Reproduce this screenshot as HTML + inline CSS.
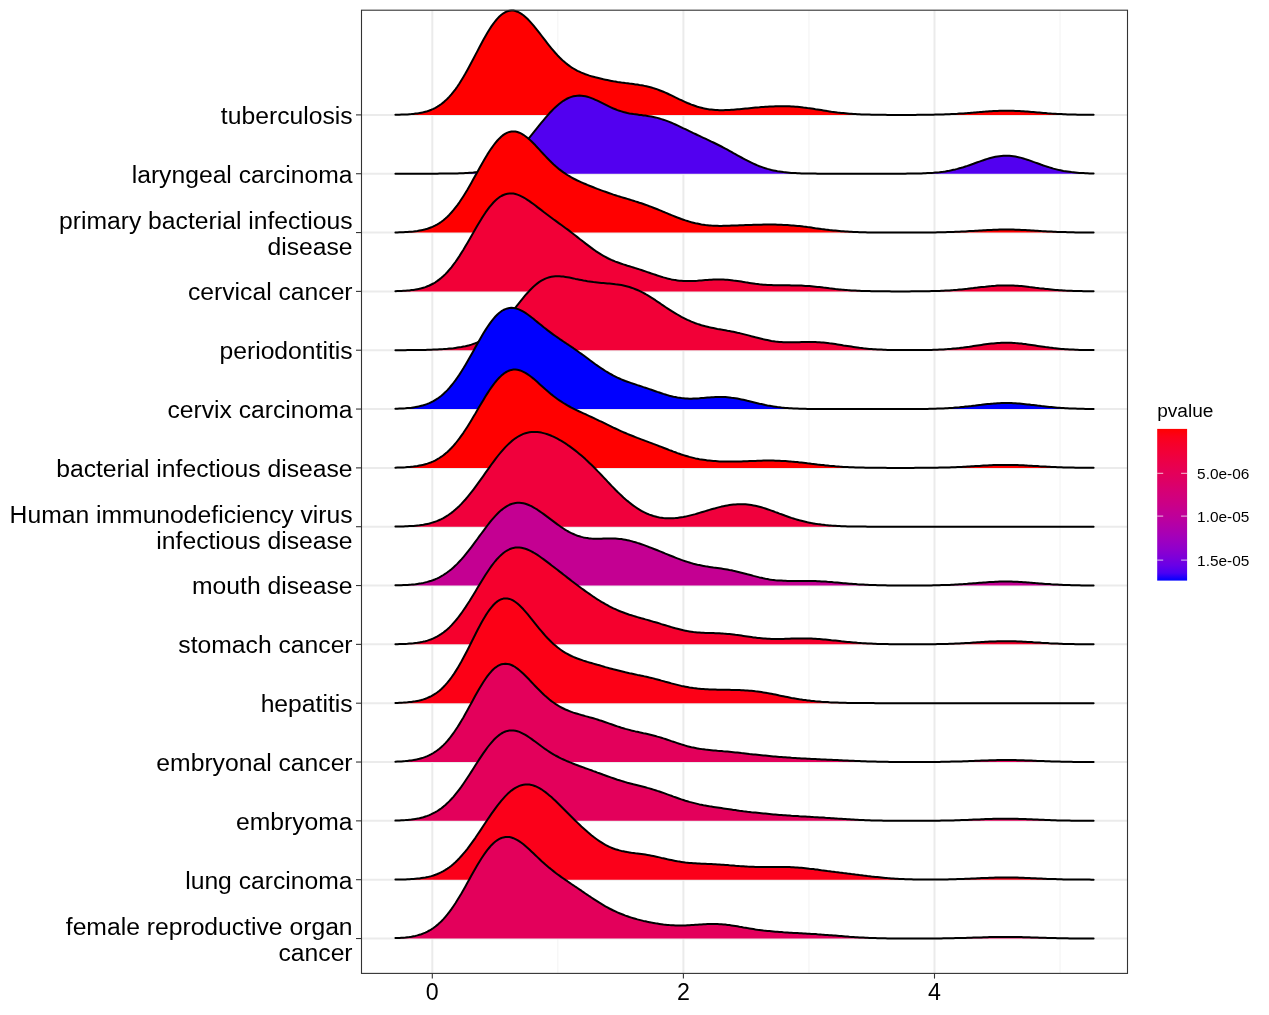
<!DOCTYPE html>
<html><head><meta charset="utf-8"><style>
html,body{margin:0;padding:0;background:#fff;width:1269px;height:1015px;overflow:hidden}
svg{display:block;will-change:transform}
text{font-family:"Liberation Sans",sans-serif;fill:#000}
</style></head><body>
<svg width="1269" height="1015" viewBox="0 0 1269 1015">
<rect width="1269" height="1015" fill="#fff"/>
<line x1="557.85" y1="10.2" x2="557.85" y2="973.4" stroke="#F4F4F4" stroke-width="1.1"/>
<line x1="808.95" y1="10.2" x2="808.95" y2="973.4" stroke="#F4F4F4" stroke-width="1.1"/>
<line x1="1060.05" y1="10.2" x2="1060.05" y2="973.4" stroke="#F4F4F4" stroke-width="1.1"/>
<line x1="432.30" y1="10.2" x2="432.30" y2="973.4" stroke="#EBEBEB" stroke-width="2"/>
<line x1="683.40" y1="10.2" x2="683.40" y2="973.4" stroke="#EBEBEB" stroke-width="2"/>
<line x1="934.50" y1="10.2" x2="934.50" y2="973.4" stroke="#EBEBEB" stroke-width="2"/>
<line x1="361.5" y1="114.90" x2="1127.5" y2="114.90" stroke="#EBEBEB" stroke-width="2"/>
<line x1="361.5" y1="173.73" x2="1127.5" y2="173.73" stroke="#EBEBEB" stroke-width="2"/>
<line x1="361.5" y1="232.56" x2="1127.5" y2="232.56" stroke="#EBEBEB" stroke-width="2"/>
<line x1="361.5" y1="291.39" x2="1127.5" y2="291.39" stroke="#EBEBEB" stroke-width="2"/>
<line x1="361.5" y1="350.22" x2="1127.5" y2="350.22" stroke="#EBEBEB" stroke-width="2"/>
<line x1="361.5" y1="409.05" x2="1127.5" y2="409.05" stroke="#EBEBEB" stroke-width="2"/>
<line x1="361.5" y1="467.88" x2="1127.5" y2="467.88" stroke="#EBEBEB" stroke-width="2"/>
<line x1="361.5" y1="526.71" x2="1127.5" y2="526.71" stroke="#EBEBEB" stroke-width="2"/>
<line x1="361.5" y1="585.54" x2="1127.5" y2="585.54" stroke="#EBEBEB" stroke-width="2"/>
<line x1="361.5" y1="644.37" x2="1127.5" y2="644.37" stroke="#EBEBEB" stroke-width="2"/>
<line x1="361.5" y1="703.20" x2="1127.5" y2="703.20" stroke="#EBEBEB" stroke-width="2"/>
<line x1="361.5" y1="762.03" x2="1127.5" y2="762.03" stroke="#EBEBEB" stroke-width="2"/>
<line x1="361.5" y1="820.86" x2="1127.5" y2="820.86" stroke="#EBEBEB" stroke-width="2"/>
<line x1="361.5" y1="879.69" x2="1127.5" y2="879.69" stroke="#EBEBEB" stroke-width="2"/>
<line x1="361.5" y1="938.52" x2="1127.5" y2="938.52" stroke="#EBEBEB" stroke-width="2"/>
<polygon points="395.4,114.90 395.4,114.8 397.4,114.7 399.4,114.7 401.4,114.6 403.4,114.5 405.4,114.5 407.4,114.4 409.4,114.2 411.4,114.1 413.4,113.9 415.4,113.6 417.4,113.4 419.4,113.1 421.4,112.7 423.4,112.3 425.4,111.7 427.4,111.2 429.4,110.5 431.4,109.7 433.4,108.8 435.4,107.8 437.4,106.7 439.4,105.4 441.4,104.0 443.4,102.4 445.4,100.6 447.4,98.7 449.4,96.6 451.4,94.4 453.4,91.9 455.4,89.3 457.4,86.5 459.4,83.5 461.4,80.3 463.4,77.0 465.4,73.6 467.4,70.0 469.4,66.3 471.4,62.6 473.4,58.8 475.4,54.9 477.4,51.1 479.4,47.3 481.4,43.5 483.4,39.8 485.4,36.2 487.4,32.8 489.4,29.5 491.4,26.4 493.4,23.6 495.4,21.0 497.4,18.6 499.4,16.5 501.4,14.8 503.4,13.3 505.4,12.1 507.4,11.3 509.4,10.8 511.4,10.5 513.4,10.6 515.4,11.0 517.4,11.7 519.4,12.7 521.4,13.9 523.4,15.3 525.4,17.0 527.4,18.8 529.4,20.9 531.4,23.1 533.4,25.4 535.4,27.8 537.4,30.3 539.4,32.9 541.4,35.5 543.4,38.1 545.4,40.7 547.4,43.3 549.4,45.8 551.4,48.3 553.4,50.7 555.4,53.0 557.4,55.2 559.4,57.3 561.4,59.2 563.4,61.1 565.4,62.8 567.4,64.4 569.4,65.9 571.4,67.3 573.4,68.5 575.4,69.7 577.4,70.8 579.4,71.7 581.4,72.6 583.4,73.4 585.4,74.2 587.4,74.9 589.4,75.6 591.4,76.2 593.4,76.7 595.4,77.3 597.4,77.8 599.4,78.3 601.4,78.8 603.4,79.3 605.4,79.7 607.4,80.1 609.4,80.5 611.4,80.9 613.4,81.3 615.4,81.6 617.4,82.0 619.4,82.3 621.4,82.6 623.4,82.8 625.4,83.1 627.4,83.3 629.4,83.6 631.4,83.8 633.4,84.1 635.4,84.4 637.4,84.6 639.4,85.0 641.4,85.3 643.4,85.6 645.4,86.1 647.4,86.5 649.4,87.0 651.4,87.5 653.4,88.1 655.4,88.8 657.4,89.4 659.4,90.2 661.4,91.0 663.4,91.8 665.4,92.6 667.4,93.5 669.4,94.5 671.4,95.4 673.4,96.4 675.4,97.4 677.4,98.3 679.4,99.3 681.4,100.2 683.4,101.2 685.4,102.1 687.4,103.0 689.4,103.8 691.4,104.6 693.4,105.3 695.4,106.0 697.4,106.7 699.4,107.3 701.4,107.8 703.4,108.3 705.4,108.7 707.4,109.1 709.4,109.4 711.4,109.6 713.4,109.8 715.4,110.0 717.4,110.1 719.4,110.2 721.4,110.2 723.4,110.2 725.4,110.1 727.4,110.0 729.4,109.9 731.4,109.8 733.4,109.7 735.4,109.5 737.4,109.3 739.4,109.2 741.4,109.0 743.4,108.8 745.4,108.6 747.4,108.4 749.4,108.2 751.4,108.0 753.4,107.8 755.4,107.6 757.4,107.4 759.4,107.3 761.4,107.1 763.4,106.9 765.4,106.8 767.4,106.7 769.4,106.5 771.4,106.4 773.4,106.4 775.4,106.3 777.4,106.2 779.4,106.2 781.4,106.2 783.4,106.2 785.4,106.2 787.4,106.2 789.4,106.3 791.4,106.4 793.4,106.5 795.4,106.7 797.4,106.8 799.4,107.0 801.4,107.2 803.4,107.5 805.4,107.7 807.4,108.0 809.4,108.2 811.4,108.5 813.4,108.8 815.4,109.2 817.4,109.5 819.4,109.8 821.4,110.1 823.4,110.4 825.4,110.7 827.4,111.1 829.4,111.4 831.4,111.7 833.4,111.9 835.4,112.2 837.4,112.5 839.4,112.7 841.4,112.9 843.4,113.1 845.4,113.3 847.4,113.5 849.4,113.7 851.4,113.8 853.4,114.0 855.4,114.1 857.4,114.2 859.4,114.3 861.4,114.4 863.4,114.5 865.4,114.5 867.4,114.6 869.4,114.6 871.4,114.7 873.4,114.7 875.4,114.7 877.4,114.8 879.4,114.8 881.4,114.8 883.4,114.8 885.4,114.8 887.4,114.9 889.4,114.9 891.4,114.9 893.4,114.9 895.4,114.9 897.4,114.9 899.4,114.9 901.4,114.9 903.4,114.9 905.4,114.9 907.4,114.9 909.4,114.9 911.4,114.9 913.4,114.9 915.4,114.9 917.4,114.8 919.4,114.8 921.4,114.8 923.4,114.8 925.4,114.8 927.4,114.8 929.4,114.7 931.4,114.7 933.4,114.7 935.4,114.6 937.4,114.6 939.4,114.5 941.4,114.5 943.4,114.4 945.4,114.3 947.4,114.3 949.4,114.2 951.4,114.1 953.4,114.0 955.4,113.9 957.4,113.8 959.4,113.6 961.4,113.5 963.4,113.4 965.4,113.2 967.4,113.1 969.4,112.9 971.4,112.7 973.4,112.6 975.4,112.4 977.4,112.2 979.4,112.1 981.4,111.9 983.4,111.7 985.4,111.6 987.4,111.4 989.4,111.3 991.4,111.2 993.4,111.1 995.4,111.0 997.4,110.9 999.4,110.8 1001.4,110.7 1003.4,110.7 1005.4,110.7 1007.4,110.7 1009.4,110.7 1011.4,110.8 1013.4,110.8 1015.4,110.9 1017.4,111.0 1019.4,111.1 1021.4,111.2 1023.4,111.3 1025.4,111.5 1027.4,111.6 1029.4,111.8 1031.4,112.0 1033.4,112.1 1035.4,112.3 1037.4,112.5 1039.4,112.6 1041.4,112.8 1043.4,113.0 1045.4,113.1 1047.4,113.3 1049.4,113.4 1051.4,113.6 1053.4,113.7 1055.4,113.8 1057.4,113.9 1059.4,114.0 1061.4,114.1 1063.4,114.2 1065.4,114.3 1067.4,114.4 1069.4,114.5 1071.4,114.5 1073.4,114.6 1075.4,114.6 1077.4,114.7 1079.4,114.7 1081.4,114.7 1083.4,114.8 1085.4,114.8 1087.4,114.8 1089.4,114.8 1091.4,114.8 1093.4,114.8 1093.6,114.8 1093.6,114.90" fill="#FF0000" stroke="none"/>
<polyline points="395.4,114.8 397.4,114.7 399.4,114.7 401.4,114.6 403.4,114.5 405.4,114.5 407.4,114.4 409.4,114.2 411.4,114.1 413.4,113.9 415.4,113.6 417.4,113.4 419.4,113.1 421.4,112.7 423.4,112.3 425.4,111.7 427.4,111.2 429.4,110.5 431.4,109.7 433.4,108.8 435.4,107.8 437.4,106.7 439.4,105.4 441.4,104.0 443.4,102.4 445.4,100.6 447.4,98.7 449.4,96.6 451.4,94.4 453.4,91.9 455.4,89.3 457.4,86.5 459.4,83.5 461.4,80.3 463.4,77.0 465.4,73.6 467.4,70.0 469.4,66.3 471.4,62.6 473.4,58.8 475.4,54.9 477.4,51.1 479.4,47.3 481.4,43.5 483.4,39.8 485.4,36.2 487.4,32.8 489.4,29.5 491.4,26.4 493.4,23.6 495.4,21.0 497.4,18.6 499.4,16.5 501.4,14.8 503.4,13.3 505.4,12.1 507.4,11.3 509.4,10.8 511.4,10.5 513.4,10.6 515.4,11.0 517.4,11.7 519.4,12.7 521.4,13.9 523.4,15.3 525.4,17.0 527.4,18.8 529.4,20.9 531.4,23.1 533.4,25.4 535.4,27.8 537.4,30.3 539.4,32.9 541.4,35.5 543.4,38.1 545.4,40.7 547.4,43.3 549.4,45.8 551.4,48.3 553.4,50.7 555.4,53.0 557.4,55.2 559.4,57.3 561.4,59.2 563.4,61.1 565.4,62.8 567.4,64.4 569.4,65.9 571.4,67.3 573.4,68.5 575.4,69.7 577.4,70.8 579.4,71.7 581.4,72.6 583.4,73.4 585.4,74.2 587.4,74.9 589.4,75.6 591.4,76.2 593.4,76.7 595.4,77.3 597.4,77.8 599.4,78.3 601.4,78.8 603.4,79.3 605.4,79.7 607.4,80.1 609.4,80.5 611.4,80.9 613.4,81.3 615.4,81.6 617.4,82.0 619.4,82.3 621.4,82.6 623.4,82.8 625.4,83.1 627.4,83.3 629.4,83.6 631.4,83.8 633.4,84.1 635.4,84.4 637.4,84.6 639.4,85.0 641.4,85.3 643.4,85.6 645.4,86.1 647.4,86.5 649.4,87.0 651.4,87.5 653.4,88.1 655.4,88.8 657.4,89.4 659.4,90.2 661.4,91.0 663.4,91.8 665.4,92.6 667.4,93.5 669.4,94.5 671.4,95.4 673.4,96.4 675.4,97.4 677.4,98.3 679.4,99.3 681.4,100.2 683.4,101.2 685.4,102.1 687.4,103.0 689.4,103.8 691.4,104.6 693.4,105.3 695.4,106.0 697.4,106.7 699.4,107.3 701.4,107.8 703.4,108.3 705.4,108.7 707.4,109.1 709.4,109.4 711.4,109.6 713.4,109.8 715.4,110.0 717.4,110.1 719.4,110.2 721.4,110.2 723.4,110.2 725.4,110.1 727.4,110.0 729.4,109.9 731.4,109.8 733.4,109.7 735.4,109.5 737.4,109.3 739.4,109.2 741.4,109.0 743.4,108.8 745.4,108.6 747.4,108.4 749.4,108.2 751.4,108.0 753.4,107.8 755.4,107.6 757.4,107.4 759.4,107.3 761.4,107.1 763.4,106.9 765.4,106.8 767.4,106.7 769.4,106.5 771.4,106.4 773.4,106.4 775.4,106.3 777.4,106.2 779.4,106.2 781.4,106.2 783.4,106.2 785.4,106.2 787.4,106.2 789.4,106.3 791.4,106.4 793.4,106.5 795.4,106.7 797.4,106.8 799.4,107.0 801.4,107.2 803.4,107.5 805.4,107.7 807.4,108.0 809.4,108.2 811.4,108.5 813.4,108.8 815.4,109.2 817.4,109.5 819.4,109.8 821.4,110.1 823.4,110.4 825.4,110.7 827.4,111.1 829.4,111.4 831.4,111.7 833.4,111.9 835.4,112.2 837.4,112.5 839.4,112.7 841.4,112.9 843.4,113.1 845.4,113.3 847.4,113.5 849.4,113.7 851.4,113.8 853.4,114.0 855.4,114.1 857.4,114.2 859.4,114.3 861.4,114.4 863.4,114.5 865.4,114.5 867.4,114.6 869.4,114.6 871.4,114.7 873.4,114.7 875.4,114.7 877.4,114.8 879.4,114.8 881.4,114.8 883.4,114.8 885.4,114.8 887.4,114.9 889.4,114.9 891.4,114.9 893.4,114.9 895.4,114.9 897.4,114.9 899.4,114.9 901.4,114.9 903.4,114.9 905.4,114.9 907.4,114.9 909.4,114.9 911.4,114.9 913.4,114.9 915.4,114.9 917.4,114.8 919.4,114.8 921.4,114.8 923.4,114.8 925.4,114.8 927.4,114.8 929.4,114.7 931.4,114.7 933.4,114.7 935.4,114.6 937.4,114.6 939.4,114.5 941.4,114.5 943.4,114.4 945.4,114.3 947.4,114.3 949.4,114.2 951.4,114.1 953.4,114.0 955.4,113.9 957.4,113.8 959.4,113.6 961.4,113.5 963.4,113.4 965.4,113.2 967.4,113.1 969.4,112.9 971.4,112.7 973.4,112.6 975.4,112.4 977.4,112.2 979.4,112.1 981.4,111.9 983.4,111.7 985.4,111.6 987.4,111.4 989.4,111.3 991.4,111.2 993.4,111.1 995.4,111.0 997.4,110.9 999.4,110.8 1001.4,110.7 1003.4,110.7 1005.4,110.7 1007.4,110.7 1009.4,110.7 1011.4,110.8 1013.4,110.8 1015.4,110.9 1017.4,111.0 1019.4,111.1 1021.4,111.2 1023.4,111.3 1025.4,111.5 1027.4,111.6 1029.4,111.8 1031.4,112.0 1033.4,112.1 1035.4,112.3 1037.4,112.5 1039.4,112.6 1041.4,112.8 1043.4,113.0 1045.4,113.1 1047.4,113.3 1049.4,113.4 1051.4,113.6 1053.4,113.7 1055.4,113.8 1057.4,113.9 1059.4,114.0 1061.4,114.1 1063.4,114.2 1065.4,114.3 1067.4,114.4 1069.4,114.5 1071.4,114.5 1073.4,114.6 1075.4,114.6 1077.4,114.7 1079.4,114.7 1081.4,114.7 1083.4,114.8 1085.4,114.8 1087.4,114.8 1089.4,114.8 1091.4,114.8 1093.4,114.8 1093.6,114.8" fill="none" stroke="#000" stroke-width="2.0" stroke-linejoin="round" stroke-linecap="round"/>
<polygon points="395.4,173.73 395.4,173.7 397.4,173.7 399.4,173.7 401.4,173.7 403.4,173.7 405.4,173.7 407.4,173.7 409.4,173.7 411.4,173.7 413.4,173.7 415.4,173.7 417.4,173.7 419.4,173.7 421.4,173.7 423.4,173.7 425.4,173.7 427.4,173.7 429.4,173.7 431.4,173.7 433.4,173.7 435.4,173.7 437.4,173.7 439.4,173.6 441.4,173.6 443.4,173.6 445.4,173.6 447.4,173.6 449.4,173.6 451.4,173.5 453.4,173.5 455.4,173.5 457.4,173.4 459.4,173.3 461.4,173.3 463.4,173.2 465.4,173.1 467.4,173.0 469.4,172.8 471.4,172.7 473.4,172.5 475.4,172.2 477.4,172.0 479.4,171.7 481.4,171.3 483.4,170.9 485.4,170.4 487.4,169.9 489.4,169.3 491.4,168.6 493.4,167.9 495.4,167.0 497.4,166.1 499.4,165.1 501.4,164.0 503.4,162.7 505.4,161.4 507.4,159.9 509.4,158.4 511.4,156.7 513.4,155.0 515.4,153.1 517.4,151.2 519.4,149.1 521.4,146.9 523.4,144.7 525.4,142.4 527.4,140.0 529.4,137.6 531.4,135.2 533.4,132.7 535.4,130.2 537.4,127.7 539.4,125.2 541.4,122.7 543.4,120.3 545.4,117.9 547.4,115.6 549.4,113.3 551.4,111.2 553.4,109.1 555.4,107.2 557.4,105.4 559.4,103.7 561.4,102.2 563.4,100.8 565.4,99.6 567.4,98.5 569.4,97.6 571.4,96.9 573.4,96.3 575.4,95.9 577.4,95.7 579.4,95.6 581.4,95.7 583.4,96.0 585.4,96.3 587.4,96.8 589.4,97.4 591.4,98.1 593.4,98.9 595.4,99.8 597.4,100.7 599.4,101.7 601.4,102.7 603.4,103.7 605.4,104.7 607.4,105.7 609.4,106.7 611.4,107.6 613.4,108.5 615.4,109.3 617.4,110.1 619.4,110.8 621.4,111.4 623.4,112.0 625.4,112.5 627.4,113.0 629.4,113.4 631.4,113.7 633.4,114.1 635.4,114.3 637.4,114.6 639.4,114.9 641.4,115.1 643.4,115.4 645.4,115.6 647.4,115.9 649.4,116.2 651.4,116.6 653.4,117.0 655.4,117.4 657.4,117.9 659.4,118.5 661.4,119.1 663.4,119.7 665.4,120.4 667.4,121.1 669.4,121.9 671.4,122.7 673.4,123.6 675.4,124.5 677.4,125.4 679.4,126.3 681.4,127.3 683.4,128.3 685.4,129.2 687.4,130.2 689.4,131.2 691.4,132.1 693.4,133.1 695.4,134.0 697.4,135.0 699.4,135.9 701.4,136.9 703.4,137.8 705.4,138.7 707.4,139.7 709.4,140.6 711.4,141.6 713.4,142.5 715.4,143.5 717.4,144.5 719.4,145.5 721.4,146.5 723.4,147.6 725.4,148.7 727.4,149.7 729.4,150.8 731.4,151.9 733.4,153.1 735.4,154.2 737.4,155.3 739.4,156.4 741.4,157.5 743.4,158.6 745.4,159.7 747.4,160.7 749.4,161.7 751.4,162.7 753.4,163.6 755.4,164.5 757.4,165.4 759.4,166.2 761.4,166.9 763.4,167.6 765.4,168.3 767.4,168.9 769.4,169.4 771.4,170.0 773.4,170.4 775.4,170.8 777.4,171.2 779.4,171.5 781.4,171.8 783.4,172.1 785.4,172.3 787.4,172.5 789.4,172.7 791.4,172.9 793.4,173.0 795.4,173.1 797.4,173.2 799.4,173.3 801.4,173.4 803.4,173.4 805.4,173.5 807.4,173.5 809.4,173.6 811.4,173.6 813.4,173.6 815.4,173.6 817.4,173.7 819.4,173.7 821.4,173.7 823.4,173.7 825.4,173.7 827.4,173.7 829.4,173.7 831.4,173.7 833.4,173.7 835.4,173.7 837.4,173.7 839.4,173.7 841.4,173.7 843.4,173.7 845.4,173.7 847.4,173.7 849.4,173.7 851.4,173.7 853.4,173.7 855.4,173.7 857.4,173.7 859.4,173.7 861.4,173.7 863.4,173.7 865.4,173.7 867.4,173.7 869.4,173.7 871.4,173.7 873.4,173.7 875.4,173.7 877.4,173.7 879.4,173.7 881.4,173.7 883.4,173.7 885.4,173.7 887.4,173.7 889.4,173.7 891.4,173.7 893.4,173.7 895.4,173.7 897.4,173.7 899.4,173.7 901.4,173.7 903.4,173.7 905.4,173.7 907.4,173.6 909.4,173.6 911.4,173.6 913.4,173.6 915.4,173.5 917.4,173.5 919.4,173.4 921.4,173.4 923.4,173.3 925.4,173.2 927.4,173.1 929.4,173.0 931.4,172.9 933.4,172.8 935.4,172.6 937.4,172.4 939.4,172.2 941.4,171.9 943.4,171.7 945.4,171.4 947.4,171.0 949.4,170.7 951.4,170.3 953.4,169.8 955.4,169.4 957.4,168.9 959.4,168.3 961.4,167.8 963.4,167.2 965.4,166.5 967.4,165.9 969.4,165.2 971.4,164.5 973.4,163.8 975.4,163.0 977.4,162.3 979.4,161.6 981.4,160.9 983.4,160.2 985.4,159.5 987.4,158.9 989.4,158.3 991.4,157.8 993.4,157.3 995.4,156.8 997.4,156.5 999.4,156.2 1001.4,155.9 1003.4,155.8 1005.4,155.7 1007.4,155.7 1009.4,155.8 1011.4,156.0 1013.4,156.3 1015.4,156.6 1017.4,157.0 1019.4,157.4 1021.4,157.9 1023.4,158.5 1025.4,159.1 1027.4,159.8 1029.4,160.4 1031.4,161.1 1033.4,161.9 1035.4,162.6 1037.4,163.3 1039.4,164.0 1041.4,164.8 1043.4,165.5 1045.4,166.1 1047.4,166.8 1049.4,167.4 1051.4,168.0 1053.4,168.6 1055.4,169.1 1057.4,169.6 1059.4,170.1 1061.4,170.5 1063.4,170.9 1065.4,171.2 1067.4,171.5 1069.4,171.8 1071.4,172.1 1073.4,172.3 1075.4,172.5 1077.4,172.7 1079.4,172.9 1081.4,173.0 1083.4,173.1 1085.4,173.2 1087.4,173.3 1089.4,173.4 1091.4,173.4 1093.4,173.5 1093.6,173.5 1093.6,173.73" fill="#5200F0" stroke="none"/>
<polyline points="395.4,173.7 397.4,173.7 399.4,173.7 401.4,173.7 403.4,173.7 405.4,173.7 407.4,173.7 409.4,173.7 411.4,173.7 413.4,173.7 415.4,173.7 417.4,173.7 419.4,173.7 421.4,173.7 423.4,173.7 425.4,173.7 427.4,173.7 429.4,173.7 431.4,173.7 433.4,173.7 435.4,173.7 437.4,173.7 439.4,173.6 441.4,173.6 443.4,173.6 445.4,173.6 447.4,173.6 449.4,173.6 451.4,173.5 453.4,173.5 455.4,173.5 457.4,173.4 459.4,173.3 461.4,173.3 463.4,173.2 465.4,173.1 467.4,173.0 469.4,172.8 471.4,172.7 473.4,172.5 475.4,172.2 477.4,172.0 479.4,171.7 481.4,171.3 483.4,170.9 485.4,170.4 487.4,169.9 489.4,169.3 491.4,168.6 493.4,167.9 495.4,167.0 497.4,166.1 499.4,165.1 501.4,164.0 503.4,162.7 505.4,161.4 507.4,159.9 509.4,158.4 511.4,156.7 513.4,155.0 515.4,153.1 517.4,151.2 519.4,149.1 521.4,146.9 523.4,144.7 525.4,142.4 527.4,140.0 529.4,137.6 531.4,135.2 533.4,132.7 535.4,130.2 537.4,127.7 539.4,125.2 541.4,122.7 543.4,120.3 545.4,117.9 547.4,115.6 549.4,113.3 551.4,111.2 553.4,109.1 555.4,107.2 557.4,105.4 559.4,103.7 561.4,102.2 563.4,100.8 565.4,99.6 567.4,98.5 569.4,97.6 571.4,96.9 573.4,96.3 575.4,95.9 577.4,95.7 579.4,95.6 581.4,95.7 583.4,96.0 585.4,96.3 587.4,96.8 589.4,97.4 591.4,98.1 593.4,98.9 595.4,99.8 597.4,100.7 599.4,101.7 601.4,102.7 603.4,103.7 605.4,104.7 607.4,105.7 609.4,106.7 611.4,107.6 613.4,108.5 615.4,109.3 617.4,110.1 619.4,110.8 621.4,111.4 623.4,112.0 625.4,112.5 627.4,113.0 629.4,113.4 631.4,113.7 633.4,114.1 635.4,114.3 637.4,114.6 639.4,114.9 641.4,115.1 643.4,115.4 645.4,115.6 647.4,115.9 649.4,116.2 651.4,116.6 653.4,117.0 655.4,117.4 657.4,117.9 659.4,118.5 661.4,119.1 663.4,119.7 665.4,120.4 667.4,121.1 669.4,121.9 671.4,122.7 673.4,123.6 675.4,124.5 677.4,125.4 679.4,126.3 681.4,127.3 683.4,128.3 685.4,129.2 687.4,130.2 689.4,131.2 691.4,132.1 693.4,133.1 695.4,134.0 697.4,135.0 699.4,135.9 701.4,136.9 703.4,137.8 705.4,138.7 707.4,139.7 709.4,140.6 711.4,141.6 713.4,142.5 715.4,143.5 717.4,144.5 719.4,145.5 721.4,146.5 723.4,147.6 725.4,148.7 727.4,149.7 729.4,150.8 731.4,151.9 733.4,153.1 735.4,154.2 737.4,155.3 739.4,156.4 741.4,157.5 743.4,158.6 745.4,159.7 747.4,160.7 749.4,161.7 751.4,162.7 753.4,163.6 755.4,164.5 757.4,165.4 759.4,166.2 761.4,166.9 763.4,167.6 765.4,168.3 767.4,168.9 769.4,169.4 771.4,170.0 773.4,170.4 775.4,170.8 777.4,171.2 779.4,171.5 781.4,171.8 783.4,172.1 785.4,172.3 787.4,172.5 789.4,172.7 791.4,172.9 793.4,173.0 795.4,173.1 797.4,173.2 799.4,173.3 801.4,173.4 803.4,173.4 805.4,173.5 807.4,173.5 809.4,173.6 811.4,173.6 813.4,173.6 815.4,173.6 817.4,173.7 819.4,173.7 821.4,173.7 823.4,173.7 825.4,173.7 827.4,173.7 829.4,173.7 831.4,173.7 833.4,173.7 835.4,173.7 837.4,173.7 839.4,173.7 841.4,173.7 843.4,173.7 845.4,173.7 847.4,173.7 849.4,173.7 851.4,173.7 853.4,173.7 855.4,173.7 857.4,173.7 859.4,173.7 861.4,173.7 863.4,173.7 865.4,173.7 867.4,173.7 869.4,173.7 871.4,173.7 873.4,173.7 875.4,173.7 877.4,173.7 879.4,173.7 881.4,173.7 883.4,173.7 885.4,173.7 887.4,173.7 889.4,173.7 891.4,173.7 893.4,173.7 895.4,173.7 897.4,173.7 899.4,173.7 901.4,173.7 903.4,173.7 905.4,173.7 907.4,173.6 909.4,173.6 911.4,173.6 913.4,173.6 915.4,173.5 917.4,173.5 919.4,173.4 921.4,173.4 923.4,173.3 925.4,173.2 927.4,173.1 929.4,173.0 931.4,172.9 933.4,172.8 935.4,172.6 937.4,172.4 939.4,172.2 941.4,171.9 943.4,171.7 945.4,171.4 947.4,171.0 949.4,170.7 951.4,170.3 953.4,169.8 955.4,169.4 957.4,168.9 959.4,168.3 961.4,167.8 963.4,167.2 965.4,166.5 967.4,165.9 969.4,165.2 971.4,164.5 973.4,163.8 975.4,163.0 977.4,162.3 979.4,161.6 981.4,160.9 983.4,160.2 985.4,159.5 987.4,158.9 989.4,158.3 991.4,157.8 993.4,157.3 995.4,156.8 997.4,156.5 999.4,156.2 1001.4,155.9 1003.4,155.8 1005.4,155.7 1007.4,155.7 1009.4,155.8 1011.4,156.0 1013.4,156.3 1015.4,156.6 1017.4,157.0 1019.4,157.4 1021.4,157.9 1023.4,158.5 1025.4,159.1 1027.4,159.8 1029.4,160.4 1031.4,161.1 1033.4,161.9 1035.4,162.6 1037.4,163.3 1039.4,164.0 1041.4,164.8 1043.4,165.5 1045.4,166.1 1047.4,166.8 1049.4,167.4 1051.4,168.0 1053.4,168.6 1055.4,169.1 1057.4,169.6 1059.4,170.1 1061.4,170.5 1063.4,170.9 1065.4,171.2 1067.4,171.5 1069.4,171.8 1071.4,172.1 1073.4,172.3 1075.4,172.5 1077.4,172.7 1079.4,172.9 1081.4,173.0 1083.4,173.1 1085.4,173.2 1087.4,173.3 1089.4,173.4 1091.4,173.4 1093.4,173.5 1093.6,173.5" fill="none" stroke="#000" stroke-width="2.0" stroke-linejoin="round" stroke-linecap="round"/>
<polygon points="395.4,232.56 395.4,232.4 397.4,232.4 399.4,232.3 401.4,232.2 403.4,232.2 405.4,232.1 407.4,232.0 409.4,231.8 411.4,231.7 413.4,231.5 415.4,231.2 417.4,231.0 419.4,230.6 421.4,230.2 423.4,229.8 425.4,229.3 427.4,228.7 429.4,228.0 431.4,227.3 433.4,226.4 435.4,225.4 437.4,224.3 439.4,223.1 441.4,221.7 443.4,220.2 445.4,218.5 447.4,216.7 449.4,214.7 451.4,212.5 453.4,210.2 455.4,207.7 457.4,205.1 459.4,202.3 461.4,199.3 463.4,196.2 465.4,193.0 467.4,189.7 469.4,186.2 471.4,182.7 473.4,179.1 475.4,175.5 477.4,171.9 479.4,168.3 481.4,164.7 483.4,161.2 485.4,157.8 487.4,154.4 489.4,151.3 491.4,148.3 493.4,145.5 495.4,142.9 497.4,140.5 499.4,138.4 501.4,136.5 503.4,134.9 505.4,133.6 507.4,132.6 509.4,131.9 511.4,131.5 513.4,131.4 515.4,131.5 517.4,132.0 519.4,132.7 521.4,133.6 523.4,134.8 525.4,136.2 527.4,137.7 529.4,139.4 531.4,141.3 533.4,143.3 535.4,145.3 537.4,147.5 539.4,149.6 541.4,151.8 543.4,154.0 545.4,156.1 547.4,158.2 549.4,160.3 551.4,162.3 553.4,164.2 555.4,166.0 557.4,167.7 559.4,169.4 561.4,170.9 563.4,172.4 565.4,173.7 567.4,175.0 569.4,176.2 571.4,177.4 573.4,178.5 575.4,179.5 577.4,180.5 579.4,181.4 581.4,182.3 583.4,183.2 585.4,184.0 587.4,184.9 589.4,185.7 591.4,186.5 593.4,187.3 595.4,188.1 597.4,188.9 599.4,189.6 601.4,190.4 603.4,191.1 605.4,191.8 607.4,192.5 609.4,193.2 611.4,193.9 613.4,194.6 615.4,195.2 617.4,195.9 619.4,196.5 621.4,197.1 623.4,197.7 625.4,198.3 627.4,198.9 629.4,199.5 631.4,200.1 633.4,200.7 635.4,201.4 637.4,202.0 639.4,202.7 641.4,203.3 643.4,204.0 645.4,204.7 647.4,205.4 649.4,206.2 651.4,206.9 653.4,207.7 655.4,208.5 657.4,209.3 659.4,210.1 661.4,210.9 663.4,211.8 665.4,212.6 667.4,213.4 669.4,214.3 671.4,215.1 673.4,215.9 675.4,216.7 677.4,217.5 679.4,218.2 681.4,219.0 683.4,219.7 685.4,220.4 687.4,221.0 689.4,221.6 691.4,222.2 693.4,222.7 695.4,223.2 697.4,223.6 699.4,224.0 701.4,224.4 703.4,224.7 705.4,225.0 707.4,225.2 709.4,225.4 711.4,225.6 713.4,225.7 715.4,225.8 717.4,225.8 719.4,225.9 721.4,225.9 723.4,225.8 725.4,225.8 727.4,225.8 729.4,225.7 731.4,225.6 733.4,225.6 735.4,225.5 737.4,225.4 739.4,225.3 741.4,225.2 743.4,225.2 745.4,225.1 747.4,225.0 749.4,225.0 751.4,224.9 753.4,224.8 755.4,224.8 757.4,224.7 759.4,224.7 761.4,224.7 763.4,224.6 765.4,224.6 767.4,224.6 769.4,224.6 771.4,224.6 773.4,224.6 775.4,224.6 777.4,224.7 779.4,224.7 781.4,224.8 783.4,224.9 785.4,225.0 787.4,225.1 789.4,225.2 791.4,225.4 793.4,225.5 795.4,225.7 797.4,225.9 799.4,226.1 801.4,226.3 803.4,226.6 805.4,226.8 807.4,227.1 809.4,227.3 811.4,227.6 813.4,227.9 815.4,228.2 817.4,228.4 819.4,228.7 821.4,229.0 823.4,229.2 825.4,229.5 827.4,229.7 829.4,230.0 831.4,230.2 833.4,230.4 835.4,230.6 837.4,230.8 839.4,231.0 841.4,231.2 843.4,231.3 845.4,231.5 847.4,231.6 849.4,231.7 851.4,231.8 853.4,231.9 855.4,232.0 857.4,232.1 859.4,232.2 861.4,232.2 863.4,232.3 865.4,232.3 867.4,232.4 869.4,232.4 871.4,232.4 873.4,232.4 875.4,232.5 877.4,232.5 879.4,232.5 881.4,232.5 883.4,232.5 885.4,232.5 887.4,232.5 889.4,232.5 891.4,232.5 893.4,232.5 895.4,232.5 897.4,232.5 899.4,232.5 901.4,232.5 903.4,232.5 905.4,232.5 907.4,232.5 909.4,232.5 911.4,232.5 913.4,232.5 915.4,232.5 917.4,232.5 919.4,232.5 921.4,232.5 923.4,232.5 925.4,232.5 927.4,232.5 929.4,232.4 931.4,232.4 933.4,232.4 935.4,232.4 937.4,232.3 939.4,232.3 941.4,232.3 943.4,232.2 945.4,232.2 947.4,232.1 949.4,232.1 951.4,232.0 953.4,231.9 955.4,231.8 957.4,231.8 959.4,231.7 961.4,231.6 963.4,231.5 965.4,231.4 967.4,231.2 969.4,231.1 971.4,231.0 973.4,230.9 975.4,230.8 977.4,230.7 979.4,230.5 981.4,230.4 983.4,230.3 985.4,230.2 987.4,230.1 989.4,230.0 991.4,229.9 993.4,229.8 995.4,229.7 997.4,229.7 999.4,229.6 1001.4,229.6 1003.4,229.6 1005.4,229.6 1007.4,229.6 1009.4,229.6 1011.4,229.6 1013.4,229.6 1015.4,229.7 1017.4,229.8 1019.4,229.8 1021.4,229.9 1023.4,230.0 1025.4,230.1 1027.4,230.2 1029.4,230.3 1031.4,230.5 1033.4,230.6 1035.4,230.7 1037.4,230.8 1039.4,230.9 1041.4,231.1 1043.4,231.2 1045.4,231.3 1047.4,231.4 1049.4,231.5 1051.4,231.6 1053.4,231.7 1055.4,231.8 1057.4,231.9 1059.4,232.0 1061.4,232.0 1063.4,232.1 1065.4,232.1 1067.4,232.2 1069.4,232.2 1071.4,232.3 1073.4,232.3 1075.4,232.4 1077.4,232.4 1079.4,232.4 1081.4,232.4 1083.4,232.5 1085.4,232.5 1087.4,232.5 1089.4,232.5 1091.4,232.5 1093.4,232.5 1093.6,232.5 1093.6,232.56" fill="#FF0000" stroke="none"/>
<polyline points="395.4,232.4 397.4,232.4 399.4,232.3 401.4,232.2 403.4,232.2 405.4,232.1 407.4,232.0 409.4,231.8 411.4,231.7 413.4,231.5 415.4,231.2 417.4,231.0 419.4,230.6 421.4,230.2 423.4,229.8 425.4,229.3 427.4,228.7 429.4,228.0 431.4,227.3 433.4,226.4 435.4,225.4 437.4,224.3 439.4,223.1 441.4,221.7 443.4,220.2 445.4,218.5 447.4,216.7 449.4,214.7 451.4,212.5 453.4,210.2 455.4,207.7 457.4,205.1 459.4,202.3 461.4,199.3 463.4,196.2 465.4,193.0 467.4,189.7 469.4,186.2 471.4,182.7 473.4,179.1 475.4,175.5 477.4,171.9 479.4,168.3 481.4,164.7 483.4,161.2 485.4,157.8 487.4,154.4 489.4,151.3 491.4,148.3 493.4,145.5 495.4,142.9 497.4,140.5 499.4,138.4 501.4,136.5 503.4,134.9 505.4,133.6 507.4,132.6 509.4,131.9 511.4,131.5 513.4,131.4 515.4,131.5 517.4,132.0 519.4,132.7 521.4,133.6 523.4,134.8 525.4,136.2 527.4,137.7 529.4,139.4 531.4,141.3 533.4,143.3 535.4,145.3 537.4,147.5 539.4,149.6 541.4,151.8 543.4,154.0 545.4,156.1 547.4,158.2 549.4,160.3 551.4,162.3 553.4,164.2 555.4,166.0 557.4,167.7 559.4,169.4 561.4,170.9 563.4,172.4 565.4,173.7 567.4,175.0 569.4,176.2 571.4,177.4 573.4,178.5 575.4,179.5 577.4,180.5 579.4,181.4 581.4,182.3 583.4,183.2 585.4,184.0 587.4,184.9 589.4,185.7 591.4,186.5 593.4,187.3 595.4,188.1 597.4,188.9 599.4,189.6 601.4,190.4 603.4,191.1 605.4,191.8 607.4,192.5 609.4,193.2 611.4,193.9 613.4,194.6 615.4,195.2 617.4,195.9 619.4,196.5 621.4,197.1 623.4,197.7 625.4,198.3 627.4,198.9 629.4,199.5 631.4,200.1 633.4,200.7 635.4,201.4 637.4,202.0 639.4,202.7 641.4,203.3 643.4,204.0 645.4,204.7 647.4,205.4 649.4,206.2 651.4,206.9 653.4,207.7 655.4,208.5 657.4,209.3 659.4,210.1 661.4,210.9 663.4,211.8 665.4,212.6 667.4,213.4 669.4,214.3 671.4,215.1 673.4,215.9 675.4,216.7 677.4,217.5 679.4,218.2 681.4,219.0 683.4,219.7 685.4,220.4 687.4,221.0 689.4,221.6 691.4,222.2 693.4,222.7 695.4,223.2 697.4,223.6 699.4,224.0 701.4,224.4 703.4,224.7 705.4,225.0 707.4,225.2 709.4,225.4 711.4,225.6 713.4,225.7 715.4,225.8 717.4,225.8 719.4,225.9 721.4,225.9 723.4,225.8 725.4,225.8 727.4,225.8 729.4,225.7 731.4,225.6 733.4,225.6 735.4,225.5 737.4,225.4 739.4,225.3 741.4,225.2 743.4,225.2 745.4,225.1 747.4,225.0 749.4,225.0 751.4,224.9 753.4,224.8 755.4,224.8 757.4,224.7 759.4,224.7 761.4,224.7 763.4,224.6 765.4,224.6 767.4,224.6 769.4,224.6 771.4,224.6 773.4,224.6 775.4,224.6 777.4,224.7 779.4,224.7 781.4,224.8 783.4,224.9 785.4,225.0 787.4,225.1 789.4,225.2 791.4,225.4 793.4,225.5 795.4,225.7 797.4,225.9 799.4,226.1 801.4,226.3 803.4,226.6 805.4,226.8 807.4,227.1 809.4,227.3 811.4,227.6 813.4,227.9 815.4,228.2 817.4,228.4 819.4,228.7 821.4,229.0 823.4,229.2 825.4,229.5 827.4,229.7 829.4,230.0 831.4,230.2 833.4,230.4 835.4,230.6 837.4,230.8 839.4,231.0 841.4,231.2 843.4,231.3 845.4,231.5 847.4,231.6 849.4,231.7 851.4,231.8 853.4,231.9 855.4,232.0 857.4,232.1 859.4,232.2 861.4,232.2 863.4,232.3 865.4,232.3 867.4,232.4 869.4,232.4 871.4,232.4 873.4,232.4 875.4,232.5 877.4,232.5 879.4,232.5 881.4,232.5 883.4,232.5 885.4,232.5 887.4,232.5 889.4,232.5 891.4,232.5 893.4,232.5 895.4,232.5 897.4,232.5 899.4,232.5 901.4,232.5 903.4,232.5 905.4,232.5 907.4,232.5 909.4,232.5 911.4,232.5 913.4,232.5 915.4,232.5 917.4,232.5 919.4,232.5 921.4,232.5 923.4,232.5 925.4,232.5 927.4,232.5 929.4,232.4 931.4,232.4 933.4,232.4 935.4,232.4 937.4,232.3 939.4,232.3 941.4,232.3 943.4,232.2 945.4,232.2 947.4,232.1 949.4,232.1 951.4,232.0 953.4,231.9 955.4,231.8 957.4,231.8 959.4,231.7 961.4,231.6 963.4,231.5 965.4,231.4 967.4,231.2 969.4,231.1 971.4,231.0 973.4,230.9 975.4,230.8 977.4,230.7 979.4,230.5 981.4,230.4 983.4,230.3 985.4,230.2 987.4,230.1 989.4,230.0 991.4,229.9 993.4,229.8 995.4,229.7 997.4,229.7 999.4,229.6 1001.4,229.6 1003.4,229.6 1005.4,229.6 1007.4,229.6 1009.4,229.6 1011.4,229.6 1013.4,229.6 1015.4,229.7 1017.4,229.8 1019.4,229.8 1021.4,229.9 1023.4,230.0 1025.4,230.1 1027.4,230.2 1029.4,230.3 1031.4,230.5 1033.4,230.6 1035.4,230.7 1037.4,230.8 1039.4,230.9 1041.4,231.1 1043.4,231.2 1045.4,231.3 1047.4,231.4 1049.4,231.5 1051.4,231.6 1053.4,231.7 1055.4,231.8 1057.4,231.9 1059.4,232.0 1061.4,232.0 1063.4,232.1 1065.4,232.1 1067.4,232.2 1069.4,232.2 1071.4,232.3 1073.4,232.3 1075.4,232.4 1077.4,232.4 1079.4,232.4 1081.4,232.4 1083.4,232.5 1085.4,232.5 1087.4,232.5 1089.4,232.5 1091.4,232.5 1093.4,232.5 1093.6,232.5" fill="none" stroke="#000" stroke-width="2.0" stroke-linejoin="round" stroke-linecap="round"/>
<polygon points="395.4,291.39 395.4,291.2 397.4,291.1 399.4,291.0 401.4,290.9 403.4,290.8 405.4,290.7 407.4,290.5 409.4,290.4 411.4,290.1 413.4,289.9 415.4,289.6 417.4,289.2 419.4,288.8 421.4,288.3 423.4,287.7 425.4,287.1 427.4,286.3 429.4,285.5 431.4,284.5 433.4,283.5 435.4,282.3 437.4,280.9 439.4,279.4 441.4,277.8 443.4,276.0 445.4,274.1 447.4,272.0 449.4,269.7 451.4,267.3 453.4,264.7 455.4,262.0 457.4,259.1 459.4,256.1 461.4,252.9 463.4,249.7 465.4,246.3 467.4,242.9 469.4,239.5 471.4,236.0 473.4,232.5 475.4,229.0 477.4,225.6 479.4,222.2 481.4,218.9 483.4,215.8 485.4,212.7 487.4,209.9 489.4,207.2 491.4,204.8 493.4,202.5 495.4,200.5 497.4,198.7 499.4,197.2 501.4,196.0 503.4,195.0 505.4,194.2 507.4,193.7 509.4,193.4 511.4,193.4 513.4,193.6 515.4,194.0 517.4,194.6 519.4,195.4 521.4,196.3 523.4,197.3 525.4,198.5 527.4,199.8 529.4,201.1 531.4,202.6 533.4,204.0 535.4,205.5 537.4,207.1 539.4,208.6 541.4,210.1 543.4,211.7 545.4,213.2 547.4,214.7 549.4,216.2 551.4,217.7 553.4,219.2 555.4,220.6 557.4,222.1 559.4,223.6 561.4,225.0 563.4,226.5 565.4,228.0 567.4,229.4 569.4,230.9 571.4,232.5 573.4,234.0 575.4,235.5 577.4,237.1 579.4,238.7 581.4,240.2 583.4,241.8 585.4,243.4 587.4,244.9 589.4,246.4 591.4,247.9 593.4,249.4 595.4,250.8 597.4,252.1 599.4,253.4 601.4,254.7 603.4,255.8 605.4,256.9 607.4,258.0 609.4,259.0 611.4,259.9 613.4,260.7 615.4,261.6 617.4,262.3 619.4,263.0 621.4,263.7 623.4,264.4 625.4,265.0 627.4,265.7 629.4,266.3 631.4,266.9 633.4,267.5 635.4,268.1 637.4,268.8 639.4,269.4 641.4,270.0 643.4,270.7 645.4,271.4 647.4,272.1 649.4,272.8 651.4,273.5 653.4,274.1 655.4,274.8 657.4,275.5 659.4,276.1 661.4,276.8 663.4,277.4 665.4,277.9 667.4,278.5 669.4,278.9 671.4,279.4 673.4,279.8 675.4,280.1 677.4,280.4 679.4,280.7 681.4,280.8 683.4,281.0 685.4,281.1 687.4,281.1 689.4,281.1 691.4,281.1 693.4,281.0 695.4,280.9 697.4,280.8 699.4,280.6 701.4,280.5 703.4,280.3 705.4,280.1 707.4,280.0 709.4,279.8 711.4,279.7 713.4,279.6 715.4,279.6 717.4,279.5 719.4,279.5 721.4,279.5 723.4,279.6 725.4,279.7 727.4,279.8 729.4,280.0 731.4,280.2 733.4,280.5 735.4,280.7 737.4,281.0 739.4,281.3 741.4,281.6 743.4,281.9 745.4,282.3 747.4,282.6 749.4,282.9 751.4,283.2 753.4,283.5 755.4,283.8 757.4,284.0 759.4,284.3 761.4,284.5 763.4,284.7 765.4,284.8 767.4,284.9 769.4,285.1 771.4,285.1 773.4,285.2 775.4,285.3 777.4,285.3 779.4,285.3 781.4,285.3 783.4,285.3 785.4,285.3 787.4,285.3 789.4,285.3 791.4,285.4 793.4,285.4 795.4,285.4 797.4,285.5 799.4,285.5 801.4,285.6 803.4,285.7 805.4,285.9 807.4,286.0 809.4,286.1 811.4,286.3 813.4,286.5 815.4,286.7 817.4,286.9 819.4,287.1 821.4,287.3 823.4,287.6 825.4,287.8 827.4,288.0 829.4,288.3 831.4,288.5 833.4,288.7 835.4,289.0 837.4,289.2 839.4,289.4 841.4,289.6 843.4,289.7 845.4,289.9 847.4,290.1 849.4,290.2 851.4,290.4 853.4,290.5 855.4,290.6 857.4,290.7 859.4,290.8 861.4,290.9 863.4,290.9 865.4,291.0 867.4,291.1 869.4,291.1 871.4,291.2 873.4,291.2 875.4,291.2 877.4,291.3 879.4,291.3 881.4,291.3 883.4,291.3 885.4,291.3 887.4,291.3 889.4,291.3 891.4,291.4 893.4,291.4 895.4,291.4 897.4,291.4 899.4,291.4 901.4,291.4 903.4,291.4 905.4,291.4 907.4,291.4 909.4,291.4 911.4,291.3 913.4,291.3 915.4,291.3 917.4,291.3 919.4,291.3 921.4,291.3 923.4,291.3 925.4,291.2 927.4,291.2 929.4,291.2 931.4,291.1 933.4,291.1 935.4,291.0 937.4,290.9 939.4,290.9 941.4,290.8 943.4,290.7 945.4,290.6 947.4,290.5 949.4,290.4 951.4,290.2 953.4,290.1 955.4,289.9 957.4,289.8 959.4,289.6 961.4,289.4 963.4,289.2 965.4,289.0 967.4,288.8 969.4,288.5 971.4,288.3 973.4,288.1 975.4,287.8 977.4,287.6 979.4,287.3 981.4,287.1 983.4,286.9 985.4,286.7 987.4,286.4 989.4,286.2 991.4,286.1 993.4,285.9 995.4,285.8 997.4,285.6 999.4,285.5 1001.4,285.5 1003.4,285.4 1005.4,285.4 1007.4,285.4 1009.4,285.4 1011.4,285.5 1013.4,285.6 1015.4,285.7 1017.4,285.8 1019.4,286.0 1021.4,286.1 1023.4,286.3 1025.4,286.5 1027.4,286.7 1029.4,287.0 1031.4,287.2 1033.4,287.4 1035.4,287.7 1037.4,287.9 1039.4,288.2 1041.4,288.4 1043.4,288.6 1045.4,288.9 1047.4,289.1 1049.4,289.3 1051.4,289.5 1053.4,289.7 1055.4,289.9 1057.4,290.0 1059.4,290.2 1061.4,290.3 1063.4,290.4 1065.4,290.6 1067.4,290.7 1069.4,290.8 1071.4,290.8 1073.4,290.9 1075.4,291.0 1077.4,291.0 1079.4,291.1 1081.4,291.1 1083.4,291.2 1085.4,291.2 1087.4,291.2 1089.4,291.3 1091.4,291.3 1093.4,291.3 1093.6,291.3 1093.6,291.39" fill="#F20037" stroke="none"/>
<polyline points="395.4,291.2 397.4,291.1 399.4,291.0 401.4,290.9 403.4,290.8 405.4,290.7 407.4,290.5 409.4,290.4 411.4,290.1 413.4,289.9 415.4,289.6 417.4,289.2 419.4,288.8 421.4,288.3 423.4,287.7 425.4,287.1 427.4,286.3 429.4,285.5 431.4,284.5 433.4,283.5 435.4,282.3 437.4,280.9 439.4,279.4 441.4,277.8 443.4,276.0 445.4,274.1 447.4,272.0 449.4,269.7 451.4,267.3 453.4,264.7 455.4,262.0 457.4,259.1 459.4,256.1 461.4,252.9 463.4,249.7 465.4,246.3 467.4,242.9 469.4,239.5 471.4,236.0 473.4,232.5 475.4,229.0 477.4,225.6 479.4,222.2 481.4,218.9 483.4,215.8 485.4,212.7 487.4,209.9 489.4,207.2 491.4,204.8 493.4,202.5 495.4,200.5 497.4,198.7 499.4,197.2 501.4,196.0 503.4,195.0 505.4,194.2 507.4,193.7 509.4,193.4 511.4,193.4 513.4,193.6 515.4,194.0 517.4,194.6 519.4,195.4 521.4,196.3 523.4,197.3 525.4,198.5 527.4,199.8 529.4,201.1 531.4,202.6 533.4,204.0 535.4,205.5 537.4,207.1 539.4,208.6 541.4,210.1 543.4,211.7 545.4,213.2 547.4,214.7 549.4,216.2 551.4,217.7 553.4,219.2 555.4,220.6 557.4,222.1 559.4,223.6 561.4,225.0 563.4,226.5 565.4,228.0 567.4,229.4 569.4,230.9 571.4,232.5 573.4,234.0 575.4,235.5 577.4,237.1 579.4,238.7 581.4,240.2 583.4,241.8 585.4,243.4 587.4,244.9 589.4,246.4 591.4,247.9 593.4,249.4 595.4,250.8 597.4,252.1 599.4,253.4 601.4,254.7 603.4,255.8 605.4,256.9 607.4,258.0 609.4,259.0 611.4,259.9 613.4,260.7 615.4,261.6 617.4,262.3 619.4,263.0 621.4,263.7 623.4,264.4 625.4,265.0 627.4,265.7 629.4,266.3 631.4,266.9 633.4,267.5 635.4,268.1 637.4,268.8 639.4,269.4 641.4,270.0 643.4,270.7 645.4,271.4 647.4,272.1 649.4,272.8 651.4,273.5 653.4,274.1 655.4,274.8 657.4,275.5 659.4,276.1 661.4,276.8 663.4,277.4 665.4,277.9 667.4,278.5 669.4,278.9 671.4,279.4 673.4,279.8 675.4,280.1 677.4,280.4 679.4,280.7 681.4,280.8 683.4,281.0 685.4,281.1 687.4,281.1 689.4,281.1 691.4,281.1 693.4,281.0 695.4,280.9 697.4,280.8 699.4,280.6 701.4,280.5 703.4,280.3 705.4,280.1 707.4,280.0 709.4,279.8 711.4,279.7 713.4,279.6 715.4,279.6 717.4,279.5 719.4,279.5 721.4,279.5 723.4,279.6 725.4,279.7 727.4,279.8 729.4,280.0 731.4,280.2 733.4,280.5 735.4,280.7 737.4,281.0 739.4,281.3 741.4,281.6 743.4,281.9 745.4,282.3 747.4,282.6 749.4,282.9 751.4,283.2 753.4,283.5 755.4,283.8 757.4,284.0 759.4,284.3 761.4,284.5 763.4,284.7 765.4,284.8 767.4,284.9 769.4,285.1 771.4,285.1 773.4,285.2 775.4,285.3 777.4,285.3 779.4,285.3 781.4,285.3 783.4,285.3 785.4,285.3 787.4,285.3 789.4,285.3 791.4,285.4 793.4,285.4 795.4,285.4 797.4,285.5 799.4,285.5 801.4,285.6 803.4,285.7 805.4,285.9 807.4,286.0 809.4,286.1 811.4,286.3 813.4,286.5 815.4,286.7 817.4,286.9 819.4,287.1 821.4,287.3 823.4,287.6 825.4,287.8 827.4,288.0 829.4,288.3 831.4,288.5 833.4,288.7 835.4,289.0 837.4,289.2 839.4,289.4 841.4,289.6 843.4,289.7 845.4,289.9 847.4,290.1 849.4,290.2 851.4,290.4 853.4,290.5 855.4,290.6 857.4,290.7 859.4,290.8 861.4,290.9 863.4,290.9 865.4,291.0 867.4,291.1 869.4,291.1 871.4,291.2 873.4,291.2 875.4,291.2 877.4,291.3 879.4,291.3 881.4,291.3 883.4,291.3 885.4,291.3 887.4,291.3 889.4,291.3 891.4,291.4 893.4,291.4 895.4,291.4 897.4,291.4 899.4,291.4 901.4,291.4 903.4,291.4 905.4,291.4 907.4,291.4 909.4,291.4 911.4,291.3 913.4,291.3 915.4,291.3 917.4,291.3 919.4,291.3 921.4,291.3 923.4,291.3 925.4,291.2 927.4,291.2 929.4,291.2 931.4,291.1 933.4,291.1 935.4,291.0 937.4,290.9 939.4,290.9 941.4,290.8 943.4,290.7 945.4,290.6 947.4,290.5 949.4,290.4 951.4,290.2 953.4,290.1 955.4,289.9 957.4,289.8 959.4,289.6 961.4,289.4 963.4,289.2 965.4,289.0 967.4,288.8 969.4,288.5 971.4,288.3 973.4,288.1 975.4,287.8 977.4,287.6 979.4,287.3 981.4,287.1 983.4,286.9 985.4,286.7 987.4,286.4 989.4,286.2 991.4,286.1 993.4,285.9 995.4,285.8 997.4,285.6 999.4,285.5 1001.4,285.5 1003.4,285.4 1005.4,285.4 1007.4,285.4 1009.4,285.4 1011.4,285.5 1013.4,285.6 1015.4,285.7 1017.4,285.8 1019.4,286.0 1021.4,286.1 1023.4,286.3 1025.4,286.5 1027.4,286.7 1029.4,287.0 1031.4,287.2 1033.4,287.4 1035.4,287.7 1037.4,287.9 1039.4,288.2 1041.4,288.4 1043.4,288.6 1045.4,288.9 1047.4,289.1 1049.4,289.3 1051.4,289.5 1053.4,289.7 1055.4,289.9 1057.4,290.0 1059.4,290.2 1061.4,290.3 1063.4,290.4 1065.4,290.6 1067.4,290.7 1069.4,290.8 1071.4,290.8 1073.4,290.9 1075.4,291.0 1077.4,291.0 1079.4,291.1 1081.4,291.1 1083.4,291.2 1085.4,291.2 1087.4,291.2 1089.4,291.3 1091.4,291.3 1093.4,291.3 1093.6,291.3" fill="none" stroke="#000" stroke-width="2.0" stroke-linejoin="round" stroke-linecap="round"/>
<polygon points="395.4,350.22 395.4,350.2 397.4,350.2 399.4,350.2 401.4,350.2 403.4,350.2 405.4,350.2 407.4,350.1 409.4,350.1 411.4,350.1 413.4,350.1 415.4,350.1 417.4,350.0 419.4,350.0 421.4,350.0 423.4,349.9 425.4,349.9 427.4,349.8 429.4,349.8 431.4,349.7 433.4,349.6 435.4,349.5 437.4,349.4 439.4,349.3 441.4,349.2 443.4,349.1 445.4,348.9 447.4,348.8 449.4,348.6 451.4,348.4 453.4,348.2 455.4,347.9 457.4,347.6 459.4,347.3 461.4,347.0 463.4,346.6 465.4,346.2 467.4,345.7 469.4,345.2 471.4,344.6 473.4,343.9 475.4,343.2 477.4,342.4 479.4,341.5 481.4,340.5 483.4,339.4 485.4,338.2 487.4,336.9 489.4,335.5 491.4,334.0 493.4,332.3 495.4,330.6 497.4,328.7 499.4,326.7 501.4,324.6 503.4,322.4 505.4,320.1 507.4,317.8 509.4,315.3 511.4,312.8 513.4,310.3 515.4,307.7 517.4,305.2 519.4,302.6 521.4,300.1 523.4,297.6 525.4,295.2 527.4,293.0 529.4,290.8 531.4,288.7 533.4,286.8 535.4,285.0 537.4,283.4 539.4,281.9 541.4,280.7 543.4,279.6 545.4,278.6 547.4,277.9 549.4,277.2 551.4,276.8 553.4,276.5 555.4,276.3 557.4,276.2 559.4,276.3 561.4,276.4 563.4,276.6 565.4,276.9 567.4,277.2 569.4,277.6 571.4,278.0 573.4,278.4 575.4,278.9 577.4,279.3 579.4,279.7 581.4,280.1 583.4,280.5 585.4,280.8 587.4,281.2 589.4,281.5 591.4,281.8 593.4,282.1 595.4,282.3 597.4,282.5 599.4,282.7 601.4,282.9 603.4,283.1 605.4,283.3 607.4,283.5 609.4,283.6 611.4,283.8 613.4,284.0 615.4,284.3 617.4,284.5 619.4,284.8 621.4,285.1 623.4,285.5 625.4,286.0 627.4,286.5 629.4,287.0 631.4,287.7 633.4,288.4 635.4,289.2 637.4,290.0 639.4,290.9 641.4,291.9 643.4,292.9 645.4,294.0 647.4,295.2 649.4,296.4 651.4,297.6 653.4,298.9 655.4,300.2 657.4,301.6 659.4,302.9 661.4,304.3 663.4,305.6 665.4,307.0 667.4,308.3 669.4,309.6 671.4,310.9 673.4,312.1 675.4,313.3 677.4,314.5 679.4,315.7 681.4,316.8 683.4,317.8 685.4,318.8 687.4,319.8 689.4,320.7 691.4,321.6 693.4,322.4 695.4,323.2 697.4,323.9 699.4,324.5 701.4,325.2 703.4,325.7 705.4,326.3 707.4,326.8 709.4,327.3 711.4,327.7 713.4,328.1 715.4,328.5 717.4,328.9 719.4,329.2 721.4,329.6 723.4,329.9 725.4,330.3 727.4,330.7 729.4,331.0 731.4,331.4 733.4,331.8 735.4,332.2 737.4,332.7 739.4,333.1 741.4,333.6 743.4,334.1 745.4,334.6 747.4,335.1 749.4,335.6 751.4,336.2 753.4,336.7 755.4,337.3 757.4,337.8 759.4,338.3 761.4,338.8 763.4,339.3 765.4,339.7 767.4,340.1 769.4,340.5 771.4,340.9 773.4,341.2 775.4,341.5 777.4,341.7 779.4,341.9 781.4,342.0 783.4,342.2 785.4,342.2 787.4,342.3 789.4,342.3 791.4,342.3 793.4,342.3 795.4,342.3 797.4,342.2 799.4,342.2 801.4,342.1 803.4,342.1 805.4,342.0 807.4,342.0 809.4,342.0 811.4,342.0 813.4,342.1 815.4,342.1 817.4,342.2 819.4,342.3 821.4,342.4 823.4,342.6 825.4,342.8 827.4,343.0 829.4,343.3 831.4,343.5 833.4,343.8 835.4,344.1 837.4,344.4 839.4,344.7 841.4,345.0 843.4,345.4 845.4,345.7 847.4,346.0 849.4,346.3 851.4,346.6 853.4,346.9 855.4,347.2 857.4,347.5 859.4,347.8 861.4,348.0 863.4,348.3 865.4,348.5 867.4,348.7 869.4,348.9 871.4,349.0 873.4,349.2 875.4,349.3 877.4,349.4 879.4,349.5 881.4,349.6 883.4,349.7 885.4,349.8 887.4,349.9 889.4,349.9 891.4,350.0 893.4,350.0 895.4,350.0 897.4,350.1 899.4,350.1 901.4,350.1 903.4,350.1 905.4,350.1 907.4,350.1 909.4,350.1 911.4,350.1 913.4,350.1 915.4,350.1 917.4,350.1 919.4,350.1 921.4,350.1 923.4,350.0 925.4,350.0 927.4,350.0 929.4,349.9 931.4,349.9 933.4,349.8 935.4,349.7 937.4,349.7 939.4,349.6 941.4,349.5 943.4,349.4 945.4,349.2 947.4,349.1 949.4,348.9 951.4,348.8 953.4,348.6 955.4,348.4 957.4,348.2 959.4,348.0 961.4,347.7 963.4,347.5 965.4,347.2 967.4,346.9 969.4,346.7 971.4,346.4 973.4,346.1 975.4,345.8 977.4,345.5 979.4,345.2 981.4,344.9 983.4,344.6 985.4,344.3 987.4,344.0 989.4,343.8 991.4,343.6 993.4,343.4 995.4,343.2 997.4,343.0 999.4,342.9 1001.4,342.8 1003.4,342.7 1005.4,342.7 1007.4,342.7 1009.4,342.8 1011.4,342.8 1013.4,342.9 1015.4,343.1 1017.4,343.2 1019.4,343.4 1021.4,343.6 1023.4,343.9 1025.4,344.1 1027.4,344.4 1029.4,344.7 1031.4,345.0 1033.4,345.3 1035.4,345.6 1037.4,345.9 1039.4,346.2 1041.4,346.5 1043.4,346.8 1045.4,347.1 1047.4,347.3 1049.4,347.6 1051.4,347.8 1053.4,348.1 1055.4,348.3 1057.4,348.5 1059.4,348.7 1061.4,348.9 1063.4,349.0 1065.4,349.2 1067.4,349.3 1069.4,349.4 1071.4,349.5 1073.4,349.6 1075.4,349.7 1077.4,349.8 1079.4,349.9 1081.4,349.9 1083.4,350.0 1085.4,350.0 1087.4,350.0 1089.4,350.1 1091.4,350.1 1093.4,350.1 1093.6,350.1 1093.6,350.22" fill="#F20037" stroke="none"/>
<polyline points="395.4,350.2 397.4,350.2 399.4,350.2 401.4,350.2 403.4,350.2 405.4,350.2 407.4,350.1 409.4,350.1 411.4,350.1 413.4,350.1 415.4,350.1 417.4,350.0 419.4,350.0 421.4,350.0 423.4,349.9 425.4,349.9 427.4,349.8 429.4,349.8 431.4,349.7 433.4,349.6 435.4,349.5 437.4,349.4 439.4,349.3 441.4,349.2 443.4,349.1 445.4,348.9 447.4,348.8 449.4,348.6 451.4,348.4 453.4,348.2 455.4,347.9 457.4,347.6 459.4,347.3 461.4,347.0 463.4,346.6 465.4,346.2 467.4,345.7 469.4,345.2 471.4,344.6 473.4,343.9 475.4,343.2 477.4,342.4 479.4,341.5 481.4,340.5 483.4,339.4 485.4,338.2 487.4,336.9 489.4,335.5 491.4,334.0 493.4,332.3 495.4,330.6 497.4,328.7 499.4,326.7 501.4,324.6 503.4,322.4 505.4,320.1 507.4,317.8 509.4,315.3 511.4,312.8 513.4,310.3 515.4,307.7 517.4,305.2 519.4,302.6 521.4,300.1 523.4,297.6 525.4,295.2 527.4,293.0 529.4,290.8 531.4,288.7 533.4,286.8 535.4,285.0 537.4,283.4 539.4,281.9 541.4,280.7 543.4,279.6 545.4,278.6 547.4,277.9 549.4,277.2 551.4,276.8 553.4,276.5 555.4,276.3 557.4,276.2 559.4,276.3 561.4,276.4 563.4,276.6 565.4,276.9 567.4,277.2 569.4,277.6 571.4,278.0 573.4,278.4 575.4,278.9 577.4,279.3 579.4,279.7 581.4,280.1 583.4,280.5 585.4,280.8 587.4,281.2 589.4,281.5 591.4,281.8 593.4,282.1 595.4,282.3 597.4,282.5 599.4,282.7 601.4,282.9 603.4,283.1 605.4,283.3 607.4,283.5 609.4,283.6 611.4,283.8 613.4,284.0 615.4,284.3 617.4,284.5 619.4,284.8 621.4,285.1 623.4,285.5 625.4,286.0 627.4,286.5 629.4,287.0 631.4,287.7 633.4,288.4 635.4,289.2 637.4,290.0 639.4,290.9 641.4,291.9 643.4,292.9 645.4,294.0 647.4,295.2 649.4,296.4 651.4,297.6 653.4,298.9 655.4,300.2 657.4,301.6 659.4,302.9 661.4,304.3 663.4,305.6 665.4,307.0 667.4,308.3 669.4,309.6 671.4,310.9 673.4,312.1 675.4,313.3 677.4,314.5 679.4,315.7 681.4,316.8 683.4,317.8 685.4,318.8 687.4,319.8 689.4,320.7 691.4,321.6 693.4,322.4 695.4,323.2 697.4,323.9 699.4,324.5 701.4,325.2 703.4,325.7 705.4,326.3 707.4,326.8 709.4,327.3 711.4,327.7 713.4,328.1 715.4,328.5 717.4,328.9 719.4,329.2 721.4,329.6 723.4,329.9 725.4,330.3 727.4,330.7 729.4,331.0 731.4,331.4 733.4,331.8 735.4,332.2 737.4,332.7 739.4,333.1 741.4,333.6 743.4,334.1 745.4,334.6 747.4,335.1 749.4,335.6 751.4,336.2 753.4,336.7 755.4,337.3 757.4,337.8 759.4,338.3 761.4,338.8 763.4,339.3 765.4,339.7 767.4,340.1 769.4,340.5 771.4,340.9 773.4,341.2 775.4,341.5 777.4,341.7 779.4,341.9 781.4,342.0 783.4,342.2 785.4,342.2 787.4,342.3 789.4,342.3 791.4,342.3 793.4,342.3 795.4,342.3 797.4,342.2 799.4,342.2 801.4,342.1 803.4,342.1 805.4,342.0 807.4,342.0 809.4,342.0 811.4,342.0 813.4,342.1 815.4,342.1 817.4,342.2 819.4,342.3 821.4,342.4 823.4,342.6 825.4,342.8 827.4,343.0 829.4,343.3 831.4,343.5 833.4,343.8 835.4,344.1 837.4,344.4 839.4,344.7 841.4,345.0 843.4,345.4 845.4,345.7 847.4,346.0 849.4,346.3 851.4,346.6 853.4,346.9 855.4,347.2 857.4,347.5 859.4,347.8 861.4,348.0 863.4,348.3 865.4,348.5 867.4,348.7 869.4,348.9 871.4,349.0 873.4,349.2 875.4,349.3 877.4,349.4 879.4,349.5 881.4,349.6 883.4,349.7 885.4,349.8 887.4,349.9 889.4,349.9 891.4,350.0 893.4,350.0 895.4,350.0 897.4,350.1 899.4,350.1 901.4,350.1 903.4,350.1 905.4,350.1 907.4,350.1 909.4,350.1 911.4,350.1 913.4,350.1 915.4,350.1 917.4,350.1 919.4,350.1 921.4,350.1 923.4,350.0 925.4,350.0 927.4,350.0 929.4,349.9 931.4,349.9 933.4,349.8 935.4,349.7 937.4,349.7 939.4,349.6 941.4,349.5 943.4,349.4 945.4,349.2 947.4,349.1 949.4,348.9 951.4,348.8 953.4,348.6 955.4,348.4 957.4,348.2 959.4,348.0 961.4,347.7 963.4,347.5 965.4,347.2 967.4,346.9 969.4,346.7 971.4,346.4 973.4,346.1 975.4,345.8 977.4,345.5 979.4,345.2 981.4,344.9 983.4,344.6 985.4,344.3 987.4,344.0 989.4,343.8 991.4,343.6 993.4,343.4 995.4,343.2 997.4,343.0 999.4,342.9 1001.4,342.8 1003.4,342.7 1005.4,342.7 1007.4,342.7 1009.4,342.8 1011.4,342.8 1013.4,342.9 1015.4,343.1 1017.4,343.2 1019.4,343.4 1021.4,343.6 1023.4,343.9 1025.4,344.1 1027.4,344.4 1029.4,344.7 1031.4,345.0 1033.4,345.3 1035.4,345.6 1037.4,345.9 1039.4,346.2 1041.4,346.5 1043.4,346.8 1045.4,347.1 1047.4,347.3 1049.4,347.6 1051.4,347.8 1053.4,348.1 1055.4,348.3 1057.4,348.5 1059.4,348.7 1061.4,348.9 1063.4,349.0 1065.4,349.2 1067.4,349.3 1069.4,349.4 1071.4,349.5 1073.4,349.6 1075.4,349.7 1077.4,349.8 1079.4,349.9 1081.4,349.9 1083.4,350.0 1085.4,350.0 1087.4,350.0 1089.4,350.1 1091.4,350.1 1093.4,350.1 1093.6,350.1" fill="none" stroke="#000" stroke-width="2.0" stroke-linejoin="round" stroke-linecap="round"/>
<polygon points="395.4,409.05 395.4,408.8 397.4,408.7 399.4,408.6 401.4,408.5 403.4,408.4 405.4,408.3 407.4,408.1 409.4,407.9 411.4,407.7 413.4,407.4 415.4,407.1 417.4,406.7 419.4,406.3 421.4,405.8 423.4,405.3 425.4,404.6 427.4,403.9 429.4,403.1 431.4,402.1 433.4,401.1 435.4,399.9 437.4,398.7 439.4,397.2 441.4,395.7 443.4,393.9 445.4,392.1 447.4,390.1 449.4,387.9 451.4,385.5 453.4,383.0 455.4,380.4 457.4,377.5 459.4,374.6 461.4,371.5 463.4,368.3 465.4,364.9 467.4,361.5 469.4,358.0 471.4,354.5 473.4,350.9 475.4,347.3 477.4,343.7 479.4,340.2 481.4,336.7 483.4,333.3 485.4,330.1 487.4,327.0 489.4,324.1 491.4,321.3 493.4,318.8 495.4,316.5 497.4,314.5 499.4,312.7 501.4,311.2 503.4,310.0 505.4,309.1 507.4,308.4 509.4,308.0 511.4,307.8 513.4,308.0 515.4,308.3 517.4,308.9 519.4,309.6 521.4,310.6 523.4,311.7 525.4,312.9 527.4,314.3 529.4,315.7 531.4,317.3 533.4,318.8 535.4,320.5 537.4,322.1 539.4,323.7 541.4,325.3 543.4,327.0 545.4,328.5 547.4,330.1 549.4,331.6 551.4,333.1 553.4,334.6 555.4,336.0 557.4,337.4 559.4,338.8 561.4,340.1 563.4,341.5 565.4,342.8 567.4,344.2 569.4,345.5 571.4,346.9 573.4,348.2 575.4,349.6 577.4,351.0 579.4,352.5 581.4,353.9 583.4,355.3 585.4,356.8 587.4,358.3 589.4,359.8 591.4,361.2 593.4,362.7 595.4,364.2 597.4,365.6 599.4,367.0 601.4,368.4 603.4,369.7 605.4,371.0 607.4,372.2 609.4,373.4 611.4,374.5 613.4,375.6 615.4,376.6 617.4,377.6 619.4,378.5 621.4,379.4 623.4,380.2 625.4,381.0 627.4,381.7 629.4,382.4 631.4,383.1 633.4,383.8 635.4,384.4 637.4,385.1 639.4,385.7 641.4,386.4 643.4,387.1 645.4,387.7 647.4,388.4 649.4,389.1 651.4,389.8 653.4,390.5 655.4,391.2 657.4,391.9 659.4,392.5 661.4,393.2 663.4,393.9 665.4,394.5 667.4,395.1 669.4,395.7 671.4,396.2 673.4,396.7 675.4,397.1 677.4,397.5 679.4,397.8 681.4,398.1 683.4,398.3 685.4,398.5 687.4,398.6 689.4,398.7 691.4,398.7 693.4,398.6 695.4,398.5 697.4,398.4 699.4,398.3 701.4,398.1 703.4,398.0 705.4,397.8 707.4,397.6 709.4,397.4 711.4,397.3 713.4,397.2 715.4,397.1 717.4,397.0 719.4,397.0 721.4,397.0 723.4,397.0 725.4,397.1 727.4,397.2 729.4,397.4 731.4,397.7 733.4,397.9 735.4,398.2 737.4,398.6 739.4,399.0 741.4,399.4 743.4,399.8 745.4,400.3 747.4,400.8 749.4,401.2 751.4,401.7 753.4,402.2 755.4,402.7 757.4,403.2 759.4,403.7 761.4,404.1 763.4,404.5 765.4,405.0 767.4,405.4 769.4,405.7 771.4,406.1 773.4,406.4 775.4,406.7 777.4,407.0 779.4,407.2 781.4,407.5 783.4,407.7 785.4,407.9 787.4,408.0 789.4,408.2 791.4,408.3 793.4,408.4 795.4,408.5 797.4,408.6 799.4,408.7 801.4,408.7 803.4,408.8 805.4,408.8 807.4,408.9 809.4,408.9 811.4,408.9 813.4,408.9 815.4,409.0 817.4,409.0 819.4,409.0 821.4,409.0 823.4,409.0 825.4,409.0 827.4,409.0 829.4,409.0 831.4,409.0 833.4,409.0 835.4,409.0 837.4,409.0 839.4,409.0 841.4,409.0 843.4,409.0 845.4,409.0 847.4,409.0 849.4,409.0 851.4,409.0 853.4,409.0 855.4,409.0 857.4,409.0 859.4,409.0 861.4,409.0 863.4,409.0 865.4,409.0 867.4,409.0 869.4,409.0 871.4,409.0 873.4,409.0 875.4,409.0 877.4,409.0 879.4,409.0 881.4,409.0 883.4,409.0 885.4,409.0 887.4,409.0 889.4,409.0 891.4,409.0 893.4,409.0 895.4,409.0 897.4,409.0 899.4,409.0 901.4,409.0 903.4,409.0 905.4,409.0 907.4,409.0 909.4,409.0 911.4,409.0 913.4,409.0 915.4,409.0 917.4,409.0 919.4,409.0 921.4,408.9 923.4,408.9 925.4,408.9 927.4,408.9 929.4,408.8 931.4,408.8 933.4,408.7 935.4,408.7 937.4,408.6 939.4,408.5 941.4,408.5 943.4,408.4 945.4,408.3 947.4,408.2 949.4,408.0 951.4,407.9 953.4,407.8 955.4,407.6 957.4,407.4 959.4,407.3 961.4,407.1 963.4,406.9 965.4,406.6 967.4,406.4 969.4,406.2 971.4,406.0 973.4,405.7 975.4,405.5 977.4,405.2 979.4,405.0 981.4,404.8 983.4,404.5 985.4,404.3 987.4,404.1 989.4,403.9 991.4,403.7 993.4,403.6 995.4,403.4 997.4,403.3 999.4,403.2 1001.4,403.1 1003.4,403.1 1005.4,403.0 1007.4,403.1 1009.4,403.1 1011.4,403.1 1013.4,403.2 1015.4,403.3 1017.4,403.5 1019.4,403.6 1021.4,403.8 1023.4,404.0 1025.4,404.2 1027.4,404.4 1029.4,404.6 1031.4,404.9 1033.4,405.1 1035.4,405.3 1037.4,405.6 1039.4,405.8 1041.4,406.1 1043.4,406.3 1045.4,406.5 1047.4,406.7 1049.4,407.0 1051.4,407.1 1053.4,407.3 1055.4,407.5 1057.4,407.7 1059.4,407.8 1061.4,408.0 1063.4,408.1 1065.4,408.2 1067.4,408.3 1069.4,408.4 1071.4,408.5 1073.4,408.6 1075.4,408.6 1077.4,408.7 1079.4,408.8 1081.4,408.8 1083.4,408.8 1085.4,408.9 1087.4,408.9 1089.4,408.9 1091.4,409.0 1093.4,409.0 1093.6,409.0 1093.6,409.05" fill="#0000FF" stroke="none"/>
<polyline points="395.4,408.8 397.4,408.7 399.4,408.6 401.4,408.5 403.4,408.4 405.4,408.3 407.4,408.1 409.4,407.9 411.4,407.7 413.4,407.4 415.4,407.1 417.4,406.7 419.4,406.3 421.4,405.8 423.4,405.3 425.4,404.6 427.4,403.9 429.4,403.1 431.4,402.1 433.4,401.1 435.4,399.9 437.4,398.7 439.4,397.2 441.4,395.7 443.4,393.9 445.4,392.1 447.4,390.1 449.4,387.9 451.4,385.5 453.4,383.0 455.4,380.4 457.4,377.5 459.4,374.6 461.4,371.5 463.4,368.3 465.4,364.9 467.4,361.5 469.4,358.0 471.4,354.5 473.4,350.9 475.4,347.3 477.4,343.7 479.4,340.2 481.4,336.7 483.4,333.3 485.4,330.1 487.4,327.0 489.4,324.1 491.4,321.3 493.4,318.8 495.4,316.5 497.4,314.5 499.4,312.7 501.4,311.2 503.4,310.0 505.4,309.1 507.4,308.4 509.4,308.0 511.4,307.8 513.4,308.0 515.4,308.3 517.4,308.9 519.4,309.6 521.4,310.6 523.4,311.7 525.4,312.9 527.4,314.3 529.4,315.7 531.4,317.3 533.4,318.8 535.4,320.5 537.4,322.1 539.4,323.7 541.4,325.3 543.4,327.0 545.4,328.5 547.4,330.1 549.4,331.6 551.4,333.1 553.4,334.6 555.4,336.0 557.4,337.4 559.4,338.8 561.4,340.1 563.4,341.5 565.4,342.8 567.4,344.2 569.4,345.5 571.4,346.9 573.4,348.2 575.4,349.6 577.4,351.0 579.4,352.5 581.4,353.9 583.4,355.3 585.4,356.8 587.4,358.3 589.4,359.8 591.4,361.2 593.4,362.7 595.4,364.2 597.4,365.6 599.4,367.0 601.4,368.4 603.4,369.7 605.4,371.0 607.4,372.2 609.4,373.4 611.4,374.5 613.4,375.6 615.4,376.6 617.4,377.6 619.4,378.5 621.4,379.4 623.4,380.2 625.4,381.0 627.4,381.7 629.4,382.4 631.4,383.1 633.4,383.8 635.4,384.4 637.4,385.1 639.4,385.7 641.4,386.4 643.4,387.1 645.4,387.7 647.4,388.4 649.4,389.1 651.4,389.8 653.4,390.5 655.4,391.2 657.4,391.9 659.4,392.5 661.4,393.2 663.4,393.9 665.4,394.5 667.4,395.1 669.4,395.7 671.4,396.2 673.4,396.7 675.4,397.1 677.4,397.5 679.4,397.8 681.4,398.1 683.4,398.3 685.4,398.5 687.4,398.6 689.4,398.7 691.4,398.7 693.4,398.6 695.4,398.5 697.4,398.4 699.4,398.3 701.4,398.1 703.4,398.0 705.4,397.8 707.4,397.6 709.4,397.4 711.4,397.3 713.4,397.2 715.4,397.1 717.4,397.0 719.4,397.0 721.4,397.0 723.4,397.0 725.4,397.1 727.4,397.2 729.4,397.4 731.4,397.7 733.4,397.9 735.4,398.2 737.4,398.6 739.4,399.0 741.4,399.4 743.4,399.8 745.4,400.3 747.4,400.8 749.4,401.2 751.4,401.7 753.4,402.2 755.4,402.7 757.4,403.2 759.4,403.7 761.4,404.1 763.4,404.5 765.4,405.0 767.4,405.4 769.4,405.7 771.4,406.1 773.4,406.4 775.4,406.7 777.4,407.0 779.4,407.2 781.4,407.5 783.4,407.7 785.4,407.9 787.4,408.0 789.4,408.2 791.4,408.3 793.4,408.4 795.4,408.5 797.4,408.6 799.4,408.7 801.4,408.7 803.4,408.8 805.4,408.8 807.4,408.9 809.4,408.9 811.4,408.9 813.4,408.9 815.4,409.0 817.4,409.0 819.4,409.0 821.4,409.0 823.4,409.0 825.4,409.0 827.4,409.0 829.4,409.0 831.4,409.0 833.4,409.0 835.4,409.0 837.4,409.0 839.4,409.0 841.4,409.0 843.4,409.0 845.4,409.0 847.4,409.0 849.4,409.0 851.4,409.0 853.4,409.0 855.4,409.0 857.4,409.0 859.4,409.0 861.4,409.0 863.4,409.0 865.4,409.0 867.4,409.0 869.4,409.0 871.4,409.0 873.4,409.0 875.4,409.0 877.4,409.0 879.4,409.0 881.4,409.0 883.4,409.0 885.4,409.0 887.4,409.0 889.4,409.0 891.4,409.0 893.4,409.0 895.4,409.0 897.4,409.0 899.4,409.0 901.4,409.0 903.4,409.0 905.4,409.0 907.4,409.0 909.4,409.0 911.4,409.0 913.4,409.0 915.4,409.0 917.4,409.0 919.4,409.0 921.4,408.9 923.4,408.9 925.4,408.9 927.4,408.9 929.4,408.8 931.4,408.8 933.4,408.7 935.4,408.7 937.4,408.6 939.4,408.5 941.4,408.5 943.4,408.4 945.4,408.3 947.4,408.2 949.4,408.0 951.4,407.9 953.4,407.8 955.4,407.6 957.4,407.4 959.4,407.3 961.4,407.1 963.4,406.9 965.4,406.6 967.4,406.4 969.4,406.2 971.4,406.0 973.4,405.7 975.4,405.5 977.4,405.2 979.4,405.0 981.4,404.8 983.4,404.5 985.4,404.3 987.4,404.1 989.4,403.9 991.4,403.7 993.4,403.6 995.4,403.4 997.4,403.3 999.4,403.2 1001.4,403.1 1003.4,403.1 1005.4,403.0 1007.4,403.1 1009.4,403.1 1011.4,403.1 1013.4,403.2 1015.4,403.3 1017.4,403.5 1019.4,403.6 1021.4,403.8 1023.4,404.0 1025.4,404.2 1027.4,404.4 1029.4,404.6 1031.4,404.9 1033.4,405.1 1035.4,405.3 1037.4,405.6 1039.4,405.8 1041.4,406.1 1043.4,406.3 1045.4,406.5 1047.4,406.7 1049.4,407.0 1051.4,407.1 1053.4,407.3 1055.4,407.5 1057.4,407.7 1059.4,407.8 1061.4,408.0 1063.4,408.1 1065.4,408.2 1067.4,408.3 1069.4,408.4 1071.4,408.5 1073.4,408.6 1075.4,408.6 1077.4,408.7 1079.4,408.8 1081.4,408.8 1083.4,408.8 1085.4,408.9 1087.4,408.9 1089.4,408.9 1091.4,409.0 1093.4,409.0 1093.6,409.0" fill="none" stroke="#000" stroke-width="2.0" stroke-linejoin="round" stroke-linecap="round"/>
<polygon points="395.4,467.88 395.4,467.7 397.4,467.6 399.4,467.5 401.4,467.5 403.4,467.4 405.4,467.3 407.4,467.1 409.4,467.0 411.4,466.8 413.4,466.6 415.4,466.3 417.4,466.0 419.4,465.6 421.4,465.2 423.4,464.8 425.4,464.2 427.4,463.6 429.4,462.9 431.4,462.2 433.4,461.3 435.4,460.3 437.4,459.2 439.4,458.0 441.4,456.7 443.4,455.2 445.4,453.6 447.4,451.9 449.4,450.0 451.4,448.0 453.4,445.8 455.4,443.5 457.4,441.0 459.4,438.4 461.4,435.6 463.4,432.8 465.4,429.8 467.4,426.7 469.4,423.5 471.4,420.2 473.4,416.8 475.4,413.5 477.4,410.0 479.4,406.6 481.4,403.2 483.4,399.9 485.4,396.6 487.4,393.4 489.4,390.3 491.4,387.4 493.4,384.6 495.4,382.0 497.4,379.7 499.4,377.5 501.4,375.6 503.4,373.9 505.4,372.5 507.4,371.4 509.4,370.5 511.4,369.9 513.4,369.6 515.4,369.5 517.4,369.8 519.4,370.2 521.4,370.9 523.4,371.8 525.4,372.8 527.4,374.1 529.4,375.5 531.4,377.0 533.4,378.6 535.4,380.3 537.4,382.1 539.4,383.9 541.4,385.7 543.4,387.5 545.4,389.3 547.4,391.0 549.4,392.7 551.4,394.4 553.4,396.0 555.4,397.5 557.4,399.0 559.4,400.4 561.4,401.7 563.4,403.0 565.4,404.2 567.4,405.4 569.4,406.5 571.4,407.6 573.4,408.6 575.4,409.6 577.4,410.5 579.4,411.5 581.4,412.4 583.4,413.3 585.4,414.2 587.4,415.2 589.4,416.1 591.4,417.0 593.4,417.9 595.4,418.9 597.4,419.8 599.4,420.8 601.4,421.7 603.4,422.7 605.4,423.7 607.4,424.7 609.4,425.6 611.4,426.6 613.4,427.6 615.4,428.5 617.4,429.4 619.4,430.4 621.4,431.3 623.4,432.2 625.4,433.0 627.4,433.9 629.4,434.7 631.4,435.5 633.4,436.3 635.4,437.1 637.4,437.9 639.4,438.6 641.4,439.4 643.4,440.1 645.4,440.9 647.4,441.6 649.4,442.4 651.4,443.1 653.4,443.9 655.4,444.6 657.4,445.4 659.4,446.2 661.4,446.9 663.4,447.7 665.4,448.5 667.4,449.3 669.4,450.1 671.4,450.8 673.4,451.6 675.4,452.3 677.4,453.1 679.4,453.8 681.4,454.5 683.4,455.1 685.4,455.7 687.4,456.3 689.4,456.9 691.4,457.4 693.4,457.9 695.4,458.4 697.4,458.8 699.4,459.2 701.4,459.5 703.4,459.8 705.4,460.1 707.4,460.4 709.4,460.6 711.4,460.8 713.4,461.0 715.4,461.1 717.4,461.2 719.4,461.4 721.4,461.4 723.4,461.5 725.4,461.5 727.4,461.6 729.4,461.6 731.4,461.6 733.4,461.6 735.4,461.5 737.4,461.5 739.4,461.4 741.4,461.4 743.4,461.3 745.4,461.2 747.4,461.2 749.4,461.1 751.4,461.0 753.4,460.9 755.4,460.9 757.4,460.8 759.4,460.7 761.4,460.7 763.4,460.6 765.4,460.6 767.4,460.6 769.4,460.6 771.4,460.6 773.4,460.6 775.4,460.7 777.4,460.7 779.4,460.8 781.4,460.9 783.4,461.0 785.4,461.1 787.4,461.2 789.4,461.4 791.4,461.6 793.4,461.7 795.4,461.9 797.4,462.1 799.4,462.4 801.4,462.6 803.4,462.8 805.4,463.0 807.4,463.3 809.4,463.5 811.4,463.8 813.4,464.0 815.4,464.2 817.4,464.5 819.4,464.7 821.4,464.9 823.4,465.1 825.4,465.4 827.4,465.6 829.4,465.8 831.4,465.9 833.4,466.1 835.4,466.3 837.4,466.4 839.4,466.6 841.4,466.7 843.4,466.9 845.4,467.0 847.4,467.1 849.4,467.2 851.4,467.3 853.4,467.3 855.4,467.4 857.4,467.5 859.4,467.5 861.4,467.6 863.4,467.6 865.4,467.7 867.4,467.7 869.4,467.7 871.4,467.7 873.4,467.8 875.4,467.8 877.4,467.8 879.4,467.8 881.4,467.8 883.4,467.8 885.4,467.8 887.4,467.9 889.4,467.9 891.4,467.9 893.4,467.9 895.4,467.9 897.4,467.9 899.4,467.9 901.4,467.9 903.4,467.9 905.4,467.9 907.4,467.9 909.4,467.9 911.4,467.9 913.4,467.9 915.4,467.8 917.4,467.8 919.4,467.8 921.4,467.8 923.4,467.8 925.4,467.8 927.4,467.8 929.4,467.8 931.4,467.7 933.4,467.7 935.4,467.7 937.4,467.7 939.4,467.6 941.4,467.6 943.4,467.5 945.4,467.5 947.4,467.4 949.4,467.4 951.4,467.3 953.4,467.2 955.4,467.2 957.4,467.1 959.4,467.0 961.4,466.9 963.4,466.8 965.4,466.7 967.4,466.6 969.4,466.5 971.4,466.3 973.4,466.2 975.4,466.1 977.4,466.0 979.4,465.9 981.4,465.7 983.4,465.6 985.4,465.5 987.4,465.4 989.4,465.3 991.4,465.2 993.4,465.1 995.4,465.1 997.4,465.0 999.4,465.0 1001.4,464.9 1003.4,464.9 1005.4,464.9 1007.4,464.9 1009.4,464.9 1011.4,464.9 1013.4,465.0 1015.4,465.0 1017.4,465.1 1019.4,465.2 1021.4,465.2 1023.4,465.3 1025.4,465.4 1027.4,465.6 1029.4,465.7 1031.4,465.8 1033.4,465.9 1035.4,466.0 1037.4,466.1 1039.4,466.3 1041.4,466.4 1043.4,466.5 1045.4,466.6 1047.4,466.7 1049.4,466.8 1051.4,466.9 1053.4,467.0 1055.4,467.1 1057.4,467.2 1059.4,467.3 1061.4,467.3 1063.4,467.4 1065.4,467.5 1067.4,467.5 1069.4,467.6 1071.4,467.6 1073.4,467.6 1075.4,467.7 1077.4,467.7 1079.4,467.7 1081.4,467.8 1083.4,467.8 1085.4,467.8 1087.4,467.8 1089.4,467.8 1091.4,467.8 1093.4,467.8 1093.6,467.8 1093.6,467.88" fill="#FF0000" stroke="none"/>
<polyline points="395.4,467.7 397.4,467.6 399.4,467.5 401.4,467.5 403.4,467.4 405.4,467.3 407.4,467.1 409.4,467.0 411.4,466.8 413.4,466.6 415.4,466.3 417.4,466.0 419.4,465.6 421.4,465.2 423.4,464.8 425.4,464.2 427.4,463.6 429.4,462.9 431.4,462.2 433.4,461.3 435.4,460.3 437.4,459.2 439.4,458.0 441.4,456.7 443.4,455.2 445.4,453.6 447.4,451.9 449.4,450.0 451.4,448.0 453.4,445.8 455.4,443.5 457.4,441.0 459.4,438.4 461.4,435.6 463.4,432.8 465.4,429.8 467.4,426.7 469.4,423.5 471.4,420.2 473.4,416.8 475.4,413.5 477.4,410.0 479.4,406.6 481.4,403.2 483.4,399.9 485.4,396.6 487.4,393.4 489.4,390.3 491.4,387.4 493.4,384.6 495.4,382.0 497.4,379.7 499.4,377.5 501.4,375.6 503.4,373.9 505.4,372.5 507.4,371.4 509.4,370.5 511.4,369.9 513.4,369.6 515.4,369.5 517.4,369.8 519.4,370.2 521.4,370.9 523.4,371.8 525.4,372.8 527.4,374.1 529.4,375.5 531.4,377.0 533.4,378.6 535.4,380.3 537.4,382.1 539.4,383.9 541.4,385.7 543.4,387.5 545.4,389.3 547.4,391.0 549.4,392.7 551.4,394.4 553.4,396.0 555.4,397.5 557.4,399.0 559.4,400.4 561.4,401.7 563.4,403.0 565.4,404.2 567.4,405.4 569.4,406.5 571.4,407.6 573.4,408.6 575.4,409.6 577.4,410.5 579.4,411.5 581.4,412.4 583.4,413.3 585.4,414.2 587.4,415.2 589.4,416.1 591.4,417.0 593.4,417.9 595.4,418.9 597.4,419.8 599.4,420.8 601.4,421.7 603.4,422.7 605.4,423.7 607.4,424.7 609.4,425.6 611.4,426.6 613.4,427.6 615.4,428.5 617.4,429.4 619.4,430.4 621.4,431.3 623.4,432.2 625.4,433.0 627.4,433.9 629.4,434.7 631.4,435.5 633.4,436.3 635.4,437.1 637.4,437.9 639.4,438.6 641.4,439.4 643.4,440.1 645.4,440.9 647.4,441.6 649.4,442.4 651.4,443.1 653.4,443.9 655.4,444.6 657.4,445.4 659.4,446.2 661.4,446.9 663.4,447.7 665.4,448.5 667.4,449.3 669.4,450.1 671.4,450.8 673.4,451.6 675.4,452.3 677.4,453.1 679.4,453.8 681.4,454.5 683.4,455.1 685.4,455.7 687.4,456.3 689.4,456.9 691.4,457.4 693.4,457.9 695.4,458.4 697.4,458.8 699.4,459.2 701.4,459.5 703.4,459.8 705.4,460.1 707.4,460.4 709.4,460.6 711.4,460.8 713.4,461.0 715.4,461.1 717.4,461.2 719.4,461.4 721.4,461.4 723.4,461.5 725.4,461.5 727.4,461.6 729.4,461.6 731.4,461.6 733.4,461.6 735.4,461.5 737.4,461.5 739.4,461.4 741.4,461.4 743.4,461.3 745.4,461.2 747.4,461.2 749.4,461.1 751.4,461.0 753.4,460.9 755.4,460.9 757.4,460.8 759.4,460.7 761.4,460.7 763.4,460.6 765.4,460.6 767.4,460.6 769.4,460.6 771.4,460.6 773.4,460.6 775.4,460.7 777.4,460.7 779.4,460.8 781.4,460.9 783.4,461.0 785.4,461.1 787.4,461.2 789.4,461.4 791.4,461.6 793.4,461.7 795.4,461.9 797.4,462.1 799.4,462.4 801.4,462.6 803.4,462.8 805.4,463.0 807.4,463.3 809.4,463.5 811.4,463.8 813.4,464.0 815.4,464.2 817.4,464.5 819.4,464.7 821.4,464.9 823.4,465.1 825.4,465.4 827.4,465.6 829.4,465.8 831.4,465.9 833.4,466.1 835.4,466.3 837.4,466.4 839.4,466.6 841.4,466.7 843.4,466.9 845.4,467.0 847.4,467.1 849.4,467.2 851.4,467.3 853.4,467.3 855.4,467.4 857.4,467.5 859.4,467.5 861.4,467.6 863.4,467.6 865.4,467.7 867.4,467.7 869.4,467.7 871.4,467.7 873.4,467.8 875.4,467.8 877.4,467.8 879.4,467.8 881.4,467.8 883.4,467.8 885.4,467.8 887.4,467.9 889.4,467.9 891.4,467.9 893.4,467.9 895.4,467.9 897.4,467.9 899.4,467.9 901.4,467.9 903.4,467.9 905.4,467.9 907.4,467.9 909.4,467.9 911.4,467.9 913.4,467.9 915.4,467.8 917.4,467.8 919.4,467.8 921.4,467.8 923.4,467.8 925.4,467.8 927.4,467.8 929.4,467.8 931.4,467.7 933.4,467.7 935.4,467.7 937.4,467.7 939.4,467.6 941.4,467.6 943.4,467.5 945.4,467.5 947.4,467.4 949.4,467.4 951.4,467.3 953.4,467.2 955.4,467.2 957.4,467.1 959.4,467.0 961.4,466.9 963.4,466.8 965.4,466.7 967.4,466.6 969.4,466.5 971.4,466.3 973.4,466.2 975.4,466.1 977.4,466.0 979.4,465.9 981.4,465.7 983.4,465.6 985.4,465.5 987.4,465.4 989.4,465.3 991.4,465.2 993.4,465.1 995.4,465.1 997.4,465.0 999.4,465.0 1001.4,464.9 1003.4,464.9 1005.4,464.9 1007.4,464.9 1009.4,464.9 1011.4,464.9 1013.4,465.0 1015.4,465.0 1017.4,465.1 1019.4,465.2 1021.4,465.2 1023.4,465.3 1025.4,465.4 1027.4,465.6 1029.4,465.7 1031.4,465.8 1033.4,465.9 1035.4,466.0 1037.4,466.1 1039.4,466.3 1041.4,466.4 1043.4,466.5 1045.4,466.6 1047.4,466.7 1049.4,466.8 1051.4,466.9 1053.4,467.0 1055.4,467.1 1057.4,467.2 1059.4,467.3 1061.4,467.3 1063.4,467.4 1065.4,467.5 1067.4,467.5 1069.4,467.6 1071.4,467.6 1073.4,467.6 1075.4,467.7 1077.4,467.7 1079.4,467.7 1081.4,467.8 1083.4,467.8 1085.4,467.8 1087.4,467.8 1089.4,467.8 1091.4,467.8 1093.4,467.8 1093.6,467.8" fill="none" stroke="#000" stroke-width="2.0" stroke-linejoin="round" stroke-linecap="round"/>
<polygon points="395.4,526.71 395.4,526.6 397.4,526.6 399.4,526.5 401.4,526.5 403.4,526.4 405.4,526.3 407.4,526.3 409.4,526.1 411.4,526.0 413.4,525.9 415.4,525.7 417.4,525.5 419.4,525.3 421.4,525.0 423.4,524.7 425.4,524.3 427.4,523.9 429.4,523.5 431.4,522.9 433.4,522.3 435.4,521.6 437.4,520.9 439.4,520.0 441.4,519.1 443.4,518.1 445.4,516.9 447.4,515.7 449.4,514.3 451.4,512.9 453.4,511.3 455.4,509.6 457.4,507.8 459.4,505.9 461.4,503.9 463.4,501.7 465.4,499.5 467.4,497.1 469.4,494.7 471.4,492.2 473.4,489.6 475.4,486.9 477.4,484.2 479.4,481.4 481.4,478.6 483.4,475.8 485.4,472.9 487.4,470.1 489.4,467.3 491.4,464.5 493.4,461.8 495.4,459.1 497.4,456.5 499.4,454.0 501.4,451.6 503.4,449.3 505.4,447.1 507.4,445.1 509.4,443.2 511.4,441.4 513.4,439.8 515.4,438.3 517.4,437.0 519.4,435.8 521.4,434.8 523.4,433.9 525.4,433.2 527.4,432.7 529.4,432.3 531.4,432.0 533.4,431.9 535.4,431.9 537.4,432.0 539.4,432.3 541.4,432.6 543.4,433.1 545.4,433.6 547.4,434.3 549.4,435.0 551.4,435.8 553.4,436.7 555.4,437.7 557.4,438.7 559.4,439.8 561.4,440.9 563.4,442.2 565.4,443.4 567.4,444.8 569.4,446.1 571.4,447.6 573.4,449.1 575.4,450.6 577.4,452.2 579.4,453.9 581.4,455.6 583.4,457.3 585.4,459.1 587.4,461.0 589.4,462.9 591.4,464.8 593.4,466.8 595.4,468.8 597.4,470.9 599.4,472.9 601.4,475.0 603.4,477.1 605.4,479.2 607.4,481.4 609.4,483.5 611.4,485.6 613.4,487.6 615.4,489.7 617.4,491.7 619.4,493.6 621.4,495.5 623.4,497.4 625.4,499.2 627.4,500.9 629.4,502.5 631.4,504.1 633.4,505.6 635.4,507.0 637.4,508.4 639.4,509.6 641.4,510.8 643.4,511.9 645.4,512.8 647.4,513.8 649.4,514.6 651.4,515.3 653.4,516.0 655.4,516.5 657.4,517.0 659.4,517.4 661.4,517.7 663.4,518.0 665.4,518.2 667.4,518.3 669.4,518.3 671.4,518.3 673.4,518.2 675.4,518.1 677.4,517.9 679.4,517.6 681.4,517.3 683.4,517.0 685.4,516.6 687.4,516.1 689.4,515.6 691.4,515.1 693.4,514.6 695.4,514.1 697.4,513.5 699.4,512.9 701.4,512.3 703.4,511.7 705.4,511.1 707.4,510.5 709.4,509.9 711.4,509.3 713.4,508.7 715.4,508.2 717.4,507.6 719.4,507.1 721.4,506.6 723.4,506.2 725.4,505.8 727.4,505.4 729.4,505.1 731.4,504.8 733.4,504.5 735.4,504.4 737.4,504.2 739.4,504.2 741.4,504.2 743.4,504.2 745.4,504.3 747.4,504.5 749.4,504.7 751.4,505.0 753.4,505.4 755.4,505.8 757.4,506.2 759.4,506.7 761.4,507.3 763.4,507.9 765.4,508.5 767.4,509.2 769.4,509.9 771.4,510.6 773.4,511.3 775.4,512.1 777.4,512.8 779.4,513.6 781.4,514.3 783.4,515.0 785.4,515.8 787.4,516.5 789.4,517.2 791.4,517.9 793.4,518.5 795.4,519.1 797.4,519.7 799.4,520.3 801.4,520.8 803.4,521.3 805.4,521.8 807.4,522.3 809.4,522.7 811.4,523.1 813.4,523.4 815.4,523.8 817.4,524.1 819.4,524.3 821.4,524.6 823.4,524.8 825.4,525.1 827.4,525.2 829.4,525.4 831.4,525.6 833.4,525.7 835.4,525.8 837.4,526.0 839.4,526.1 841.4,526.2 843.4,526.2 845.4,526.3 847.4,526.4 849.4,526.4 851.4,526.5 853.4,526.5 855.4,526.5 857.4,526.6 859.4,526.6 861.4,526.6 863.4,526.6 865.4,526.6 867.4,526.7 869.4,526.7 871.4,526.7 873.4,526.7 875.4,526.7 877.4,526.7 879.4,526.7 881.4,526.7 883.4,526.7 885.4,526.7 887.4,526.7 889.4,526.7 891.4,526.7 893.4,526.7 895.4,526.7 897.4,526.7 899.4,526.7 901.4,526.7 903.4,526.7 905.4,526.7 907.4,526.7 909.4,526.7 911.4,526.7 913.4,526.7 915.4,526.7 917.4,526.7 919.4,526.7 921.4,526.7 923.4,526.7 925.4,526.7 927.4,526.7 929.4,526.7 931.4,526.7 933.4,526.7 935.4,526.7 937.4,526.7 939.4,526.7 941.4,526.7 943.4,526.7 945.4,526.7 947.4,526.7 949.4,526.7 951.4,526.7 953.4,526.7 955.4,526.7 957.4,526.7 959.4,526.7 961.4,526.7 963.4,526.7 965.4,526.7 967.4,526.7 969.4,526.7 971.4,526.7 973.4,526.7 975.4,526.7 977.4,526.7 979.4,526.7 981.4,526.7 983.4,526.7 985.4,526.7 987.4,526.7 989.4,526.7 991.4,526.7 993.4,526.7 995.4,526.7 997.4,526.7 999.4,526.7 1001.4,526.7 1003.4,526.7 1005.4,526.7 1007.4,526.7 1009.4,526.7 1011.4,526.7 1013.4,526.7 1015.4,526.7 1017.4,526.7 1019.4,526.7 1021.4,526.7 1023.4,526.7 1025.4,526.7 1027.4,526.7 1029.4,526.7 1031.4,526.7 1033.4,526.7 1035.4,526.7 1037.4,526.7 1039.4,526.7 1041.4,526.7 1043.4,526.7 1045.4,526.7 1047.4,526.7 1049.4,526.7 1051.4,526.7 1053.4,526.7 1055.4,526.7 1057.4,526.7 1059.4,526.7 1061.4,526.7 1063.4,526.7 1065.4,526.7 1067.4,526.7 1069.4,526.7 1071.4,526.7 1073.4,526.7 1075.4,526.7 1077.4,526.7 1079.4,526.7 1081.4,526.7 1083.4,526.7 1085.4,526.7 1087.4,526.7 1089.4,526.7 1091.4,526.7 1093.4,526.7 1093.6,526.7 1093.6,526.71" fill="#F0003C" stroke="none"/>
<polyline points="395.4,526.6 397.4,526.6 399.4,526.5 401.4,526.5 403.4,526.4 405.4,526.3 407.4,526.3 409.4,526.1 411.4,526.0 413.4,525.9 415.4,525.7 417.4,525.5 419.4,525.3 421.4,525.0 423.4,524.7 425.4,524.3 427.4,523.9 429.4,523.5 431.4,522.9 433.4,522.3 435.4,521.6 437.4,520.9 439.4,520.0 441.4,519.1 443.4,518.1 445.4,516.9 447.4,515.7 449.4,514.3 451.4,512.9 453.4,511.3 455.4,509.6 457.4,507.8 459.4,505.9 461.4,503.9 463.4,501.7 465.4,499.5 467.4,497.1 469.4,494.7 471.4,492.2 473.4,489.6 475.4,486.9 477.4,484.2 479.4,481.4 481.4,478.6 483.4,475.8 485.4,472.9 487.4,470.1 489.4,467.3 491.4,464.5 493.4,461.8 495.4,459.1 497.4,456.5 499.4,454.0 501.4,451.6 503.4,449.3 505.4,447.1 507.4,445.1 509.4,443.2 511.4,441.4 513.4,439.8 515.4,438.3 517.4,437.0 519.4,435.8 521.4,434.8 523.4,433.9 525.4,433.2 527.4,432.7 529.4,432.3 531.4,432.0 533.4,431.9 535.4,431.9 537.4,432.0 539.4,432.3 541.4,432.6 543.4,433.1 545.4,433.6 547.4,434.3 549.4,435.0 551.4,435.8 553.4,436.7 555.4,437.7 557.4,438.7 559.4,439.8 561.4,440.9 563.4,442.2 565.4,443.4 567.4,444.8 569.4,446.1 571.4,447.6 573.4,449.1 575.4,450.6 577.4,452.2 579.4,453.9 581.4,455.6 583.4,457.3 585.4,459.1 587.4,461.0 589.4,462.9 591.4,464.8 593.4,466.8 595.4,468.8 597.4,470.9 599.4,472.9 601.4,475.0 603.4,477.1 605.4,479.2 607.4,481.4 609.4,483.5 611.4,485.6 613.4,487.6 615.4,489.7 617.4,491.7 619.4,493.6 621.4,495.5 623.4,497.4 625.4,499.2 627.4,500.9 629.4,502.5 631.4,504.1 633.4,505.6 635.4,507.0 637.4,508.4 639.4,509.6 641.4,510.8 643.4,511.9 645.4,512.8 647.4,513.8 649.4,514.6 651.4,515.3 653.4,516.0 655.4,516.5 657.4,517.0 659.4,517.4 661.4,517.7 663.4,518.0 665.4,518.2 667.4,518.3 669.4,518.3 671.4,518.3 673.4,518.2 675.4,518.1 677.4,517.9 679.4,517.6 681.4,517.3 683.4,517.0 685.4,516.6 687.4,516.1 689.4,515.6 691.4,515.1 693.4,514.6 695.4,514.1 697.4,513.5 699.4,512.9 701.4,512.3 703.4,511.7 705.4,511.1 707.4,510.5 709.4,509.9 711.4,509.3 713.4,508.7 715.4,508.2 717.4,507.6 719.4,507.1 721.4,506.6 723.4,506.2 725.4,505.8 727.4,505.4 729.4,505.1 731.4,504.8 733.4,504.5 735.4,504.4 737.4,504.2 739.4,504.2 741.4,504.2 743.4,504.2 745.4,504.3 747.4,504.5 749.4,504.7 751.4,505.0 753.4,505.4 755.4,505.8 757.4,506.2 759.4,506.7 761.4,507.3 763.4,507.9 765.4,508.5 767.4,509.2 769.4,509.9 771.4,510.6 773.4,511.3 775.4,512.1 777.4,512.8 779.4,513.6 781.4,514.3 783.4,515.0 785.4,515.8 787.4,516.5 789.4,517.2 791.4,517.9 793.4,518.5 795.4,519.1 797.4,519.7 799.4,520.3 801.4,520.8 803.4,521.3 805.4,521.8 807.4,522.3 809.4,522.7 811.4,523.1 813.4,523.4 815.4,523.8 817.4,524.1 819.4,524.3 821.4,524.6 823.4,524.8 825.4,525.1 827.4,525.2 829.4,525.4 831.4,525.6 833.4,525.7 835.4,525.8 837.4,526.0 839.4,526.1 841.4,526.2 843.4,526.2 845.4,526.3 847.4,526.4 849.4,526.4 851.4,526.5 853.4,526.5 855.4,526.5 857.4,526.6 859.4,526.6 861.4,526.6 863.4,526.6 865.4,526.6 867.4,526.7 869.4,526.7 871.4,526.7 873.4,526.7 875.4,526.7 877.4,526.7 879.4,526.7 881.4,526.7 883.4,526.7 885.4,526.7 887.4,526.7 889.4,526.7 891.4,526.7 893.4,526.7 895.4,526.7 897.4,526.7 899.4,526.7 901.4,526.7 903.4,526.7 905.4,526.7 907.4,526.7 909.4,526.7 911.4,526.7 913.4,526.7 915.4,526.7 917.4,526.7 919.4,526.7 921.4,526.7 923.4,526.7 925.4,526.7 927.4,526.7 929.4,526.7 931.4,526.7 933.4,526.7 935.4,526.7 937.4,526.7 939.4,526.7 941.4,526.7 943.4,526.7 945.4,526.7 947.4,526.7 949.4,526.7 951.4,526.7 953.4,526.7 955.4,526.7 957.4,526.7 959.4,526.7 961.4,526.7 963.4,526.7 965.4,526.7 967.4,526.7 969.4,526.7 971.4,526.7 973.4,526.7 975.4,526.7 977.4,526.7 979.4,526.7 981.4,526.7 983.4,526.7 985.4,526.7 987.4,526.7 989.4,526.7 991.4,526.7 993.4,526.7 995.4,526.7 997.4,526.7 999.4,526.7 1001.4,526.7 1003.4,526.7 1005.4,526.7 1007.4,526.7 1009.4,526.7 1011.4,526.7 1013.4,526.7 1015.4,526.7 1017.4,526.7 1019.4,526.7 1021.4,526.7 1023.4,526.7 1025.4,526.7 1027.4,526.7 1029.4,526.7 1031.4,526.7 1033.4,526.7 1035.4,526.7 1037.4,526.7 1039.4,526.7 1041.4,526.7 1043.4,526.7 1045.4,526.7 1047.4,526.7 1049.4,526.7 1051.4,526.7 1053.4,526.7 1055.4,526.7 1057.4,526.7 1059.4,526.7 1061.4,526.7 1063.4,526.7 1065.4,526.7 1067.4,526.7 1069.4,526.7 1071.4,526.7 1073.4,526.7 1075.4,526.7 1077.4,526.7 1079.4,526.7 1081.4,526.7 1083.4,526.7 1085.4,526.7 1087.4,526.7 1089.4,526.7 1091.4,526.7 1093.4,526.7 1093.6,526.7" fill="none" stroke="#000" stroke-width="2.0" stroke-linejoin="round" stroke-linecap="round"/>
<polygon points="395.4,585.54 395.4,585.3 397.4,585.3 399.4,585.2 401.4,585.2 403.4,585.1 405.4,585.0 407.4,584.9 409.4,584.7 411.4,584.6 413.4,584.4 415.4,584.2 417.4,583.9 419.4,583.6 421.4,583.3 423.4,582.9 425.4,582.4 427.4,581.9 429.4,581.3 431.4,580.7 433.4,580.0 435.4,579.2 437.4,578.3 439.4,577.3 441.4,576.2 443.4,575.0 445.4,573.7 447.4,572.3 449.4,570.8 451.4,569.2 453.4,567.4 455.4,565.6 457.4,563.6 459.4,561.5 461.4,559.4 463.4,557.1 465.4,554.7 467.4,552.2 469.4,549.7 471.4,547.1 473.4,544.4 475.4,541.7 477.4,539.0 479.4,536.2 481.4,533.5 483.4,530.8 485.4,528.1 487.4,525.5 489.4,522.9 491.4,520.4 493.4,518.1 495.4,515.9 497.4,513.8 499.4,511.8 501.4,510.1 503.4,508.5 505.4,507.1 507.4,505.8 509.4,504.8 511.4,504.0 513.4,503.4 515.4,503.0 517.4,502.8 519.4,502.8 521.4,502.9 523.4,503.3 525.4,503.8 527.4,504.5 529.4,505.3 531.4,506.2 533.4,507.3 535.4,508.5 537.4,509.7 539.4,511.1 541.4,512.5 543.4,513.9 545.4,515.4 547.4,516.9 549.4,518.4 551.4,519.9 553.4,521.4 555.4,522.9 557.4,524.4 559.4,525.8 561.4,527.2 563.4,528.5 565.4,529.8 567.4,531.0 569.4,532.1 571.4,533.1 573.4,534.0 575.4,534.9 577.4,535.7 579.4,536.3 581.4,536.9 583.4,537.4 585.4,537.8 587.4,538.1 589.4,538.4 591.4,538.6 593.4,538.7 595.4,538.7 597.4,538.7 599.4,538.7 601.4,538.7 603.4,538.6 605.4,538.6 607.4,538.5 609.4,538.5 611.4,538.5 613.4,538.5 615.4,538.6 617.4,538.7 619.4,538.9 621.4,539.1 623.4,539.4 625.4,539.8 627.4,540.2 629.4,540.6 631.4,541.1 633.4,541.7 635.4,542.2 637.4,542.9 639.4,543.5 641.4,544.2 643.4,544.9 645.4,545.6 647.4,546.4 649.4,547.2 651.4,547.9 653.4,548.7 655.4,549.5 657.4,550.3 659.4,551.1 661.4,551.9 663.4,552.7 665.4,553.6 667.4,554.4 669.4,555.2 671.4,556.0 673.4,556.8 675.4,557.6 677.4,558.4 679.4,559.1 681.4,559.9 683.4,560.6 685.4,561.3 687.4,561.9 689.4,562.5 691.4,563.1 693.4,563.7 695.4,564.2 697.4,564.7 699.4,565.1 701.4,565.5 703.4,565.9 705.4,566.3 707.4,566.6 709.4,566.9 711.4,567.2 713.4,567.5 715.4,567.7 717.4,568.0 719.4,568.3 721.4,568.6 723.4,568.9 725.4,569.2 727.4,569.6 729.4,570.0 731.4,570.3 733.4,570.8 735.4,571.2 737.4,571.7 739.4,572.2 741.4,572.7 743.4,573.2 745.4,573.7 747.4,574.3 749.4,574.8 751.4,575.3 753.4,575.9 755.4,576.4 757.4,576.9 759.4,577.4 761.4,577.8 763.4,578.3 765.4,578.7 767.4,579.0 769.4,579.4 771.4,579.7 773.4,579.9 775.4,580.2 777.4,580.4 779.4,580.5 781.4,580.6 783.4,580.8 785.4,580.8 787.4,580.9 789.4,580.9 791.4,580.9 793.4,581.0 795.4,581.0 797.4,580.9 799.4,580.9 801.4,580.9 803.4,580.9 805.4,580.9 807.4,580.9 809.4,581.0 811.4,581.0 813.4,581.1 815.4,581.1 817.4,581.2 819.4,581.3 821.4,581.4 823.4,581.5 825.4,581.6 827.4,581.8 829.4,581.9 831.4,582.1 833.4,582.3 835.4,582.4 837.4,582.6 839.4,582.8 841.4,583.0 843.4,583.2 845.4,583.3 847.4,583.5 849.4,583.7 851.4,583.8 853.4,584.0 855.4,584.1 857.4,584.3 859.4,584.4 861.4,584.5 863.4,584.6 865.4,584.7 867.4,584.8 869.4,584.9 871.4,585.0 873.4,585.1 875.4,585.1 877.4,585.2 879.4,585.2 881.4,585.3 883.4,585.3 885.4,585.3 887.4,585.4 889.4,585.4 891.4,585.4 893.4,585.4 895.4,585.5 897.4,585.5 899.4,585.5 901.4,585.5 903.4,585.5 905.4,585.5 907.4,585.5 909.4,585.5 911.4,585.5 913.4,585.5 915.4,585.5 917.4,585.5 919.4,585.5 921.4,585.5 923.4,585.4 925.4,585.4 927.4,585.4 929.4,585.4 931.4,585.4 933.4,585.3 935.4,585.3 937.4,585.2 939.4,585.2 941.4,585.1 943.4,585.1 945.4,585.0 947.4,584.9 949.4,584.9 951.4,584.8 953.4,584.7 955.4,584.6 957.4,584.5 959.4,584.3 961.4,584.2 963.4,584.1 965.4,583.9 967.4,583.8 969.4,583.6 971.4,583.5 973.4,583.3 975.4,583.2 977.4,583.0 979.4,582.8 981.4,582.7 983.4,582.5 985.4,582.4 987.4,582.2 989.4,582.1 991.4,582.0 993.4,581.9 995.4,581.8 997.4,581.7 999.4,581.6 1001.4,581.6 1003.4,581.6 1005.4,581.5 1007.4,581.5 1009.4,581.6 1011.4,581.6 1013.4,581.7 1015.4,581.7 1017.4,581.8 1019.4,581.9 1021.4,582.0 1023.4,582.2 1025.4,582.3 1027.4,582.4 1029.4,582.6 1031.4,582.7 1033.4,582.9 1035.4,583.1 1037.4,583.2 1039.4,583.4 1041.4,583.5 1043.4,583.7 1045.4,583.9 1047.4,584.0 1049.4,584.1 1051.4,584.3 1053.4,584.4 1055.4,584.5 1057.4,584.6 1059.4,584.7 1061.4,584.8 1063.4,584.9 1065.4,585.0 1067.4,585.1 1069.4,585.1 1071.4,585.2 1073.4,585.2 1075.4,585.3 1077.4,585.3 1079.4,585.3 1081.4,585.4 1083.4,585.4 1085.4,585.4 1087.4,585.4 1089.4,585.5 1091.4,585.5 1093.4,585.5 1093.6,585.5 1093.6,585.54" fill="#C40092" stroke="none"/>
<polyline points="395.4,585.3 397.4,585.3 399.4,585.2 401.4,585.2 403.4,585.1 405.4,585.0 407.4,584.9 409.4,584.7 411.4,584.6 413.4,584.4 415.4,584.2 417.4,583.9 419.4,583.6 421.4,583.3 423.4,582.9 425.4,582.4 427.4,581.9 429.4,581.3 431.4,580.7 433.4,580.0 435.4,579.2 437.4,578.3 439.4,577.3 441.4,576.2 443.4,575.0 445.4,573.7 447.4,572.3 449.4,570.8 451.4,569.2 453.4,567.4 455.4,565.6 457.4,563.6 459.4,561.5 461.4,559.4 463.4,557.1 465.4,554.7 467.4,552.2 469.4,549.7 471.4,547.1 473.4,544.4 475.4,541.7 477.4,539.0 479.4,536.2 481.4,533.5 483.4,530.8 485.4,528.1 487.4,525.5 489.4,522.9 491.4,520.4 493.4,518.1 495.4,515.9 497.4,513.8 499.4,511.8 501.4,510.1 503.4,508.5 505.4,507.1 507.4,505.8 509.4,504.8 511.4,504.0 513.4,503.4 515.4,503.0 517.4,502.8 519.4,502.8 521.4,502.9 523.4,503.3 525.4,503.8 527.4,504.5 529.4,505.3 531.4,506.2 533.4,507.3 535.4,508.5 537.4,509.7 539.4,511.1 541.4,512.5 543.4,513.9 545.4,515.4 547.4,516.9 549.4,518.4 551.4,519.9 553.4,521.4 555.4,522.9 557.4,524.4 559.4,525.8 561.4,527.2 563.4,528.5 565.4,529.8 567.4,531.0 569.4,532.1 571.4,533.1 573.4,534.0 575.4,534.9 577.4,535.7 579.4,536.3 581.4,536.9 583.4,537.4 585.4,537.8 587.4,538.1 589.4,538.4 591.4,538.6 593.4,538.7 595.4,538.7 597.4,538.7 599.4,538.7 601.4,538.7 603.4,538.6 605.4,538.6 607.4,538.5 609.4,538.5 611.4,538.5 613.4,538.5 615.4,538.6 617.4,538.7 619.4,538.9 621.4,539.1 623.4,539.4 625.4,539.8 627.4,540.2 629.4,540.6 631.4,541.1 633.4,541.7 635.4,542.2 637.4,542.9 639.4,543.5 641.4,544.2 643.4,544.9 645.4,545.6 647.4,546.4 649.4,547.2 651.4,547.9 653.4,548.7 655.4,549.5 657.4,550.3 659.4,551.1 661.4,551.9 663.4,552.7 665.4,553.6 667.4,554.4 669.4,555.2 671.4,556.0 673.4,556.8 675.4,557.6 677.4,558.4 679.4,559.1 681.4,559.9 683.4,560.6 685.4,561.3 687.4,561.9 689.4,562.5 691.4,563.1 693.4,563.7 695.4,564.2 697.4,564.7 699.4,565.1 701.4,565.5 703.4,565.9 705.4,566.3 707.4,566.6 709.4,566.9 711.4,567.2 713.4,567.5 715.4,567.7 717.4,568.0 719.4,568.3 721.4,568.6 723.4,568.9 725.4,569.2 727.4,569.6 729.4,570.0 731.4,570.3 733.4,570.8 735.4,571.2 737.4,571.7 739.4,572.2 741.4,572.7 743.4,573.2 745.4,573.7 747.4,574.3 749.4,574.8 751.4,575.3 753.4,575.9 755.4,576.4 757.4,576.9 759.4,577.4 761.4,577.8 763.4,578.3 765.4,578.7 767.4,579.0 769.4,579.4 771.4,579.7 773.4,579.9 775.4,580.2 777.4,580.4 779.4,580.5 781.4,580.6 783.4,580.8 785.4,580.8 787.4,580.9 789.4,580.9 791.4,580.9 793.4,581.0 795.4,581.0 797.4,580.9 799.4,580.9 801.4,580.9 803.4,580.9 805.4,580.9 807.4,580.9 809.4,581.0 811.4,581.0 813.4,581.1 815.4,581.1 817.4,581.2 819.4,581.3 821.4,581.4 823.4,581.5 825.4,581.6 827.4,581.8 829.4,581.9 831.4,582.1 833.4,582.3 835.4,582.4 837.4,582.6 839.4,582.8 841.4,583.0 843.4,583.2 845.4,583.3 847.4,583.5 849.4,583.7 851.4,583.8 853.4,584.0 855.4,584.1 857.4,584.3 859.4,584.4 861.4,584.5 863.4,584.6 865.4,584.7 867.4,584.8 869.4,584.9 871.4,585.0 873.4,585.1 875.4,585.1 877.4,585.2 879.4,585.2 881.4,585.3 883.4,585.3 885.4,585.3 887.4,585.4 889.4,585.4 891.4,585.4 893.4,585.4 895.4,585.5 897.4,585.5 899.4,585.5 901.4,585.5 903.4,585.5 905.4,585.5 907.4,585.5 909.4,585.5 911.4,585.5 913.4,585.5 915.4,585.5 917.4,585.5 919.4,585.5 921.4,585.5 923.4,585.4 925.4,585.4 927.4,585.4 929.4,585.4 931.4,585.4 933.4,585.3 935.4,585.3 937.4,585.2 939.4,585.2 941.4,585.1 943.4,585.1 945.4,585.0 947.4,584.9 949.4,584.9 951.4,584.8 953.4,584.7 955.4,584.6 957.4,584.5 959.4,584.3 961.4,584.2 963.4,584.1 965.4,583.9 967.4,583.8 969.4,583.6 971.4,583.5 973.4,583.3 975.4,583.2 977.4,583.0 979.4,582.8 981.4,582.7 983.4,582.5 985.4,582.4 987.4,582.2 989.4,582.1 991.4,582.0 993.4,581.9 995.4,581.8 997.4,581.7 999.4,581.6 1001.4,581.6 1003.4,581.6 1005.4,581.5 1007.4,581.5 1009.4,581.6 1011.4,581.6 1013.4,581.7 1015.4,581.7 1017.4,581.8 1019.4,581.9 1021.4,582.0 1023.4,582.2 1025.4,582.3 1027.4,582.4 1029.4,582.6 1031.4,582.7 1033.4,582.9 1035.4,583.1 1037.4,583.2 1039.4,583.4 1041.4,583.5 1043.4,583.7 1045.4,583.9 1047.4,584.0 1049.4,584.1 1051.4,584.3 1053.4,584.4 1055.4,584.5 1057.4,584.6 1059.4,584.7 1061.4,584.8 1063.4,584.9 1065.4,585.0 1067.4,585.1 1069.4,585.1 1071.4,585.2 1073.4,585.2 1075.4,585.3 1077.4,585.3 1079.4,585.3 1081.4,585.4 1083.4,585.4 1085.4,585.4 1087.4,585.4 1089.4,585.5 1091.4,585.5 1093.4,585.5 1093.6,585.5" fill="none" stroke="#000" stroke-width="2.0" stroke-linejoin="round" stroke-linecap="round"/>
<polygon points="395.4,644.37 395.4,644.2 397.4,644.2 399.4,644.1 401.4,644.0 403.4,644.0 405.4,643.9 407.4,643.8 409.4,643.6 411.4,643.5 413.4,643.3 415.4,643.0 417.4,642.8 419.4,642.4 421.4,642.1 423.4,641.6 425.4,641.2 427.4,640.6 429.4,639.9 431.4,639.2 433.4,638.4 435.4,637.4 437.4,636.4 439.4,635.2 441.4,633.9 443.4,632.5 445.4,630.9 447.4,629.2 449.4,627.4 451.4,625.4 453.4,623.2 455.4,620.9 457.4,618.5 459.4,615.9 461.4,613.2 463.4,610.3 465.4,607.4 467.4,604.3 469.4,601.2 471.4,597.9 473.4,594.7 475.4,591.4 477.4,588.0 479.4,584.7 481.4,581.4 483.4,578.2 485.4,575.0 487.4,572.0 489.4,569.0 491.4,566.2 493.4,563.5 495.4,561.0 497.4,558.7 499.4,556.6 501.4,554.7 503.4,553.0 505.4,551.5 507.4,550.3 509.4,549.3 511.4,548.5 513.4,547.9 515.4,547.6 517.4,547.4 519.4,547.5 521.4,547.7 523.4,548.2 525.4,548.7 527.4,549.5 529.4,550.4 531.4,551.4 533.4,552.5 535.4,553.7 537.4,554.9 539.4,556.3 541.4,557.7 543.4,559.1 545.4,560.6 547.4,562.1 549.4,563.6 551.4,565.2 553.4,566.7 555.4,568.3 557.4,569.8 559.4,571.4 561.4,572.9 563.4,574.5 565.4,576.0 567.4,577.6 569.4,579.1 571.4,580.7 573.4,582.2 575.4,583.7 577.4,585.2 579.4,586.7 581.4,588.2 583.4,589.6 585.4,591.1 587.4,592.5 589.4,593.9 591.4,595.3 593.4,596.7 595.4,598.0 597.4,599.3 599.4,600.5 601.4,601.8 603.4,602.9 605.4,604.1 607.4,605.2 609.4,606.3 611.4,607.3 613.4,608.3 615.4,609.2 617.4,610.1 619.4,611.0 621.4,611.8 623.4,612.5 625.4,613.3 627.4,614.0 629.4,614.7 631.4,615.3 633.4,615.9 635.4,616.5 637.4,617.1 639.4,617.7 641.4,618.3 643.4,618.8 645.4,619.4 647.4,619.9 649.4,620.5 651.4,621.1 653.4,621.7 655.4,622.2 657.4,622.8 659.4,623.4 661.4,624.1 663.4,624.7 665.4,625.3 667.4,625.9 669.4,626.5 671.4,627.1 673.4,627.7 675.4,628.3 677.4,628.8 679.4,629.3 681.4,629.8 683.4,630.3 685.4,630.7 687.4,631.1 689.4,631.4 691.4,631.7 693.4,632.0 695.4,632.2 697.4,632.4 699.4,632.5 701.4,632.7 703.4,632.8 705.4,632.9 707.4,632.9 709.4,633.0 711.4,633.1 713.4,633.1 715.4,633.2 717.4,633.3 719.4,633.3 721.4,633.4 723.4,633.6 725.4,633.7 727.4,633.9 729.4,634.1 731.4,634.3 733.4,634.5 735.4,634.8 737.4,635.0 739.4,635.3 741.4,635.6 743.4,635.9 745.4,636.2 747.4,636.5 749.4,636.8 751.4,637.1 753.4,637.4 755.4,637.6 757.4,637.9 759.4,638.1 761.4,638.3 763.4,638.5 765.4,638.6 767.4,638.8 769.4,638.8 771.4,638.9 773.4,639.0 775.4,639.0 777.4,639.0 779.4,639.0 781.4,638.9 783.4,638.9 785.4,638.8 787.4,638.8 789.4,638.7 791.4,638.6 793.4,638.6 795.4,638.5 797.4,638.5 799.4,638.4 801.4,638.4 803.4,638.4 805.4,638.4 807.4,638.4 809.4,638.5 811.4,638.6 813.4,638.7 815.4,638.8 817.4,638.9 819.4,639.0 821.4,639.2 823.4,639.4 825.4,639.5 827.4,639.7 829.4,639.9 831.4,640.2 833.4,640.4 835.4,640.6 837.4,640.8 839.4,641.0 841.4,641.3 843.4,641.5 845.4,641.7 847.4,641.9 849.4,642.1 851.4,642.3 853.4,642.5 855.4,642.6 857.4,642.8 859.4,642.9 861.4,643.1 863.4,643.2 865.4,643.3 867.4,643.4 869.4,643.5 871.4,643.6 873.4,643.7 875.4,643.8 877.4,643.9 879.4,643.9 881.4,644.0 883.4,644.0 885.4,644.1 887.4,644.1 889.4,644.2 891.4,644.2 893.4,644.2 895.4,644.2 897.4,644.3 899.4,644.3 901.4,644.3 903.4,644.3 905.4,644.3 907.4,644.3 909.4,644.3 911.4,644.3 913.4,644.3 915.4,644.3 917.4,644.3 919.4,644.3 921.4,644.3 923.4,644.3 925.4,644.3 927.4,644.3 929.4,644.2 931.4,644.2 933.4,644.2 935.4,644.2 937.4,644.1 939.4,644.1 941.4,644.1 943.4,644.0 945.4,644.0 947.4,643.9 949.4,643.8 951.4,643.8 953.4,643.7 955.4,643.6 957.4,643.5 959.4,643.4 961.4,643.3 963.4,643.2 965.4,643.1 967.4,643.0 969.4,642.9 971.4,642.7 973.4,642.6 975.4,642.5 977.4,642.3 979.4,642.2 981.4,642.1 983.4,642.0 985.4,641.8 987.4,641.7 989.4,641.6 991.4,641.5 993.4,641.4 995.4,641.4 997.4,641.3 999.4,641.2 1001.4,641.2 1003.4,641.2 1005.4,641.2 1007.4,641.2 1009.4,641.2 1011.4,641.2 1013.4,641.3 1015.4,641.3 1017.4,641.4 1019.4,641.5 1021.4,641.6 1023.4,641.7 1025.4,641.8 1027.4,641.9 1029.4,642.0 1031.4,642.1 1033.4,642.3 1035.4,642.4 1037.4,642.5 1039.4,642.6 1041.4,642.8 1043.4,642.9 1045.4,643.0 1047.4,643.1 1049.4,643.3 1051.4,643.4 1053.4,643.5 1055.4,643.6 1057.4,643.6 1059.4,643.7 1061.4,643.8 1063.4,643.9 1065.4,643.9 1067.4,644.0 1069.4,644.0 1071.4,644.1 1073.4,644.1 1075.4,644.2 1077.4,644.2 1079.4,644.2 1081.4,644.2 1083.4,644.3 1085.4,644.3 1087.4,644.3 1089.4,644.3 1091.4,644.3 1093.4,644.3 1093.6,644.3 1093.6,644.37" fill="#F5002D" stroke="none"/>
<polyline points="395.4,644.2 397.4,644.2 399.4,644.1 401.4,644.0 403.4,644.0 405.4,643.9 407.4,643.8 409.4,643.6 411.4,643.5 413.4,643.3 415.4,643.0 417.4,642.8 419.4,642.4 421.4,642.1 423.4,641.6 425.4,641.2 427.4,640.6 429.4,639.9 431.4,639.2 433.4,638.4 435.4,637.4 437.4,636.4 439.4,635.2 441.4,633.9 443.4,632.5 445.4,630.9 447.4,629.2 449.4,627.4 451.4,625.4 453.4,623.2 455.4,620.9 457.4,618.5 459.4,615.9 461.4,613.2 463.4,610.3 465.4,607.4 467.4,604.3 469.4,601.2 471.4,597.9 473.4,594.7 475.4,591.4 477.4,588.0 479.4,584.7 481.4,581.4 483.4,578.2 485.4,575.0 487.4,572.0 489.4,569.0 491.4,566.2 493.4,563.5 495.4,561.0 497.4,558.7 499.4,556.6 501.4,554.7 503.4,553.0 505.4,551.5 507.4,550.3 509.4,549.3 511.4,548.5 513.4,547.9 515.4,547.6 517.4,547.4 519.4,547.5 521.4,547.7 523.4,548.2 525.4,548.7 527.4,549.5 529.4,550.4 531.4,551.4 533.4,552.5 535.4,553.7 537.4,554.9 539.4,556.3 541.4,557.7 543.4,559.1 545.4,560.6 547.4,562.1 549.4,563.6 551.4,565.2 553.4,566.7 555.4,568.3 557.4,569.8 559.4,571.4 561.4,572.9 563.4,574.5 565.4,576.0 567.4,577.6 569.4,579.1 571.4,580.7 573.4,582.2 575.4,583.7 577.4,585.2 579.4,586.7 581.4,588.2 583.4,589.6 585.4,591.1 587.4,592.5 589.4,593.9 591.4,595.3 593.4,596.7 595.4,598.0 597.4,599.3 599.4,600.5 601.4,601.8 603.4,602.9 605.4,604.1 607.4,605.2 609.4,606.3 611.4,607.3 613.4,608.3 615.4,609.2 617.4,610.1 619.4,611.0 621.4,611.8 623.4,612.5 625.4,613.3 627.4,614.0 629.4,614.7 631.4,615.3 633.4,615.9 635.4,616.5 637.4,617.1 639.4,617.7 641.4,618.3 643.4,618.8 645.4,619.4 647.4,619.9 649.4,620.5 651.4,621.1 653.4,621.7 655.4,622.2 657.4,622.8 659.4,623.4 661.4,624.1 663.4,624.7 665.4,625.3 667.4,625.9 669.4,626.5 671.4,627.1 673.4,627.7 675.4,628.3 677.4,628.8 679.4,629.3 681.4,629.8 683.4,630.3 685.4,630.7 687.4,631.1 689.4,631.4 691.4,631.7 693.4,632.0 695.4,632.2 697.4,632.4 699.4,632.5 701.4,632.7 703.4,632.8 705.4,632.9 707.4,632.9 709.4,633.0 711.4,633.1 713.4,633.1 715.4,633.2 717.4,633.3 719.4,633.3 721.4,633.4 723.4,633.6 725.4,633.7 727.4,633.9 729.4,634.1 731.4,634.3 733.4,634.5 735.4,634.8 737.4,635.0 739.4,635.3 741.4,635.6 743.4,635.9 745.4,636.2 747.4,636.5 749.4,636.8 751.4,637.1 753.4,637.4 755.4,637.6 757.4,637.9 759.4,638.1 761.4,638.3 763.4,638.5 765.4,638.6 767.4,638.8 769.4,638.8 771.4,638.9 773.4,639.0 775.4,639.0 777.4,639.0 779.4,639.0 781.4,638.9 783.4,638.9 785.4,638.8 787.4,638.8 789.4,638.7 791.4,638.6 793.4,638.6 795.4,638.5 797.4,638.5 799.4,638.4 801.4,638.4 803.4,638.4 805.4,638.4 807.4,638.4 809.4,638.5 811.4,638.6 813.4,638.7 815.4,638.8 817.4,638.9 819.4,639.0 821.4,639.2 823.4,639.4 825.4,639.5 827.4,639.7 829.4,639.9 831.4,640.2 833.4,640.4 835.4,640.6 837.4,640.8 839.4,641.0 841.4,641.3 843.4,641.5 845.4,641.7 847.4,641.9 849.4,642.1 851.4,642.3 853.4,642.5 855.4,642.6 857.4,642.8 859.4,642.9 861.4,643.1 863.4,643.2 865.4,643.3 867.4,643.4 869.4,643.5 871.4,643.6 873.4,643.7 875.4,643.8 877.4,643.9 879.4,643.9 881.4,644.0 883.4,644.0 885.4,644.1 887.4,644.1 889.4,644.2 891.4,644.2 893.4,644.2 895.4,644.2 897.4,644.3 899.4,644.3 901.4,644.3 903.4,644.3 905.4,644.3 907.4,644.3 909.4,644.3 911.4,644.3 913.4,644.3 915.4,644.3 917.4,644.3 919.4,644.3 921.4,644.3 923.4,644.3 925.4,644.3 927.4,644.3 929.4,644.2 931.4,644.2 933.4,644.2 935.4,644.2 937.4,644.1 939.4,644.1 941.4,644.1 943.4,644.0 945.4,644.0 947.4,643.9 949.4,643.8 951.4,643.8 953.4,643.7 955.4,643.6 957.4,643.5 959.4,643.4 961.4,643.3 963.4,643.2 965.4,643.1 967.4,643.0 969.4,642.9 971.4,642.7 973.4,642.6 975.4,642.5 977.4,642.3 979.4,642.2 981.4,642.1 983.4,642.0 985.4,641.8 987.4,641.7 989.4,641.6 991.4,641.5 993.4,641.4 995.4,641.4 997.4,641.3 999.4,641.2 1001.4,641.2 1003.4,641.2 1005.4,641.2 1007.4,641.2 1009.4,641.2 1011.4,641.2 1013.4,641.3 1015.4,641.3 1017.4,641.4 1019.4,641.5 1021.4,641.6 1023.4,641.7 1025.4,641.8 1027.4,641.9 1029.4,642.0 1031.4,642.1 1033.4,642.3 1035.4,642.4 1037.4,642.5 1039.4,642.6 1041.4,642.8 1043.4,642.9 1045.4,643.0 1047.4,643.1 1049.4,643.3 1051.4,643.4 1053.4,643.5 1055.4,643.6 1057.4,643.6 1059.4,643.7 1061.4,643.8 1063.4,643.9 1065.4,643.9 1067.4,644.0 1069.4,644.0 1071.4,644.1 1073.4,644.1 1075.4,644.2 1077.4,644.2 1079.4,644.2 1081.4,644.2 1083.4,644.3 1085.4,644.3 1087.4,644.3 1089.4,644.3 1091.4,644.3 1093.4,644.3 1093.6,644.3" fill="none" stroke="#000" stroke-width="2.0" stroke-linejoin="round" stroke-linecap="round"/>
<polygon points="395.4,703.20 395.4,702.9 397.4,702.9 399.4,702.8 401.4,702.7 403.4,702.6 405.4,702.4 407.4,702.3 409.4,702.1 411.4,701.9 413.4,701.6 415.4,701.3 417.4,700.9 419.4,700.5 421.4,700.0 423.4,699.4 425.4,698.7 427.4,697.9 429.4,697.0 431.4,696.1 433.4,694.9 435.4,693.7 437.4,692.3 439.4,690.7 441.4,688.9 443.4,687.0 445.4,684.9 447.4,682.7 449.4,680.2 451.4,677.5 453.4,674.7 455.4,671.6 457.4,668.4 459.4,665.0 461.4,661.5 463.4,657.8 465.4,654.0 467.4,650.2 469.4,646.2 471.4,642.2 473.4,638.2 475.4,634.2 477.4,630.3 479.4,626.5 481.4,622.8 483.4,619.2 485.4,615.9 487.4,612.8 489.4,609.9 491.4,607.3 493.4,605.0 495.4,603.0 497.4,601.4 499.4,600.1 501.4,599.2 503.4,598.6 505.4,598.4 507.4,598.5 509.4,598.9 511.4,599.6 513.4,600.7 515.4,602.0 517.4,603.5 519.4,605.3 521.4,607.2 523.4,609.3 525.4,611.6 527.4,613.9 529.4,616.4 531.4,618.8 533.4,621.4 535.4,623.9 537.4,626.4 539.4,628.8 541.4,631.2 543.4,633.5 545.4,635.8 547.4,638.0 549.4,640.0 551.4,642.0 553.4,643.9 555.4,645.6 557.4,647.3 559.4,648.8 561.4,650.2 563.4,651.6 565.4,652.8 567.4,653.9 569.4,655.0 571.4,656.0 573.4,656.9 575.4,657.7 577.4,658.5 579.4,659.2 581.4,659.9 583.4,660.6 585.4,661.2 587.4,661.9 589.4,662.5 591.4,663.0 593.4,663.6 595.4,664.2 597.4,664.8 599.4,665.3 601.4,665.9 603.4,666.5 605.4,667.1 607.4,667.6 609.4,668.2 611.4,668.7 613.4,669.3 615.4,669.8 617.4,670.3 619.4,670.8 621.4,671.3 623.4,671.8 625.4,672.3 627.4,672.7 629.4,673.2 631.4,673.6 633.4,674.0 635.4,674.4 637.4,674.9 639.4,675.3 641.4,675.7 643.4,676.1 645.4,676.6 647.4,677.0 649.4,677.5 651.4,677.9 653.4,678.4 655.4,679.0 657.4,679.5 659.4,680.0 661.4,680.6 663.4,681.1 665.4,681.7 667.4,682.2 669.4,682.8 671.4,683.4 673.4,683.9 675.4,684.4 677.4,684.9 679.4,685.4 681.4,685.9 683.4,686.3 685.4,686.7 687.4,687.1 689.4,687.5 691.4,687.8 693.4,688.1 695.4,688.3 697.4,688.6 699.4,688.8 701.4,689.0 703.4,689.1 705.4,689.2 707.4,689.3 709.4,689.4 711.4,689.5 713.4,689.6 715.4,689.6 717.4,689.7 719.4,689.7 721.4,689.7 723.4,689.8 725.4,689.8 727.4,689.8 729.4,689.8 731.4,689.9 733.4,689.9 735.4,689.9 737.4,690.0 739.4,690.1 741.4,690.2 743.4,690.3 745.4,690.4 747.4,690.5 749.4,690.7 751.4,690.8 753.4,691.0 755.4,691.3 757.4,691.5 759.4,691.8 761.4,692.1 763.4,692.4 765.4,692.7 767.4,693.1 769.4,693.4 771.4,693.8 773.4,694.2 775.4,694.6 777.4,695.0 779.4,695.5 781.4,695.9 783.4,696.3 785.4,696.7 787.4,697.1 789.4,697.5 791.4,697.9 793.4,698.2 795.4,698.6 797.4,698.9 799.4,699.3 801.4,699.6 803.4,699.9 805.4,700.1 807.4,700.4 809.4,700.6 811.4,700.9 813.4,701.1 815.4,701.3 817.4,701.4 819.4,701.6 821.4,701.8 823.4,701.9 825.4,702.0 827.4,702.1 829.4,702.3 831.4,702.4 833.4,702.4 835.4,702.5 837.4,702.6 839.4,702.7 841.4,702.7 843.4,702.8 845.4,702.8 847.4,702.9 849.4,702.9 851.4,702.9 853.4,703.0 855.4,703.0 857.4,703.0 859.4,703.1 861.4,703.1 863.4,703.1 865.4,703.1 867.4,703.1 869.4,703.1 871.4,703.1 873.4,703.1 875.4,703.2 877.4,703.2 879.4,703.2 881.4,703.2 883.4,703.2 885.4,703.2 887.4,703.2 889.4,703.2 891.4,703.2 893.4,703.2 895.4,703.2 897.4,703.2 899.4,703.2 901.4,703.2 903.4,703.2 905.4,703.2 907.4,703.2 909.4,703.2 911.4,703.2 913.4,703.2 915.4,703.2 917.4,703.2 919.4,703.2 921.4,703.2 923.4,703.2 925.4,703.2 927.4,703.2 929.4,703.2 931.4,703.2 933.4,703.2 935.4,703.2 937.4,703.2 939.4,703.2 941.4,703.2 943.4,703.2 945.4,703.2 947.4,703.2 949.4,703.2 951.4,703.2 953.4,703.2 955.4,703.2 957.4,703.2 959.4,703.2 961.4,703.2 963.4,703.2 965.4,703.2 967.4,703.2 969.4,703.2 971.4,703.2 973.4,703.2 975.4,703.2 977.4,703.2 979.4,703.2 981.4,703.2 983.4,703.2 985.4,703.2 987.4,703.2 989.4,703.2 991.4,703.2 993.4,703.2 995.4,703.2 997.4,703.2 999.4,703.2 1001.4,703.2 1003.4,703.2 1005.4,703.2 1007.4,703.2 1009.4,703.2 1011.4,703.2 1013.4,703.2 1015.4,703.2 1017.4,703.2 1019.4,703.2 1021.4,703.2 1023.4,703.2 1025.4,703.2 1027.4,703.2 1029.4,703.2 1031.4,703.2 1033.4,703.2 1035.4,703.2 1037.4,703.2 1039.4,703.2 1041.4,703.2 1043.4,703.2 1045.4,703.2 1047.4,703.2 1049.4,703.2 1051.4,703.2 1053.4,703.2 1055.4,703.2 1057.4,703.2 1059.4,703.2 1061.4,703.2 1063.4,703.2 1065.4,703.2 1067.4,703.2 1069.4,703.2 1071.4,703.2 1073.4,703.2 1075.4,703.2 1077.4,703.2 1079.4,703.2 1081.4,703.2 1083.4,703.2 1085.4,703.2 1087.4,703.2 1089.4,703.2 1091.4,703.2 1093.4,703.2 1093.6,703.2 1093.6,703.20" fill="#FC0016" stroke="none"/>
<polyline points="395.4,702.9 397.4,702.9 399.4,702.8 401.4,702.7 403.4,702.6 405.4,702.4 407.4,702.3 409.4,702.1 411.4,701.9 413.4,701.6 415.4,701.3 417.4,700.9 419.4,700.5 421.4,700.0 423.4,699.4 425.4,698.7 427.4,697.9 429.4,697.0 431.4,696.1 433.4,694.9 435.4,693.7 437.4,692.3 439.4,690.7 441.4,688.9 443.4,687.0 445.4,684.9 447.4,682.7 449.4,680.2 451.4,677.5 453.4,674.7 455.4,671.6 457.4,668.4 459.4,665.0 461.4,661.5 463.4,657.8 465.4,654.0 467.4,650.2 469.4,646.2 471.4,642.2 473.4,638.2 475.4,634.2 477.4,630.3 479.4,626.5 481.4,622.8 483.4,619.2 485.4,615.9 487.4,612.8 489.4,609.9 491.4,607.3 493.4,605.0 495.4,603.0 497.4,601.4 499.4,600.1 501.4,599.2 503.4,598.6 505.4,598.4 507.4,598.5 509.4,598.9 511.4,599.6 513.4,600.7 515.4,602.0 517.4,603.5 519.4,605.3 521.4,607.2 523.4,609.3 525.4,611.6 527.4,613.9 529.4,616.4 531.4,618.8 533.4,621.4 535.4,623.9 537.4,626.4 539.4,628.8 541.4,631.2 543.4,633.5 545.4,635.8 547.4,638.0 549.4,640.0 551.4,642.0 553.4,643.9 555.4,645.6 557.4,647.3 559.4,648.8 561.4,650.2 563.4,651.6 565.4,652.8 567.4,653.9 569.4,655.0 571.4,656.0 573.4,656.9 575.4,657.7 577.4,658.5 579.4,659.2 581.4,659.9 583.4,660.6 585.4,661.2 587.4,661.9 589.4,662.5 591.4,663.0 593.4,663.6 595.4,664.2 597.4,664.8 599.4,665.3 601.4,665.9 603.4,666.5 605.4,667.1 607.4,667.6 609.4,668.2 611.4,668.7 613.4,669.3 615.4,669.8 617.4,670.3 619.4,670.8 621.4,671.3 623.4,671.8 625.4,672.3 627.4,672.7 629.4,673.2 631.4,673.6 633.4,674.0 635.4,674.4 637.4,674.9 639.4,675.3 641.4,675.7 643.4,676.1 645.4,676.6 647.4,677.0 649.4,677.5 651.4,677.9 653.4,678.4 655.4,679.0 657.4,679.5 659.4,680.0 661.4,680.6 663.4,681.1 665.4,681.7 667.4,682.2 669.4,682.8 671.4,683.4 673.4,683.9 675.4,684.4 677.4,684.9 679.4,685.4 681.4,685.9 683.4,686.3 685.4,686.7 687.4,687.1 689.4,687.5 691.4,687.8 693.4,688.1 695.4,688.3 697.4,688.6 699.4,688.8 701.4,689.0 703.4,689.1 705.4,689.2 707.4,689.3 709.4,689.4 711.4,689.5 713.4,689.6 715.4,689.6 717.4,689.7 719.4,689.7 721.4,689.7 723.4,689.8 725.4,689.8 727.4,689.8 729.4,689.8 731.4,689.9 733.4,689.9 735.4,689.9 737.4,690.0 739.4,690.1 741.4,690.2 743.4,690.3 745.4,690.4 747.4,690.5 749.4,690.7 751.4,690.8 753.4,691.0 755.4,691.3 757.4,691.5 759.4,691.8 761.4,692.1 763.4,692.4 765.4,692.7 767.4,693.1 769.4,693.4 771.4,693.8 773.4,694.2 775.4,694.6 777.4,695.0 779.4,695.5 781.4,695.9 783.4,696.3 785.4,696.7 787.4,697.1 789.4,697.5 791.4,697.9 793.4,698.2 795.4,698.6 797.4,698.9 799.4,699.3 801.4,699.6 803.4,699.9 805.4,700.1 807.4,700.4 809.4,700.6 811.4,700.9 813.4,701.1 815.4,701.3 817.4,701.4 819.4,701.6 821.4,701.8 823.4,701.9 825.4,702.0 827.4,702.1 829.4,702.3 831.4,702.4 833.4,702.4 835.4,702.5 837.4,702.6 839.4,702.7 841.4,702.7 843.4,702.8 845.4,702.8 847.4,702.9 849.4,702.9 851.4,702.9 853.4,703.0 855.4,703.0 857.4,703.0 859.4,703.1 861.4,703.1 863.4,703.1 865.4,703.1 867.4,703.1 869.4,703.1 871.4,703.1 873.4,703.1 875.4,703.2 877.4,703.2 879.4,703.2 881.4,703.2 883.4,703.2 885.4,703.2 887.4,703.2 889.4,703.2 891.4,703.2 893.4,703.2 895.4,703.2 897.4,703.2 899.4,703.2 901.4,703.2 903.4,703.2 905.4,703.2 907.4,703.2 909.4,703.2 911.4,703.2 913.4,703.2 915.4,703.2 917.4,703.2 919.4,703.2 921.4,703.2 923.4,703.2 925.4,703.2 927.4,703.2 929.4,703.2 931.4,703.2 933.4,703.2 935.4,703.2 937.4,703.2 939.4,703.2 941.4,703.2 943.4,703.2 945.4,703.2 947.4,703.2 949.4,703.2 951.4,703.2 953.4,703.2 955.4,703.2 957.4,703.2 959.4,703.2 961.4,703.2 963.4,703.2 965.4,703.2 967.4,703.2 969.4,703.2 971.4,703.2 973.4,703.2 975.4,703.2 977.4,703.2 979.4,703.2 981.4,703.2 983.4,703.2 985.4,703.2 987.4,703.2 989.4,703.2 991.4,703.2 993.4,703.2 995.4,703.2 997.4,703.2 999.4,703.2 1001.4,703.2 1003.4,703.2 1005.4,703.2 1007.4,703.2 1009.4,703.2 1011.4,703.2 1013.4,703.2 1015.4,703.2 1017.4,703.2 1019.4,703.2 1021.4,703.2 1023.4,703.2 1025.4,703.2 1027.4,703.2 1029.4,703.2 1031.4,703.2 1033.4,703.2 1035.4,703.2 1037.4,703.2 1039.4,703.2 1041.4,703.2 1043.4,703.2 1045.4,703.2 1047.4,703.2 1049.4,703.2 1051.4,703.2 1053.4,703.2 1055.4,703.2 1057.4,703.2 1059.4,703.2 1061.4,703.2 1063.4,703.2 1065.4,703.2 1067.4,703.2 1069.4,703.2 1071.4,703.2 1073.4,703.2 1075.4,703.2 1077.4,703.2 1079.4,703.2 1081.4,703.2 1083.4,703.2 1085.4,703.2 1087.4,703.2 1089.4,703.2 1091.4,703.2 1093.4,703.2 1093.6,703.2" fill="none" stroke="#000" stroke-width="2.0" stroke-linejoin="round" stroke-linecap="round"/>
<polygon points="395.4,762.03 395.4,761.7 397.4,761.6 399.4,761.5 401.4,761.4 403.4,761.2 405.4,761.1 407.4,760.9 409.4,760.6 411.4,760.4 413.4,760.1 415.4,759.7 417.4,759.3 419.4,758.8 421.4,758.2 423.4,757.6 425.4,756.9 427.4,756.1 429.4,755.2 431.4,754.2 433.4,753.0 435.4,751.7 437.4,750.3 439.4,748.7 441.4,747.0 443.4,745.1 445.4,743.1 447.4,740.9 449.4,738.5 451.4,735.9 453.4,733.2 455.4,730.3 457.4,727.3 459.4,724.1 461.4,720.8 463.4,717.4 465.4,713.8 467.4,710.2 469.4,706.6 471.4,702.9 473.4,699.2 475.4,695.6 477.4,692.0 479.4,688.5 481.4,685.2 483.4,682.0 485.4,679.0 487.4,676.2 489.4,673.6 491.4,671.3 493.4,669.3 495.4,667.6 497.4,666.2 499.4,665.1 501.4,664.3 503.4,663.9 505.4,663.7 507.4,663.9 509.4,664.3 511.4,665.0 513.4,666.0 515.4,667.2 517.4,668.6 519.4,670.2 521.4,671.9 523.4,673.8 525.4,675.7 527.4,677.7 529.4,679.8 531.4,682.0 533.4,684.1 535.4,686.2 537.4,688.3 539.4,690.3 541.4,692.3 543.4,694.2 545.4,696.1 547.4,697.8 549.4,699.5 551.4,701.1 553.4,702.5 555.4,703.9 557.4,705.2 559.4,706.4 561.4,707.5 563.4,708.5 565.4,709.5 567.4,710.3 569.4,711.1 571.4,711.9 573.4,712.6 575.4,713.2 577.4,713.8 579.4,714.4 581.4,715.0 583.4,715.5 585.4,716.1 587.4,716.6 589.4,717.2 591.4,717.7 593.4,718.3 595.4,718.9 597.4,719.5 599.4,720.2 601.4,720.8 603.4,721.5 605.4,722.2 607.4,722.9 609.4,723.6 611.4,724.3 613.4,725.0 615.4,725.7 617.4,726.4 619.4,727.0 621.4,727.7 623.4,728.3 625.4,728.9 627.4,729.4 629.4,729.9 631.4,730.5 633.4,730.9 635.4,731.4 637.4,731.8 639.4,732.3 641.4,732.7 643.4,733.2 645.4,733.6 647.4,734.0 649.4,734.5 651.4,735.0 653.4,735.5 655.4,736.0 657.4,736.6 659.4,737.1 661.4,737.7 663.4,738.4 665.4,739.0 667.4,739.7 669.4,740.4 671.4,741.1 673.4,741.7 675.4,742.4 677.4,743.1 679.4,743.8 681.4,744.4 683.4,745.0 685.4,745.6 687.4,746.2 689.4,746.7 691.4,747.2 693.4,747.6 695.4,748.0 697.4,748.4 699.4,748.8 701.4,749.1 703.4,749.3 705.4,749.6 707.4,749.8 709.4,750.0 711.4,750.2 713.4,750.4 715.4,750.6 717.4,750.8 719.4,750.9 721.4,751.1 723.4,751.3 725.4,751.4 727.4,751.6 729.4,751.8 731.4,752.0 733.4,752.2 735.4,752.4 737.4,752.6 739.4,752.8 741.4,753.1 743.4,753.3 745.4,753.5 747.4,753.7 749.4,754.0 751.4,754.2 753.4,754.4 755.4,754.6 757.4,754.8 759.4,755.0 761.4,755.2 763.4,755.4 765.4,755.6 767.4,755.8 769.4,756.0 771.4,756.2 773.4,756.4 775.4,756.5 777.4,756.7 779.4,756.9 781.4,757.0 783.4,757.2 785.4,757.3 787.4,757.5 789.4,757.6 791.4,757.8 793.4,757.9 795.4,758.0 797.4,758.2 799.4,758.3 801.4,758.4 803.4,758.5 805.4,758.6 807.4,758.7 809.4,758.8 811.4,758.9 813.4,759.0 815.4,759.1 817.4,759.2 819.4,759.3 821.4,759.4 823.4,759.5 825.4,759.6 827.4,759.7 829.4,759.7 831.4,759.8 833.4,759.9 835.4,760.0 837.4,760.1 839.4,760.2 841.4,760.3 843.4,760.4 845.4,760.5 847.4,760.6 849.4,760.7 851.4,760.8 853.4,760.8 855.4,760.9 857.4,761.0 859.4,761.1 861.4,761.2 863.4,761.3 865.4,761.3 867.4,761.4 869.4,761.5 871.4,761.5 873.4,761.6 875.4,761.6 877.4,761.7 879.4,761.7 881.4,761.8 883.4,761.8 885.4,761.8 887.4,761.8 889.4,761.9 891.4,761.9 893.4,761.9 895.4,761.9 897.4,761.9 899.4,762.0 901.4,762.0 903.4,762.0 905.4,762.0 907.4,762.0 909.4,762.0 911.4,762.0 913.4,762.0 915.4,762.0 917.4,762.0 919.4,762.0 921.4,762.0 923.4,762.0 925.4,762.0 927.4,762.0 929.4,761.9 931.4,761.9 933.4,761.9 935.4,761.9 937.4,761.9 939.4,761.9 941.4,761.8 943.4,761.8 945.4,761.8 947.4,761.7 949.4,761.7 951.4,761.6 953.4,761.6 955.4,761.5 957.4,761.5 959.4,761.4 961.4,761.4 963.4,761.3 965.4,761.2 967.4,761.2 969.4,761.1 971.4,761.0 973.4,760.9 975.4,760.8 977.4,760.8 979.4,760.7 981.4,760.6 983.4,760.5 985.4,760.5 987.4,760.4 989.4,760.3 991.4,760.3 993.4,760.2 995.4,760.2 997.4,760.1 999.4,760.1 1001.4,760.1 1003.4,760.0 1005.4,760.0 1007.4,760.0 1009.4,760.0 1011.4,760.1 1013.4,760.1 1015.4,760.1 1017.4,760.2 1019.4,760.2 1021.4,760.3 1023.4,760.3 1025.4,760.4 1027.4,760.5 1029.4,760.6 1031.4,760.6 1033.4,760.7 1035.4,760.8 1037.4,760.9 1039.4,761.0 1041.4,761.0 1043.4,761.1 1045.4,761.2 1047.4,761.3 1049.4,761.3 1051.4,761.4 1053.4,761.5 1055.4,761.5 1057.4,761.6 1059.4,761.6 1061.4,761.7 1063.4,761.7 1065.4,761.8 1067.4,761.8 1069.4,761.8 1071.4,761.8 1073.4,761.9 1075.4,761.9 1077.4,761.9 1079.4,761.9 1081.4,761.9 1083.4,762.0 1085.4,762.0 1087.4,762.0 1089.4,762.0 1091.4,762.0 1093.4,762.0 1093.6,762.0 1093.6,762.03" fill="#E3005B" stroke="none"/>
<polyline points="395.4,761.7 397.4,761.6 399.4,761.5 401.4,761.4 403.4,761.2 405.4,761.1 407.4,760.9 409.4,760.6 411.4,760.4 413.4,760.1 415.4,759.7 417.4,759.3 419.4,758.8 421.4,758.2 423.4,757.6 425.4,756.9 427.4,756.1 429.4,755.2 431.4,754.2 433.4,753.0 435.4,751.7 437.4,750.3 439.4,748.7 441.4,747.0 443.4,745.1 445.4,743.1 447.4,740.9 449.4,738.5 451.4,735.9 453.4,733.2 455.4,730.3 457.4,727.3 459.4,724.1 461.4,720.8 463.4,717.4 465.4,713.8 467.4,710.2 469.4,706.6 471.4,702.9 473.4,699.2 475.4,695.6 477.4,692.0 479.4,688.5 481.4,685.2 483.4,682.0 485.4,679.0 487.4,676.2 489.4,673.6 491.4,671.3 493.4,669.3 495.4,667.6 497.4,666.2 499.4,665.1 501.4,664.3 503.4,663.9 505.4,663.7 507.4,663.9 509.4,664.3 511.4,665.0 513.4,666.0 515.4,667.2 517.4,668.6 519.4,670.2 521.4,671.9 523.4,673.8 525.4,675.7 527.4,677.7 529.4,679.8 531.4,682.0 533.4,684.1 535.4,686.2 537.4,688.3 539.4,690.3 541.4,692.3 543.4,694.2 545.4,696.1 547.4,697.8 549.4,699.5 551.4,701.1 553.4,702.5 555.4,703.9 557.4,705.2 559.4,706.4 561.4,707.5 563.4,708.5 565.4,709.5 567.4,710.3 569.4,711.1 571.4,711.9 573.4,712.6 575.4,713.2 577.4,713.8 579.4,714.4 581.4,715.0 583.4,715.5 585.4,716.1 587.4,716.6 589.4,717.2 591.4,717.7 593.4,718.3 595.4,718.9 597.4,719.5 599.4,720.2 601.4,720.8 603.4,721.5 605.4,722.2 607.4,722.9 609.4,723.6 611.4,724.3 613.4,725.0 615.4,725.7 617.4,726.4 619.4,727.0 621.4,727.7 623.4,728.3 625.4,728.9 627.4,729.4 629.4,729.9 631.4,730.5 633.4,730.9 635.4,731.4 637.4,731.8 639.4,732.3 641.4,732.7 643.4,733.2 645.4,733.6 647.4,734.0 649.4,734.5 651.4,735.0 653.4,735.5 655.4,736.0 657.4,736.6 659.4,737.1 661.4,737.7 663.4,738.4 665.4,739.0 667.4,739.7 669.4,740.4 671.4,741.1 673.4,741.7 675.4,742.4 677.4,743.1 679.4,743.8 681.4,744.4 683.4,745.0 685.4,745.6 687.4,746.2 689.4,746.7 691.4,747.2 693.4,747.6 695.4,748.0 697.4,748.4 699.4,748.8 701.4,749.1 703.4,749.3 705.4,749.6 707.4,749.8 709.4,750.0 711.4,750.2 713.4,750.4 715.4,750.6 717.4,750.8 719.4,750.9 721.4,751.1 723.4,751.3 725.4,751.4 727.4,751.6 729.4,751.8 731.4,752.0 733.4,752.2 735.4,752.4 737.4,752.6 739.4,752.8 741.4,753.1 743.4,753.3 745.4,753.5 747.4,753.7 749.4,754.0 751.4,754.2 753.4,754.4 755.4,754.6 757.4,754.8 759.4,755.0 761.4,755.2 763.4,755.4 765.4,755.6 767.4,755.8 769.4,756.0 771.4,756.2 773.4,756.4 775.4,756.5 777.4,756.7 779.4,756.9 781.4,757.0 783.4,757.2 785.4,757.3 787.4,757.5 789.4,757.6 791.4,757.8 793.4,757.9 795.4,758.0 797.4,758.2 799.4,758.3 801.4,758.4 803.4,758.5 805.4,758.6 807.4,758.7 809.4,758.8 811.4,758.9 813.4,759.0 815.4,759.1 817.4,759.2 819.4,759.3 821.4,759.4 823.4,759.5 825.4,759.6 827.4,759.7 829.4,759.7 831.4,759.8 833.4,759.9 835.4,760.0 837.4,760.1 839.4,760.2 841.4,760.3 843.4,760.4 845.4,760.5 847.4,760.6 849.4,760.7 851.4,760.8 853.4,760.8 855.4,760.9 857.4,761.0 859.4,761.1 861.4,761.2 863.4,761.3 865.4,761.3 867.4,761.4 869.4,761.5 871.4,761.5 873.4,761.6 875.4,761.6 877.4,761.7 879.4,761.7 881.4,761.8 883.4,761.8 885.4,761.8 887.4,761.8 889.4,761.9 891.4,761.9 893.4,761.9 895.4,761.9 897.4,761.9 899.4,762.0 901.4,762.0 903.4,762.0 905.4,762.0 907.4,762.0 909.4,762.0 911.4,762.0 913.4,762.0 915.4,762.0 917.4,762.0 919.4,762.0 921.4,762.0 923.4,762.0 925.4,762.0 927.4,762.0 929.4,761.9 931.4,761.9 933.4,761.9 935.4,761.9 937.4,761.9 939.4,761.9 941.4,761.8 943.4,761.8 945.4,761.8 947.4,761.7 949.4,761.7 951.4,761.6 953.4,761.6 955.4,761.5 957.4,761.5 959.4,761.4 961.4,761.4 963.4,761.3 965.4,761.2 967.4,761.2 969.4,761.1 971.4,761.0 973.4,760.9 975.4,760.8 977.4,760.8 979.4,760.7 981.4,760.6 983.4,760.5 985.4,760.5 987.4,760.4 989.4,760.3 991.4,760.3 993.4,760.2 995.4,760.2 997.4,760.1 999.4,760.1 1001.4,760.1 1003.4,760.0 1005.4,760.0 1007.4,760.0 1009.4,760.0 1011.4,760.1 1013.4,760.1 1015.4,760.1 1017.4,760.2 1019.4,760.2 1021.4,760.3 1023.4,760.3 1025.4,760.4 1027.4,760.5 1029.4,760.6 1031.4,760.6 1033.4,760.7 1035.4,760.8 1037.4,760.9 1039.4,761.0 1041.4,761.0 1043.4,761.1 1045.4,761.2 1047.4,761.3 1049.4,761.3 1051.4,761.4 1053.4,761.5 1055.4,761.5 1057.4,761.6 1059.4,761.6 1061.4,761.7 1063.4,761.7 1065.4,761.8 1067.4,761.8 1069.4,761.8 1071.4,761.8 1073.4,761.9 1075.4,761.9 1077.4,761.9 1079.4,761.9 1081.4,761.9 1083.4,762.0 1085.4,762.0 1087.4,762.0 1089.4,762.0 1091.4,762.0 1093.4,762.0 1093.6,762.0" fill="none" stroke="#000" stroke-width="2.0" stroke-linejoin="round" stroke-linecap="round"/>
<polygon points="395.4,820.86 395.4,820.6 397.4,820.5 399.4,820.4 401.4,820.3 403.4,820.2 405.4,820.1 407.4,819.9 409.4,819.7 411.4,819.5 413.4,819.2 415.4,818.9 417.4,818.6 419.4,818.2 421.4,817.7 423.4,817.2 425.4,816.5 427.4,815.9 429.4,815.1 431.4,814.2 433.4,813.2 435.4,812.2 437.4,811.0 439.4,809.6 441.4,808.2 443.4,806.6 445.4,804.9 447.4,803.1 449.4,801.1 451.4,799.0 453.4,796.8 455.4,794.4 457.4,791.9 459.4,789.3 461.4,786.6 463.4,783.7 465.4,780.8 467.4,777.8 469.4,774.7 471.4,771.6 473.4,768.5 475.4,765.3 477.4,762.2 479.4,759.1 481.4,756.1 483.4,753.1 485.4,750.3 487.4,747.5 489.4,745.0 491.4,742.6 493.4,740.3 495.4,738.3 497.4,736.5 499.4,734.9 501.4,733.5 503.4,732.4 505.4,731.5 507.4,730.9 509.4,730.5 511.4,730.4 513.4,730.5 515.4,730.8 517.4,731.3 519.4,731.9 521.4,732.8 523.4,733.8 525.4,734.9 527.4,736.2 529.4,737.5 531.4,738.9 533.4,740.4 535.4,741.8 537.4,743.3 539.4,744.8 541.4,746.3 543.4,747.7 545.4,749.2 547.4,750.5 549.4,751.8 551.4,753.1 553.4,754.3 555.4,755.5 557.4,756.5 559.4,757.6 561.4,758.6 563.4,759.5 565.4,760.4 567.4,761.3 569.4,762.1 571.4,762.9 573.4,763.7 575.4,764.5 577.4,765.2 579.4,766.0 581.4,766.7 583.4,767.4 585.4,768.2 587.4,768.9 589.4,769.6 591.4,770.3 593.4,771.1 595.4,771.8 597.4,772.6 599.4,773.3 601.4,774.0 603.4,774.8 605.4,775.5 607.4,776.2 609.4,776.9 611.4,777.6 613.4,778.3 615.4,779.0 617.4,779.7 619.4,780.3 621.4,780.9 623.4,781.5 625.4,782.1 627.4,782.7 629.4,783.2 631.4,783.7 633.4,784.3 635.4,784.8 637.4,785.3 639.4,785.8 641.4,786.3 643.4,786.8 645.4,787.3 647.4,787.9 649.4,788.4 651.4,789.0 653.4,789.6 655.4,790.2 657.4,790.9 659.4,791.5 661.4,792.2 663.4,792.9 665.4,793.6 667.4,794.4 669.4,795.1 671.4,795.8 673.4,796.6 675.4,797.3 677.4,798.0 679.4,798.7 681.4,799.4 683.4,800.0 685.4,800.7 687.4,801.3 689.4,801.9 691.4,802.4 693.4,802.9 695.4,803.4 697.4,803.9 699.4,804.4 701.4,804.8 703.4,805.2 705.4,805.5 707.4,805.9 709.4,806.3 711.4,806.6 713.4,806.9 715.4,807.2 717.4,807.5 719.4,807.8 721.4,808.1 723.4,808.4 725.4,808.7 727.4,809.0 729.4,809.3 731.4,809.6 733.4,809.9 735.4,810.1 737.4,810.4 739.4,810.7 741.4,810.9 743.4,811.2 745.4,811.4 747.4,811.7 749.4,811.9 751.4,812.2 753.4,812.4 755.4,812.6 757.4,812.8 759.4,813.0 761.4,813.2 763.4,813.4 765.4,813.6 767.4,813.8 769.4,814.0 771.4,814.2 773.4,814.4 775.4,814.5 777.4,814.7 779.4,814.9 781.4,815.0 783.4,815.2 785.4,815.3 787.4,815.5 789.4,815.6 791.4,815.8 793.4,815.9 795.4,816.0 797.4,816.1 799.4,816.3 801.4,816.4 803.4,816.5 805.4,816.6 807.4,816.7 809.4,816.8 811.4,816.9 813.4,817.1 815.4,817.2 817.4,817.3 819.4,817.4 821.4,817.5 823.4,817.6 825.4,817.8 827.4,817.9 829.4,818.0 831.4,818.2 833.4,818.3 835.4,818.4 837.4,818.6 839.4,818.7 841.4,818.8 843.4,819.0 845.4,819.1 847.4,819.2 849.4,819.3 851.4,819.5 853.4,819.6 855.4,819.7 857.4,819.8 859.4,819.9 861.4,820.0 863.4,820.1 865.4,820.2 867.4,820.3 869.4,820.3 871.4,820.4 873.4,820.4 875.4,820.5 877.4,820.5 879.4,820.6 881.4,820.6 883.4,820.7 885.4,820.7 887.4,820.7 889.4,820.7 891.4,820.8 893.4,820.8 895.4,820.8 897.4,820.8 899.4,820.8 901.4,820.8 903.4,820.8 905.4,820.8 907.4,820.8 909.4,820.8 911.4,820.8 913.4,820.8 915.4,820.8 917.4,820.8 919.4,820.8 921.4,820.8 923.4,820.8 925.4,820.8 927.4,820.8 929.4,820.8 931.4,820.8 933.4,820.7 935.4,820.7 937.4,820.7 939.4,820.7 941.4,820.6 943.4,820.6 945.4,820.6 947.4,820.5 949.4,820.5 951.4,820.4 953.4,820.4 955.4,820.3 957.4,820.3 959.4,820.2 961.4,820.1 963.4,820.1 965.4,820.0 967.4,819.9 969.4,819.8 971.4,819.7 973.4,819.6 975.4,819.6 977.4,819.5 979.4,819.4 981.4,819.3 983.4,819.2 985.4,819.1 987.4,819.0 989.4,819.0 991.4,818.9 993.4,818.8 995.4,818.8 997.4,818.7 999.4,818.7 1001.4,818.7 1003.4,818.7 1005.4,818.7 1007.4,818.7 1009.4,818.7 1011.4,818.7 1013.4,818.7 1015.4,818.8 1017.4,818.8 1019.4,818.9 1021.4,818.9 1023.4,819.0 1025.4,819.1 1027.4,819.2 1029.4,819.2 1031.4,819.3 1033.4,819.4 1035.4,819.5 1037.4,819.6 1039.4,819.7 1041.4,819.8 1043.4,819.8 1045.4,819.9 1047.4,820.0 1049.4,820.1 1051.4,820.2 1053.4,820.2 1055.4,820.3 1057.4,820.4 1059.4,820.4 1061.4,820.5 1063.4,820.5 1065.4,820.6 1067.4,820.6 1069.4,820.6 1071.4,820.7 1073.4,820.7 1075.4,820.7 1077.4,820.7 1079.4,820.8 1081.4,820.8 1083.4,820.8 1085.4,820.8 1087.4,820.8 1089.4,820.8 1091.4,820.8 1093.4,820.8 1093.6,820.8 1093.6,820.86" fill="#E3005B" stroke="none"/>
<polyline points="395.4,820.6 397.4,820.5 399.4,820.4 401.4,820.3 403.4,820.2 405.4,820.1 407.4,819.9 409.4,819.7 411.4,819.5 413.4,819.2 415.4,818.9 417.4,818.6 419.4,818.2 421.4,817.7 423.4,817.2 425.4,816.5 427.4,815.9 429.4,815.1 431.4,814.2 433.4,813.2 435.4,812.2 437.4,811.0 439.4,809.6 441.4,808.2 443.4,806.6 445.4,804.9 447.4,803.1 449.4,801.1 451.4,799.0 453.4,796.8 455.4,794.4 457.4,791.9 459.4,789.3 461.4,786.6 463.4,783.7 465.4,780.8 467.4,777.8 469.4,774.7 471.4,771.6 473.4,768.5 475.4,765.3 477.4,762.2 479.4,759.1 481.4,756.1 483.4,753.1 485.4,750.3 487.4,747.5 489.4,745.0 491.4,742.6 493.4,740.3 495.4,738.3 497.4,736.5 499.4,734.9 501.4,733.5 503.4,732.4 505.4,731.5 507.4,730.9 509.4,730.5 511.4,730.4 513.4,730.5 515.4,730.8 517.4,731.3 519.4,731.9 521.4,732.8 523.4,733.8 525.4,734.9 527.4,736.2 529.4,737.5 531.4,738.9 533.4,740.4 535.4,741.8 537.4,743.3 539.4,744.8 541.4,746.3 543.4,747.7 545.4,749.2 547.4,750.5 549.4,751.8 551.4,753.1 553.4,754.3 555.4,755.5 557.4,756.5 559.4,757.6 561.4,758.6 563.4,759.5 565.4,760.4 567.4,761.3 569.4,762.1 571.4,762.9 573.4,763.7 575.4,764.5 577.4,765.2 579.4,766.0 581.4,766.7 583.4,767.4 585.4,768.2 587.4,768.9 589.4,769.6 591.4,770.3 593.4,771.1 595.4,771.8 597.4,772.6 599.4,773.3 601.4,774.0 603.4,774.8 605.4,775.5 607.4,776.2 609.4,776.9 611.4,777.6 613.4,778.3 615.4,779.0 617.4,779.7 619.4,780.3 621.4,780.9 623.4,781.5 625.4,782.1 627.4,782.7 629.4,783.2 631.4,783.7 633.4,784.3 635.4,784.8 637.4,785.3 639.4,785.8 641.4,786.3 643.4,786.8 645.4,787.3 647.4,787.9 649.4,788.4 651.4,789.0 653.4,789.6 655.4,790.2 657.4,790.9 659.4,791.5 661.4,792.2 663.4,792.9 665.4,793.6 667.4,794.4 669.4,795.1 671.4,795.8 673.4,796.6 675.4,797.3 677.4,798.0 679.4,798.7 681.4,799.4 683.4,800.0 685.4,800.7 687.4,801.3 689.4,801.9 691.4,802.4 693.4,802.9 695.4,803.4 697.4,803.9 699.4,804.4 701.4,804.8 703.4,805.2 705.4,805.5 707.4,805.9 709.4,806.3 711.4,806.6 713.4,806.9 715.4,807.2 717.4,807.5 719.4,807.8 721.4,808.1 723.4,808.4 725.4,808.7 727.4,809.0 729.4,809.3 731.4,809.6 733.4,809.9 735.4,810.1 737.4,810.4 739.4,810.7 741.4,810.9 743.4,811.2 745.4,811.4 747.4,811.7 749.4,811.9 751.4,812.2 753.4,812.4 755.4,812.6 757.4,812.8 759.4,813.0 761.4,813.2 763.4,813.4 765.4,813.6 767.4,813.8 769.4,814.0 771.4,814.2 773.4,814.4 775.4,814.5 777.4,814.7 779.4,814.9 781.4,815.0 783.4,815.2 785.4,815.3 787.4,815.5 789.4,815.6 791.4,815.8 793.4,815.9 795.4,816.0 797.4,816.1 799.4,816.3 801.4,816.4 803.4,816.5 805.4,816.6 807.4,816.7 809.4,816.8 811.4,816.9 813.4,817.1 815.4,817.2 817.4,817.3 819.4,817.4 821.4,817.5 823.4,817.6 825.4,817.8 827.4,817.9 829.4,818.0 831.4,818.2 833.4,818.3 835.4,818.4 837.4,818.6 839.4,818.7 841.4,818.8 843.4,819.0 845.4,819.1 847.4,819.2 849.4,819.3 851.4,819.5 853.4,819.6 855.4,819.7 857.4,819.8 859.4,819.9 861.4,820.0 863.4,820.1 865.4,820.2 867.4,820.3 869.4,820.3 871.4,820.4 873.4,820.4 875.4,820.5 877.4,820.5 879.4,820.6 881.4,820.6 883.4,820.7 885.4,820.7 887.4,820.7 889.4,820.7 891.4,820.8 893.4,820.8 895.4,820.8 897.4,820.8 899.4,820.8 901.4,820.8 903.4,820.8 905.4,820.8 907.4,820.8 909.4,820.8 911.4,820.8 913.4,820.8 915.4,820.8 917.4,820.8 919.4,820.8 921.4,820.8 923.4,820.8 925.4,820.8 927.4,820.8 929.4,820.8 931.4,820.8 933.4,820.7 935.4,820.7 937.4,820.7 939.4,820.7 941.4,820.6 943.4,820.6 945.4,820.6 947.4,820.5 949.4,820.5 951.4,820.4 953.4,820.4 955.4,820.3 957.4,820.3 959.4,820.2 961.4,820.1 963.4,820.1 965.4,820.0 967.4,819.9 969.4,819.8 971.4,819.7 973.4,819.6 975.4,819.6 977.4,819.5 979.4,819.4 981.4,819.3 983.4,819.2 985.4,819.1 987.4,819.0 989.4,819.0 991.4,818.9 993.4,818.8 995.4,818.8 997.4,818.7 999.4,818.7 1001.4,818.7 1003.4,818.7 1005.4,818.7 1007.4,818.7 1009.4,818.7 1011.4,818.7 1013.4,818.7 1015.4,818.8 1017.4,818.8 1019.4,818.9 1021.4,818.9 1023.4,819.0 1025.4,819.1 1027.4,819.2 1029.4,819.2 1031.4,819.3 1033.4,819.4 1035.4,819.5 1037.4,819.6 1039.4,819.7 1041.4,819.8 1043.4,819.8 1045.4,819.9 1047.4,820.0 1049.4,820.1 1051.4,820.2 1053.4,820.2 1055.4,820.3 1057.4,820.4 1059.4,820.4 1061.4,820.5 1063.4,820.5 1065.4,820.6 1067.4,820.6 1069.4,820.6 1071.4,820.7 1073.4,820.7 1075.4,820.7 1077.4,820.7 1079.4,820.8 1081.4,820.8 1083.4,820.8 1085.4,820.8 1087.4,820.8 1089.4,820.8 1091.4,820.8 1093.4,820.8 1093.6,820.8" fill="none" stroke="#000" stroke-width="2.0" stroke-linejoin="round" stroke-linecap="round"/>
<polygon points="395.4,879.69 395.4,879.6 397.4,879.6 399.4,879.5 401.4,879.5 403.4,879.4 405.4,879.4 407.4,879.3 409.4,879.2 411.4,879.1 413.4,879.0 415.4,878.8 417.4,878.6 419.4,878.4 421.4,878.1 423.4,877.8 425.4,877.5 427.4,877.1 429.4,876.6 431.4,876.1 433.4,875.5 435.4,874.8 437.4,874.0 439.4,873.1 441.4,872.2 443.4,871.1 445.4,869.9 447.4,868.6 449.4,867.2 451.4,865.7 453.4,864.0 455.4,862.2 457.4,860.3 459.4,858.2 461.4,856.0 463.4,853.7 465.4,851.3 467.4,848.8 469.4,846.1 471.4,843.4 473.4,840.6 475.4,837.8 477.4,834.8 479.4,831.9 481.4,828.9 483.4,825.8 485.4,822.8 487.4,819.8 489.4,816.9 491.4,813.9 493.4,811.1 495.4,808.3 497.4,805.6 499.4,803.1 501.4,800.6 503.4,798.3 505.4,796.1 507.4,794.1 509.4,792.3 511.4,790.6 513.4,789.1 515.4,787.8 517.4,786.8 519.4,785.9 521.4,785.2 523.4,784.8 525.4,784.5 527.4,784.4 529.4,784.6 531.4,784.9 533.4,785.5 535.4,786.2 537.4,787.1 539.4,788.1 541.4,789.3 543.4,790.7 545.4,792.1 547.4,793.7 549.4,795.4 551.4,797.1 553.4,798.9 555.4,800.8 557.4,802.7 559.4,804.7 561.4,806.7 563.4,808.7 565.4,810.7 567.4,812.7 569.4,814.7 571.4,816.7 573.4,818.7 575.4,820.7 577.4,822.6 579.4,824.5 581.4,826.4 583.4,828.2 585.4,830.0 587.4,831.8 589.4,833.5 591.4,835.2 593.4,836.8 595.4,838.3 597.4,839.7 599.4,841.1 601.4,842.4 603.4,843.7 605.4,844.8 607.4,845.8 609.4,846.8 611.4,847.7 613.4,848.5 615.4,849.2 617.4,849.8 619.4,850.4 621.4,850.9 623.4,851.3 625.4,851.7 627.4,852.1 629.4,852.4 631.4,852.7 633.4,852.9 635.4,853.2 637.4,853.4 639.4,853.7 641.4,854.0 643.4,854.3 645.4,854.6 647.4,854.9 649.4,855.3 651.4,855.7 653.4,856.1 655.4,856.5 657.4,856.9 659.4,857.4 661.4,857.9 663.4,858.3 665.4,858.8 667.4,859.3 669.4,859.7 671.4,860.1 673.4,860.5 675.4,860.9 677.4,861.3 679.4,861.6 681.4,861.9 683.4,862.2 685.4,862.5 687.4,862.7 689.4,862.9 691.4,863.0 693.4,863.2 695.4,863.3 697.4,863.5 699.4,863.6 701.4,863.7 703.4,863.8 705.4,863.8 707.4,863.9 709.4,864.0 711.4,864.1 713.4,864.2 715.4,864.3 717.4,864.5 719.4,864.6 721.4,864.7 723.4,864.8 725.4,865.0 727.4,865.1 729.4,865.3 731.4,865.4 733.4,865.6 735.4,865.8 737.4,865.9 739.4,866.1 741.4,866.2 743.4,866.3 745.4,866.4 747.4,866.6 749.4,866.7 751.4,866.7 753.4,866.8 755.4,866.9 757.4,866.9 759.4,867.0 761.4,867.0 763.4,867.0 765.4,867.0 767.4,867.0 769.4,867.0 771.4,867.0 773.4,867.0 775.4,867.0 777.4,867.0 779.4,866.9 781.4,867.0 783.4,867.0 785.4,867.0 787.4,867.0 789.4,867.1 791.4,867.2 793.4,867.3 795.4,867.4 797.4,867.5 799.4,867.7 801.4,867.8 803.4,868.0 805.4,868.2 807.4,868.4 809.4,868.7 811.4,868.9 813.4,869.1 815.4,869.4 817.4,869.6 819.4,869.9 821.4,870.2 823.4,870.4 825.4,870.7 827.4,871.0 829.4,871.2 831.4,871.5 833.4,871.7 835.4,872.0 837.4,872.2 839.4,872.5 841.4,872.7 843.4,873.0 845.4,873.2 847.4,873.5 849.4,873.7 851.4,874.0 853.4,874.2 855.4,874.5 857.4,874.7 859.4,875.0 861.4,875.2 863.4,875.5 865.4,875.7 867.4,876.0 869.4,876.2 871.4,876.5 873.4,876.7 875.4,876.9 877.4,877.1 879.4,877.3 881.4,877.5 883.4,877.7 885.4,877.9 887.4,878.1 889.4,878.2 891.4,878.4 893.4,878.5 895.4,878.7 897.4,878.8 899.4,878.9 901.4,879.0 903.4,879.1 905.4,879.2 907.4,879.2 909.4,879.3 911.4,879.3 913.4,879.4 915.4,879.4 917.4,879.5 919.4,879.5 921.4,879.5 923.4,879.5 925.4,879.5 927.4,879.5 929.4,879.5 931.4,879.5 933.4,879.5 935.4,879.5 937.4,879.5 939.4,879.5 941.4,879.5 943.4,879.4 945.4,879.4 947.4,879.4 949.4,879.3 951.4,879.3 953.4,879.2 955.4,879.2 957.4,879.1 959.4,879.1 961.4,879.0 963.4,878.9 965.4,878.8 967.4,878.8 969.4,878.7 971.4,878.6 973.4,878.5 975.4,878.4 977.4,878.3 979.4,878.2 981.4,878.1 983.4,878.0 985.4,878.0 987.4,877.9 989.4,877.8 991.4,877.7 993.4,877.7 995.4,877.6 997.4,877.6 999.4,877.5 1001.4,877.5 1003.4,877.5 1005.4,877.5 1007.4,877.5 1009.4,877.5 1011.4,877.5 1013.4,877.5 1015.4,877.6 1017.4,877.6 1019.4,877.7 1021.4,877.8 1023.4,877.8 1025.4,877.9 1027.4,878.0 1029.4,878.1 1031.4,878.2 1033.4,878.2 1035.4,878.3 1037.4,878.4 1039.4,878.5 1041.4,878.6 1043.4,878.7 1045.4,878.8 1047.4,878.9 1049.4,878.9 1051.4,879.0 1053.4,879.1 1055.4,879.1 1057.4,879.2 1059.4,879.3 1061.4,879.3 1063.4,879.4 1065.4,879.4 1067.4,879.4 1069.4,879.5 1071.4,879.5 1073.4,879.5 1075.4,879.5 1077.4,879.6 1079.4,879.6 1081.4,879.6 1083.4,879.6 1085.4,879.6 1087.4,879.6 1089.4,879.6 1091.4,879.7 1093.4,879.7 1093.6,879.7 1093.6,879.69" fill="#FB001A" stroke="none"/>
<polyline points="395.4,879.6 397.4,879.6 399.4,879.5 401.4,879.5 403.4,879.4 405.4,879.4 407.4,879.3 409.4,879.2 411.4,879.1 413.4,879.0 415.4,878.8 417.4,878.6 419.4,878.4 421.4,878.1 423.4,877.8 425.4,877.5 427.4,877.1 429.4,876.6 431.4,876.1 433.4,875.5 435.4,874.8 437.4,874.0 439.4,873.1 441.4,872.2 443.4,871.1 445.4,869.9 447.4,868.6 449.4,867.2 451.4,865.7 453.4,864.0 455.4,862.2 457.4,860.3 459.4,858.2 461.4,856.0 463.4,853.7 465.4,851.3 467.4,848.8 469.4,846.1 471.4,843.4 473.4,840.6 475.4,837.8 477.4,834.8 479.4,831.9 481.4,828.9 483.4,825.8 485.4,822.8 487.4,819.8 489.4,816.9 491.4,813.9 493.4,811.1 495.4,808.3 497.4,805.6 499.4,803.1 501.4,800.6 503.4,798.3 505.4,796.1 507.4,794.1 509.4,792.3 511.4,790.6 513.4,789.1 515.4,787.8 517.4,786.8 519.4,785.9 521.4,785.2 523.4,784.8 525.4,784.5 527.4,784.4 529.4,784.6 531.4,784.9 533.4,785.5 535.4,786.2 537.4,787.1 539.4,788.1 541.4,789.3 543.4,790.7 545.4,792.1 547.4,793.7 549.4,795.4 551.4,797.1 553.4,798.9 555.4,800.8 557.4,802.7 559.4,804.7 561.4,806.7 563.4,808.7 565.4,810.7 567.4,812.7 569.4,814.7 571.4,816.7 573.4,818.7 575.4,820.7 577.4,822.6 579.4,824.5 581.4,826.4 583.4,828.2 585.4,830.0 587.4,831.8 589.4,833.5 591.4,835.2 593.4,836.8 595.4,838.3 597.4,839.7 599.4,841.1 601.4,842.4 603.4,843.7 605.4,844.8 607.4,845.8 609.4,846.8 611.4,847.7 613.4,848.5 615.4,849.2 617.4,849.8 619.4,850.4 621.4,850.9 623.4,851.3 625.4,851.7 627.4,852.1 629.4,852.4 631.4,852.7 633.4,852.9 635.4,853.2 637.4,853.4 639.4,853.7 641.4,854.0 643.4,854.3 645.4,854.6 647.4,854.9 649.4,855.3 651.4,855.7 653.4,856.1 655.4,856.5 657.4,856.9 659.4,857.4 661.4,857.9 663.4,858.3 665.4,858.8 667.4,859.3 669.4,859.7 671.4,860.1 673.4,860.5 675.4,860.9 677.4,861.3 679.4,861.6 681.4,861.9 683.4,862.2 685.4,862.5 687.4,862.7 689.4,862.9 691.4,863.0 693.4,863.2 695.4,863.3 697.4,863.5 699.4,863.6 701.4,863.7 703.4,863.8 705.4,863.8 707.4,863.9 709.4,864.0 711.4,864.1 713.4,864.2 715.4,864.3 717.4,864.5 719.4,864.6 721.4,864.7 723.4,864.8 725.4,865.0 727.4,865.1 729.4,865.3 731.4,865.4 733.4,865.6 735.4,865.8 737.4,865.9 739.4,866.1 741.4,866.2 743.4,866.3 745.4,866.4 747.4,866.6 749.4,866.7 751.4,866.7 753.4,866.8 755.4,866.9 757.4,866.9 759.4,867.0 761.4,867.0 763.4,867.0 765.4,867.0 767.4,867.0 769.4,867.0 771.4,867.0 773.4,867.0 775.4,867.0 777.4,867.0 779.4,866.9 781.4,867.0 783.4,867.0 785.4,867.0 787.4,867.0 789.4,867.1 791.4,867.2 793.4,867.3 795.4,867.4 797.4,867.5 799.4,867.7 801.4,867.8 803.4,868.0 805.4,868.2 807.4,868.4 809.4,868.7 811.4,868.9 813.4,869.1 815.4,869.4 817.4,869.6 819.4,869.9 821.4,870.2 823.4,870.4 825.4,870.7 827.4,871.0 829.4,871.2 831.4,871.5 833.4,871.7 835.4,872.0 837.4,872.2 839.4,872.5 841.4,872.7 843.4,873.0 845.4,873.2 847.4,873.5 849.4,873.7 851.4,874.0 853.4,874.2 855.4,874.5 857.4,874.7 859.4,875.0 861.4,875.2 863.4,875.5 865.4,875.7 867.4,876.0 869.4,876.2 871.4,876.5 873.4,876.7 875.4,876.9 877.4,877.1 879.4,877.3 881.4,877.5 883.4,877.7 885.4,877.9 887.4,878.1 889.4,878.2 891.4,878.4 893.4,878.5 895.4,878.7 897.4,878.8 899.4,878.9 901.4,879.0 903.4,879.1 905.4,879.2 907.4,879.2 909.4,879.3 911.4,879.3 913.4,879.4 915.4,879.4 917.4,879.5 919.4,879.5 921.4,879.5 923.4,879.5 925.4,879.5 927.4,879.5 929.4,879.5 931.4,879.5 933.4,879.5 935.4,879.5 937.4,879.5 939.4,879.5 941.4,879.5 943.4,879.4 945.4,879.4 947.4,879.4 949.4,879.3 951.4,879.3 953.4,879.2 955.4,879.2 957.4,879.1 959.4,879.1 961.4,879.0 963.4,878.9 965.4,878.8 967.4,878.8 969.4,878.7 971.4,878.6 973.4,878.5 975.4,878.4 977.4,878.3 979.4,878.2 981.4,878.1 983.4,878.0 985.4,878.0 987.4,877.9 989.4,877.8 991.4,877.7 993.4,877.7 995.4,877.6 997.4,877.6 999.4,877.5 1001.4,877.5 1003.4,877.5 1005.4,877.5 1007.4,877.5 1009.4,877.5 1011.4,877.5 1013.4,877.5 1015.4,877.6 1017.4,877.6 1019.4,877.7 1021.4,877.8 1023.4,877.8 1025.4,877.9 1027.4,878.0 1029.4,878.1 1031.4,878.2 1033.4,878.2 1035.4,878.3 1037.4,878.4 1039.4,878.5 1041.4,878.6 1043.4,878.7 1045.4,878.8 1047.4,878.9 1049.4,878.9 1051.4,879.0 1053.4,879.1 1055.4,879.1 1057.4,879.2 1059.4,879.3 1061.4,879.3 1063.4,879.4 1065.4,879.4 1067.4,879.4 1069.4,879.5 1071.4,879.5 1073.4,879.5 1075.4,879.5 1077.4,879.6 1079.4,879.6 1081.4,879.6 1083.4,879.6 1085.4,879.6 1087.4,879.6 1089.4,879.6 1091.4,879.7 1093.4,879.7 1093.6,879.7" fill="none" stroke="#000" stroke-width="2.0" stroke-linejoin="round" stroke-linecap="round"/>
<polygon points="395.4,938.52 395.4,938.1 397.4,938.1 399.4,937.9 401.4,937.8 403.4,937.7 405.4,937.5 407.4,937.2 409.4,937.0 411.4,936.7 413.4,936.3 415.4,935.9 417.4,935.4 419.4,934.8 421.4,934.2 423.4,933.4 425.4,932.6 427.4,931.6 429.4,930.5 431.4,929.3 433.4,928.0 435.4,926.5 437.4,924.9 439.4,923.1 441.4,921.2 443.4,919.1 445.4,916.8 447.4,914.4 449.4,911.8 451.4,909.1 453.4,906.2 455.4,903.2 457.4,900.0 459.4,896.7 461.4,893.4 463.4,889.9 465.4,886.4 467.4,882.8 469.4,879.2 471.4,875.6 473.4,872.0 475.4,868.5 477.4,865.1 479.4,861.7 481.4,858.5 483.4,855.5 485.4,852.6 487.4,849.9 489.4,847.5 491.4,845.2 493.4,843.2 495.4,841.5 497.4,840.1 499.4,838.9 501.4,838.0 503.4,837.4 505.4,837.0 507.4,836.9 509.4,837.1 511.4,837.5 513.4,838.2 515.4,839.1 517.4,840.1 519.4,841.4 521.4,842.8 523.4,844.3 525.4,846.0 527.4,847.7 529.4,849.5 531.4,851.4 533.4,853.3 535.4,855.2 537.4,857.1 539.4,859.0 541.4,860.9 543.4,862.7 545.4,864.5 547.4,866.2 549.4,867.9 551.4,869.5 553.4,871.1 555.4,872.7 557.4,874.2 559.4,875.6 561.4,877.1 563.4,878.5 565.4,879.9 567.4,881.2 569.4,882.6 571.4,884.0 573.4,885.3 575.4,886.7 577.4,888.0 579.4,889.4 581.4,890.7 583.4,892.1 585.4,893.5 587.4,894.8 589.4,896.2 591.4,897.5 593.4,898.8 595.4,900.1 597.4,901.4 599.4,902.7 601.4,903.9 603.4,905.1 605.4,906.3 607.4,907.4 609.4,908.5 611.4,909.5 613.4,910.5 615.4,911.4 617.4,912.4 619.4,913.2 621.4,914.0 623.4,914.8 625.4,915.6 627.4,916.3 629.4,917.0 631.4,917.6 633.4,918.2 635.4,918.8 637.4,919.4 639.4,919.9 641.4,920.4 643.4,920.9 645.4,921.3 647.4,921.8 649.4,922.2 651.4,922.6 653.4,922.9 655.4,923.3 657.4,923.6 659.4,923.9 661.4,924.2 663.4,924.5 665.4,924.7 667.4,924.9 669.4,925.1 671.4,925.2 673.4,925.3 675.4,925.4 677.4,925.5 679.4,925.5 681.4,925.5 683.4,925.4 685.4,925.4 687.4,925.3 689.4,925.2 691.4,925.1 693.4,925.0 695.4,924.8 697.4,924.7 699.4,924.5 701.4,924.4 703.4,924.3 705.4,924.2 707.4,924.1 709.4,924.0 711.4,924.0 713.4,924.0 715.4,924.0 717.4,924.1 719.4,924.2 721.4,924.3 723.4,924.4 725.4,924.6 727.4,924.9 729.4,925.1 731.4,925.4 733.4,925.7 735.4,926.0 737.4,926.3 739.4,926.7 741.4,927.0 743.4,927.4 745.4,927.7 747.4,928.1 749.4,928.4 751.4,928.7 753.4,929.0 755.4,929.4 757.4,929.7 759.4,929.9 761.4,930.2 763.4,930.5 765.4,930.7 767.4,930.9 769.4,931.1 771.4,931.3 773.4,931.5 775.4,931.7 777.4,931.8 779.4,932.0 781.4,932.1 783.4,932.3 785.4,932.4 787.4,932.5 789.4,932.7 791.4,932.8 793.4,932.9 795.4,933.0 797.4,933.1 799.4,933.2 801.4,933.3 803.4,933.4 805.4,933.5 807.4,933.7 809.4,933.8 811.4,933.9 813.4,934.0 815.4,934.1 817.4,934.3 819.4,934.4 821.4,934.6 823.4,934.7 825.4,934.9 827.4,935.0 829.4,935.2 831.4,935.3 833.4,935.5 835.4,935.6 837.4,935.8 839.4,936.0 841.4,936.1 843.4,936.3 845.4,936.5 847.4,936.6 849.4,936.8 851.4,936.9 853.4,937.0 855.4,937.2 857.4,937.3 859.4,937.4 861.4,937.5 863.4,937.6 865.4,937.7 867.4,937.8 869.4,937.9 871.4,938.0 873.4,938.0 875.4,938.1 877.4,938.2 879.4,938.2 881.4,938.2 883.4,938.3 885.4,938.3 887.4,938.4 889.4,938.4 891.4,938.4 893.4,938.4 895.4,938.4 897.4,938.4 899.4,938.5 901.4,938.5 903.4,938.5 905.4,938.5 907.4,938.5 909.4,938.5 911.4,938.5 913.4,938.5 915.4,938.5 917.4,938.5 919.4,938.5 921.4,938.5 923.4,938.5 925.4,938.5 927.4,938.5 929.4,938.5 931.4,938.4 933.4,938.4 935.4,938.4 937.4,938.4 939.4,938.4 941.4,938.4 943.4,938.3 945.4,938.3 947.4,938.3 949.4,938.2 951.4,938.2 953.4,938.2 955.4,938.1 957.4,938.1 959.4,938.0 961.4,938.0 963.4,937.9 965.4,937.9 967.4,937.8 969.4,937.8 971.4,937.7 973.4,937.6 975.4,937.6 977.4,937.5 979.4,937.4 981.4,937.4 983.4,937.3 985.4,937.3 987.4,937.2 989.4,937.1 991.4,937.1 993.4,937.1 995.4,937.0 997.4,937.0 999.4,937.0 1001.4,936.9 1003.4,936.9 1005.4,936.9 1007.4,936.9 1009.4,936.9 1011.4,936.9 1013.4,937.0 1015.4,937.0 1017.4,937.0 1019.4,937.1 1021.4,937.1 1023.4,937.2 1025.4,937.2 1027.4,937.3 1029.4,937.3 1031.4,937.4 1033.4,937.5 1035.4,937.5 1037.4,937.6 1039.4,937.7 1041.4,937.7 1043.4,937.8 1045.4,937.8 1047.4,937.9 1049.4,938.0 1051.4,938.0 1053.4,938.1 1055.4,938.1 1057.4,938.2 1059.4,938.2 1061.4,938.2 1063.4,938.3 1065.4,938.3 1067.4,938.3 1069.4,938.4 1071.4,938.4 1073.4,938.4 1075.4,938.4 1077.4,938.4 1079.4,938.4 1081.4,938.5 1083.4,938.5 1085.4,938.5 1087.4,938.5 1089.4,938.5 1091.4,938.5 1093.4,938.5 1093.6,938.5 1093.6,938.52" fill="#E3005B" stroke="none"/>
<polyline points="395.4,938.1 397.4,938.1 399.4,937.9 401.4,937.8 403.4,937.7 405.4,937.5 407.4,937.2 409.4,937.0 411.4,936.7 413.4,936.3 415.4,935.9 417.4,935.4 419.4,934.8 421.4,934.2 423.4,933.4 425.4,932.6 427.4,931.6 429.4,930.5 431.4,929.3 433.4,928.0 435.4,926.5 437.4,924.9 439.4,923.1 441.4,921.2 443.4,919.1 445.4,916.8 447.4,914.4 449.4,911.8 451.4,909.1 453.4,906.2 455.4,903.2 457.4,900.0 459.4,896.7 461.4,893.4 463.4,889.9 465.4,886.4 467.4,882.8 469.4,879.2 471.4,875.6 473.4,872.0 475.4,868.5 477.4,865.1 479.4,861.7 481.4,858.5 483.4,855.5 485.4,852.6 487.4,849.9 489.4,847.5 491.4,845.2 493.4,843.2 495.4,841.5 497.4,840.1 499.4,838.9 501.4,838.0 503.4,837.4 505.4,837.0 507.4,836.9 509.4,837.1 511.4,837.5 513.4,838.2 515.4,839.1 517.4,840.1 519.4,841.4 521.4,842.8 523.4,844.3 525.4,846.0 527.4,847.7 529.4,849.5 531.4,851.4 533.4,853.3 535.4,855.2 537.4,857.1 539.4,859.0 541.4,860.9 543.4,862.7 545.4,864.5 547.4,866.2 549.4,867.9 551.4,869.5 553.4,871.1 555.4,872.7 557.4,874.2 559.4,875.6 561.4,877.1 563.4,878.5 565.4,879.9 567.4,881.2 569.4,882.6 571.4,884.0 573.4,885.3 575.4,886.7 577.4,888.0 579.4,889.4 581.4,890.7 583.4,892.1 585.4,893.5 587.4,894.8 589.4,896.2 591.4,897.5 593.4,898.8 595.4,900.1 597.4,901.4 599.4,902.7 601.4,903.9 603.4,905.1 605.4,906.3 607.4,907.4 609.4,908.5 611.4,909.5 613.4,910.5 615.4,911.4 617.4,912.4 619.4,913.2 621.4,914.0 623.4,914.8 625.4,915.6 627.4,916.3 629.4,917.0 631.4,917.6 633.4,918.2 635.4,918.8 637.4,919.4 639.4,919.9 641.4,920.4 643.4,920.9 645.4,921.3 647.4,921.8 649.4,922.2 651.4,922.6 653.4,922.9 655.4,923.3 657.4,923.6 659.4,923.9 661.4,924.2 663.4,924.5 665.4,924.7 667.4,924.9 669.4,925.1 671.4,925.2 673.4,925.3 675.4,925.4 677.4,925.5 679.4,925.5 681.4,925.5 683.4,925.4 685.4,925.4 687.4,925.3 689.4,925.2 691.4,925.1 693.4,925.0 695.4,924.8 697.4,924.7 699.4,924.5 701.4,924.4 703.4,924.3 705.4,924.2 707.4,924.1 709.4,924.0 711.4,924.0 713.4,924.0 715.4,924.0 717.4,924.1 719.4,924.2 721.4,924.3 723.4,924.4 725.4,924.6 727.4,924.9 729.4,925.1 731.4,925.4 733.4,925.7 735.4,926.0 737.4,926.3 739.4,926.7 741.4,927.0 743.4,927.4 745.4,927.7 747.4,928.1 749.4,928.4 751.4,928.7 753.4,929.0 755.4,929.4 757.4,929.7 759.4,929.9 761.4,930.2 763.4,930.5 765.4,930.7 767.4,930.9 769.4,931.1 771.4,931.3 773.4,931.5 775.4,931.7 777.4,931.8 779.4,932.0 781.4,932.1 783.4,932.3 785.4,932.4 787.4,932.5 789.4,932.7 791.4,932.8 793.4,932.9 795.4,933.0 797.4,933.1 799.4,933.2 801.4,933.3 803.4,933.4 805.4,933.5 807.4,933.7 809.4,933.8 811.4,933.9 813.4,934.0 815.4,934.1 817.4,934.3 819.4,934.4 821.4,934.6 823.4,934.7 825.4,934.9 827.4,935.0 829.4,935.2 831.4,935.3 833.4,935.5 835.4,935.6 837.4,935.8 839.4,936.0 841.4,936.1 843.4,936.3 845.4,936.5 847.4,936.6 849.4,936.8 851.4,936.9 853.4,937.0 855.4,937.2 857.4,937.3 859.4,937.4 861.4,937.5 863.4,937.6 865.4,937.7 867.4,937.8 869.4,937.9 871.4,938.0 873.4,938.0 875.4,938.1 877.4,938.2 879.4,938.2 881.4,938.2 883.4,938.3 885.4,938.3 887.4,938.4 889.4,938.4 891.4,938.4 893.4,938.4 895.4,938.4 897.4,938.4 899.4,938.5 901.4,938.5 903.4,938.5 905.4,938.5 907.4,938.5 909.4,938.5 911.4,938.5 913.4,938.5 915.4,938.5 917.4,938.5 919.4,938.5 921.4,938.5 923.4,938.5 925.4,938.5 927.4,938.5 929.4,938.5 931.4,938.4 933.4,938.4 935.4,938.4 937.4,938.4 939.4,938.4 941.4,938.4 943.4,938.3 945.4,938.3 947.4,938.3 949.4,938.2 951.4,938.2 953.4,938.2 955.4,938.1 957.4,938.1 959.4,938.0 961.4,938.0 963.4,937.9 965.4,937.9 967.4,937.8 969.4,937.8 971.4,937.7 973.4,937.6 975.4,937.6 977.4,937.5 979.4,937.4 981.4,937.4 983.4,937.3 985.4,937.3 987.4,937.2 989.4,937.1 991.4,937.1 993.4,937.1 995.4,937.0 997.4,937.0 999.4,937.0 1001.4,936.9 1003.4,936.9 1005.4,936.9 1007.4,936.9 1009.4,936.9 1011.4,936.9 1013.4,937.0 1015.4,937.0 1017.4,937.0 1019.4,937.1 1021.4,937.1 1023.4,937.2 1025.4,937.2 1027.4,937.3 1029.4,937.3 1031.4,937.4 1033.4,937.5 1035.4,937.5 1037.4,937.6 1039.4,937.7 1041.4,937.7 1043.4,937.8 1045.4,937.8 1047.4,937.9 1049.4,938.0 1051.4,938.0 1053.4,938.1 1055.4,938.1 1057.4,938.2 1059.4,938.2 1061.4,938.2 1063.4,938.3 1065.4,938.3 1067.4,938.3 1069.4,938.4 1071.4,938.4 1073.4,938.4 1075.4,938.4 1077.4,938.4 1079.4,938.4 1081.4,938.5 1083.4,938.5 1085.4,938.5 1087.4,938.5 1089.4,938.5 1091.4,938.5 1093.4,938.5 1093.6,938.5" fill="none" stroke="#000" stroke-width="2.0" stroke-linejoin="round" stroke-linecap="round"/>
<rect x="361.5" y="10.2" width="766.0" height="963.1999999999999" fill="none" stroke="#333333" stroke-width="1.1"/>
<line x1="356.0" y1="114.90" x2="361.5" y2="114.90" stroke="#333333" stroke-width="1.1"/>
<line x1="356.0" y1="173.73" x2="361.5" y2="173.73" stroke="#333333" stroke-width="1.1"/>
<line x1="356.0" y1="232.56" x2="361.5" y2="232.56" stroke="#333333" stroke-width="1.1"/>
<line x1="356.0" y1="291.39" x2="361.5" y2="291.39" stroke="#333333" stroke-width="1.1"/>
<line x1="356.0" y1="350.22" x2="361.5" y2="350.22" stroke="#333333" stroke-width="1.1"/>
<line x1="356.0" y1="409.05" x2="361.5" y2="409.05" stroke="#333333" stroke-width="1.1"/>
<line x1="356.0" y1="467.88" x2="361.5" y2="467.88" stroke="#333333" stroke-width="1.1"/>
<line x1="356.0" y1="526.71" x2="361.5" y2="526.71" stroke="#333333" stroke-width="1.1"/>
<line x1="356.0" y1="585.54" x2="361.5" y2="585.54" stroke="#333333" stroke-width="1.1"/>
<line x1="356.0" y1="644.37" x2="361.5" y2="644.37" stroke="#333333" stroke-width="1.1"/>
<line x1="356.0" y1="703.20" x2="361.5" y2="703.20" stroke="#333333" stroke-width="1.1"/>
<line x1="356.0" y1="762.03" x2="361.5" y2="762.03" stroke="#333333" stroke-width="1.1"/>
<line x1="356.0" y1="820.86" x2="361.5" y2="820.86" stroke="#333333" stroke-width="1.1"/>
<line x1="356.0" y1="879.69" x2="361.5" y2="879.69" stroke="#333333" stroke-width="1.1"/>
<line x1="356.0" y1="938.52" x2="361.5" y2="938.52" stroke="#333333" stroke-width="1.1"/>
<line x1="432.30" y1="973.4" x2="432.30" y2="978.6" stroke="#333333" stroke-width="1.1"/>
<line x1="683.40" y1="973.4" x2="683.40" y2="978.6" stroke="#333333" stroke-width="1.1"/>
<line x1="934.50" y1="973.4" x2="934.50" y2="978.6" stroke="#333333" stroke-width="1.1"/>
<text x="352.6" y="123.80" text-anchor="end" font-size="24.7">tuberculosis</text>
<text x="352.6" y="182.63" text-anchor="end" font-size="24.7">laryngeal carcinoma</text>
<text x="352.6" y="228.66" text-anchor="end" font-size="24.7">primary bacterial infectious</text>
<text x="352.6" y="254.56" text-anchor="end" font-size="24.7">disease</text>
<text x="352.6" y="300.29" text-anchor="end" font-size="24.7">cervical cancer</text>
<text x="352.6" y="359.12" text-anchor="end" font-size="24.7">periodontitis</text>
<text x="352.6" y="417.95" text-anchor="end" font-size="24.7">cervix carcinoma</text>
<text x="352.6" y="476.78" text-anchor="end" font-size="24.7">bacterial infectious disease</text>
<text x="352.6" y="522.81" text-anchor="end" font-size="24.7">Human immunodeficiency virus</text>
<text x="352.6" y="548.71" text-anchor="end" font-size="24.7">infectious disease</text>
<text x="352.6" y="594.44" text-anchor="end" font-size="24.7">mouth disease</text>
<text x="352.6" y="653.27" text-anchor="end" font-size="24.7">stomach cancer</text>
<text x="352.6" y="712.10" text-anchor="end" font-size="24.7">hepatitis</text>
<text x="352.6" y="770.93" text-anchor="end" font-size="24.7">embryonal cancer</text>
<text x="352.6" y="829.76" text-anchor="end" font-size="24.7">embryoma</text>
<text x="352.6" y="888.59" text-anchor="end" font-size="24.7">lung carcinoma</text>
<text x="352.6" y="934.62" text-anchor="end" font-size="24.7">female reproductive organ</text>
<text x="352.6" y="960.52" text-anchor="end" font-size="24.7">cancer</text>
<text x="432.30" y="1000.2" text-anchor="middle" font-size="23.2">0</text>
<text x="683.40" y="1000.2" text-anchor="middle" font-size="23.2">2</text>
<text x="934.50" y="1000.2" text-anchor="middle" font-size="23.2">4</text>
<defs><linearGradient id="g" x1="0" y1="0" x2="0" y2="1"><stop offset="0.00" stop-color="#FF0000"/><stop offset="0.05" stop-color="#FB001A"/><stop offset="0.10" stop-color="#F6002A"/><stop offset="0.15" stop-color="#F20037"/><stop offset="0.20" stop-color="#ED0044"/><stop offset="0.25" stop-color="#E80050"/><stop offset="0.30" stop-color="#E3005B"/><stop offset="0.35" stop-color="#DD0066"/><stop offset="0.40" stop-color="#D70072"/><stop offset="0.45" stop-color="#D1007D"/><stop offset="0.50" stop-color="#CA0088"/><stop offset="0.55" stop-color="#C20094"/><stop offset="0.60" stop-color="#BA009F"/><stop offset="0.65" stop-color="#B000AB"/><stop offset="0.70" stop-color="#A600B7"/><stop offset="0.75" stop-color="#9A00C3"/><stop offset="0.80" stop-color="#8D00CE"/><stop offset="0.85" stop-color="#7C00DA"/><stop offset="0.90" stop-color="#6800E7"/><stop offset="0.95" stop-color="#4B00F3"/><stop offset="1.00" stop-color="#0000FF"/></linearGradient></defs>
<rect x="1157.2" y="428.9" width="29.9" height="151.7" fill="url(#g)"/>
<line x1="1157.2" y1="473.3" x2="1163.2" y2="473.3" stroke="#fff" stroke-opacity="0.75" stroke-width="1"/>
<line x1="1181.1" y1="473.3" x2="1187.1" y2="473.3" stroke="#fff" stroke-opacity="0.75" stroke-width="1"/>
<line x1="1157.2" y1="516.1" x2="1163.2" y2="516.1" stroke="#fff" stroke-opacity="0.75" stroke-width="1"/>
<line x1="1181.1" y1="516.1" x2="1187.1" y2="516.1" stroke="#fff" stroke-opacity="0.75" stroke-width="1"/>
<line x1="1157.2" y1="560.1" x2="1163.2" y2="560.1" stroke="#fff" stroke-opacity="0.75" stroke-width="1"/>
<line x1="1181.1" y1="560.1" x2="1187.1" y2="560.1" stroke="#fff" stroke-opacity="0.75" stroke-width="1"/>
<text x="1157.2" y="416.8" font-size="18" textLength="56.2" lengthAdjust="spacingAndGlyphs">pvalue</text>
<text x="1197.1" y="478.90" font-size="15.4" textLength="52.2" lengthAdjust="spacingAndGlyphs">5.0e-06</text>
<text x="1197.1" y="521.70" font-size="15.4" textLength="52.2" lengthAdjust="spacingAndGlyphs">1.0e-05</text>
<text x="1197.1" y="565.70" font-size="15.4" textLength="52.2" lengthAdjust="spacingAndGlyphs">1.5e-05</text>
</svg>
</body></html>
